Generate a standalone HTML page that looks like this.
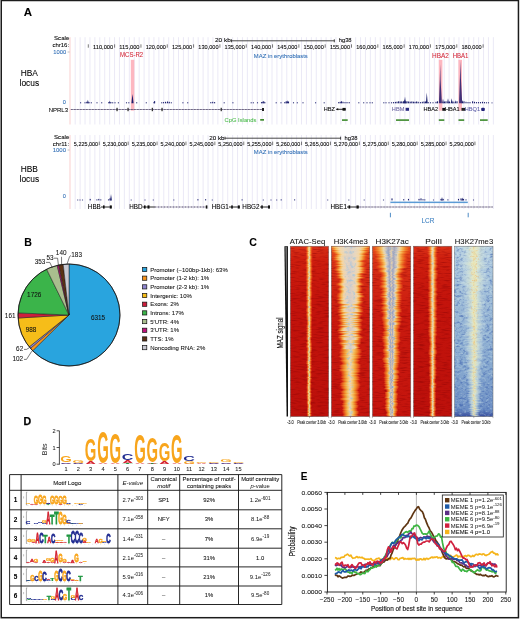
<!DOCTYPE html>
<html><head><meta charset="utf-8"><style>
html,body{margin:0;padding:0;background:#fff;}
svg{display:block;font-family:"Liberation Sans",sans-serif;will-change:transform;}
</style></head><body>
<svg width="520" height="620" viewBox="0 0 520 620">
<defs><linearGradient id="bATAC" x1="0" y1="0" x2="1" y2="0"><stop offset="0" stop-color="#E83A16" stop-opacity="0"/><stop offset="0.18" stop-color="#F05A1E" stop-opacity="0.8"/><stop offset="0.34" stop-color="#FBB440" stop-opacity="1"/><stop offset="0.44" stop-color="#FCEE9A" stop-opacity="1"/><stop offset="0.5" stop-color="#E6F4DA" stop-opacity="1"/><stop offset="0.56" stop-color="#FCEE9A" stop-opacity="1"/><stop offset="0.66" stop-color="#FBB440" stop-opacity="1"/><stop offset="0.82" stop-color="#F05A1E" stop-opacity="0.8"/><stop offset="1" stop-color="#E83A16" stop-opacity="0"/></linearGradient><linearGradient id="bK4" x1="0" y1="0" x2="1" y2="0"><stop offset="0" stop-color="#E23C16" stop-opacity="0"/><stop offset="0.07" stop-color="#E8501A" stop-opacity="0.9"/><stop offset="0.13" stop-color="#F49030" stop-opacity="1"/><stop offset="0.19" stop-color="#FCD468" stop-opacity="1"/><stop offset="0.26" stop-color="#FAF2BC" stop-opacity="1"/><stop offset="0.36" stop-color="#EAF2DC" stop-opacity="1"/><stop offset="0.5" stop-color="#DAEAE6" stop-opacity="1"/><stop offset="0.64" stop-color="#EAF2DC" stop-opacity="1"/><stop offset="0.74" stop-color="#FAF2BC" stop-opacity="1"/><stop offset="0.81" stop-color="#FCD468" stop-opacity="1"/><stop offset="0.87" stop-color="#F49030" stop-opacity="1"/><stop offset="0.93" stop-color="#E8501A" stop-opacity="0.9"/><stop offset="1" stop-color="#E23C16" stop-opacity="0"/></linearGradient><linearGradient id="bK27" x1="0" y1="0" x2="1" y2="0"><stop offset="0" stop-color="#E23C16" stop-opacity="0"/><stop offset="0.08" stop-color="#E8501A" stop-opacity="0.9"/><stop offset="0.17" stop-color="#F49030" stop-opacity="1"/><stop offset="0.25" stop-color="#FCD468" stop-opacity="1"/><stop offset="0.31" stop-color="#EEF2C8" stop-opacity="1"/><stop offset="0.37" stop-color="#C8DEE2" stop-opacity="1"/><stop offset="0.43" stop-color="#9CBAD8" stop-opacity="1"/><stop offset="0.47" stop-color="#C0D4DC" stop-opacity="1"/><stop offset="0.5" stop-color="#F0EEC0" stop-opacity="1"/><stop offset="0.53" stop-color="#C0D4DC" stop-opacity="1"/><stop offset="0.57" stop-color="#9CBAD8" stop-opacity="1"/><stop offset="0.63" stop-color="#C8DEE2" stop-opacity="1"/><stop offset="0.69" stop-color="#EEF2C8" stop-opacity="1"/><stop offset="0.75" stop-color="#FCD468" stop-opacity="1"/><stop offset="0.83" stop-color="#F49030" stop-opacity="1"/><stop offset="0.92" stop-color="#E8501A" stop-opacity="0.9"/><stop offset="1" stop-color="#E23C16" stop-opacity="0"/></linearGradient><linearGradient id="bK4b" x1="0" y1="0" x2="1" y2="0"><stop offset="0" stop-color="#E23C16" stop-opacity="0"/><stop offset="0.1" stop-color="#EA5A1C" stop-opacity="0.9"/><stop offset="0.22" stop-color="#F7A030" stop-opacity="1"/><stop offset="0.34" stop-color="#FCD866" stop-opacity="1"/><stop offset="0.44" stop-color="#FDF0A8" stop-opacity="1"/><stop offset="0.5" stop-color="#F4F4D4" stop-opacity="1"/><stop offset="0.56" stop-color="#FDF0A8" stop-opacity="1"/><stop offset="0.66" stop-color="#FCD866" stop-opacity="1"/><stop offset="0.78" stop-color="#F7A030" stop-opacity="1"/><stop offset="0.9" stop-color="#EA5A1C" stop-opacity="0.9"/><stop offset="1" stop-color="#E23C16" stop-opacity="0"/></linearGradient><linearGradient id="bK27b" x1="0" y1="0" x2="1" y2="0"><stop offset="0" stop-color="#E23C16" stop-opacity="0"/><stop offset="0.1" stop-color="#EA5A1C" stop-opacity="0.9"/><stop offset="0.22" stop-color="#F7A030" stop-opacity="1"/><stop offset="0.32" stop-color="#FCDC70" stop-opacity="1"/><stop offset="0.39" stop-color="#E0ECD4" stop-opacity="1"/><stop offset="0.45" stop-color="#A4C2DC" stop-opacity="1"/><stop offset="0.5" stop-color="#F0ECC0" stop-opacity="1"/><stop offset="0.55" stop-color="#A4C2DC" stop-opacity="1"/><stop offset="0.61" stop-color="#E0ECD4" stop-opacity="1"/><stop offset="0.68" stop-color="#FCDC70" stop-opacity="1"/><stop offset="0.78" stop-color="#F7A030" stop-opacity="1"/><stop offset="0.9" stop-color="#EA5A1C" stop-opacity="0.9"/><stop offset="1" stop-color="#E23C16" stop-opacity="0"/></linearGradient><linearGradient id="bPOL" x1="0" y1="0" x2="1" y2="0"><stop offset="0" stop-color="#E23C16" stop-opacity="0"/><stop offset="0.17" stop-color="#EE5C20" stop-opacity="0.8"/><stop offset="0.32" stop-color="#FAA83C" stop-opacity="1"/><stop offset="0.42" stop-color="#FDE894" stop-opacity="1"/><stop offset="0.5" stop-color="#F2F6D0" stop-opacity="1"/><stop offset="0.58" stop-color="#FDE894" stop-opacity="1"/><stop offset="0.68" stop-color="#FAA83C" stop-opacity="1"/><stop offset="0.83" stop-color="#EE5C20" stop-opacity="0.8"/><stop offset="1" stop-color="#E23C16" stop-opacity="0"/></linearGradient><linearGradient id="bME3" x1="0" y1="0" x2="1" y2="0"><stop offset="0" stop-color="#C4D8E4" stop-opacity="0"/><stop offset="0.18" stop-color="#C8DCE0" stop-opacity="0.6"/><stop offset="0.34" stop-color="#DCE8D4" stop-opacity="0.85"/><stop offset="0.44" stop-color="#F0EEC0" stop-opacity="1"/><stop offset="0.5" stop-color="#F6E8A8" stop-opacity="1"/><stop offset="0.56" stop-color="#F0EEC0" stop-opacity="1"/><stop offset="0.66" stop-color="#DCE8D4" stop-opacity="0.85"/><stop offset="0.82" stop-color="#C8DCE0" stop-opacity="0.6"/><stop offset="1" stop-color="#C4D8E4" stop-opacity="0"/></linearGradient><filter id="nzr" x="0" y="0" width="1" height="1" color-interpolation-filters="sRGB"><feTurbulence type="fractalNoise" baseFrequency="0.12 0.75" numOctaves="2" seed="3"/><feColorMatrix type="matrix" values="0 0 0 0 0.58  0 0 0 0 0.02  0 0 0 0 0.02  0 0 0 -3.0 1.6"/></filter><filter id="nzc" x="0" y="0" width="1" height="1" color-interpolation-filters="sRGB"><feTurbulence type="fractalNoise" baseFrequency="0.3 0.35" numOctaves="2" seed="8"/><feColorMatrix type="matrix" values="0 0 0 0 0.58  0 0 0 0 0.76  0 0 0 0 0.9  0 0 0 -3.4 1.7"/></filter><filter id="nzc2" x="0" y="0" width="1" height="1" color-interpolation-filters="sRGB"><feTurbulence type="fractalNoise" baseFrequency="0.3 0.35" numOctaves="2" seed="12"/><feColorMatrix type="matrix" values="0 0 0 0 0.45  0 0 0 0 0.62  0 0 0 0 0.84  0 0 0 -3.4 1.7"/></filter><filter id="nzb" x="0" y="0" width="1" height="1" color-interpolation-filters="sRGB"><feTurbulence type="fractalNoise" baseFrequency="0.3 0.45" numOctaves="2" seed="5"/><feColorMatrix type="matrix" values="0 0 0 0 0.24  0 0 0 0 0.38  0 0 0 0 0.68  0 0 0 -3.0 1.6"/></filter><filter id="nzo" x="0" y="0" width="1" height="1" color-interpolation-filters="sRGB"><feTurbulence type="fractalNoise" baseFrequency="0.45 0.5" numOctaves="2" seed="14"/><feColorMatrix type="matrix" values="0 0 0 0 0.96  0 0 0 0 0.66  0 0 0 0 0.3  0 0 0 -3.2 1.5"/></filter><filter id="nzl" x="0" y="0" width="1" height="1" color-interpolation-filters="sRGB"><feTurbulence type="fractalNoise" baseFrequency="0.3 0.45" numOctaves="2" seed="6"/><feColorMatrix type="matrix" values="0 0 0 0 0.84  0 0 0 0 0.92  0 0 0 0 0.92  0 0 0 3.0 -1.5"/></filter><linearGradient id="bg0" x1="0" y1="0" x2="0" y2="1"><stop offset="0" stop-color="#DA3218"/><stop offset="0.08" stop-color="#CE1E0E"/><stop offset="0.3" stop-color="#C4140C"/><stop offset="1" stop-color="#BC100B"/></linearGradient><clipPath id="hc0"><rect x="290.3" y="246.2" width="38.4" height="170.40"/></clipPath><linearGradient id="bg1" x1="0" y1="0" x2="0" y2="1"><stop offset="0" stop-color="#E24C1C"/><stop offset="0.1" stop-color="#D83016"/><stop offset="0.4" stop-color="#CA1A0F"/><stop offset="1" stop-color="#C4140D"/></linearGradient><clipPath id="hc1"><rect x="331.3" y="246.2" width="38.4" height="170.40"/></clipPath><linearGradient id="bg2" x1="0" y1="0" x2="0" y2="1"><stop offset="0" stop-color="#E24C1C"/><stop offset="0.1" stop-color="#D83016"/><stop offset="0.4" stop-color="#CA1A0F"/><stop offset="1" stop-color="#C4140D"/></linearGradient><clipPath id="hc2"><rect x="372.4" y="246.2" width="38.4" height="170.40"/></clipPath><linearGradient id="bg3" x1="0" y1="0" x2="0" y2="1"><stop offset="0" stop-color="#DA3218"/><stop offset="0.08" stop-color="#CE1E0E"/><stop offset="0.3" stop-color="#C4140C"/><stop offset="1" stop-color="#BC100B"/></linearGradient><clipPath id="hc3"><rect x="413.5" y="246.2" width="38.4" height="170.40"/></clipPath><linearGradient id="bg4" x1="0" y1="0" x2="0" y2="1"><stop offset="0" stop-color="#B6D0E2"/><stop offset="0.3" stop-color="#9EBCD8"/><stop offset="0.7" stop-color="#88AAD0"/><stop offset="0.96" stop-color="#6C8EC4"/><stop offset="1" stop-color="#34489A"/></linearGradient><clipPath id="hc4"><rect x="454.6" y="246.2" width="38.4" height="170.40"/></clipPath><clipPath id="cc1"><polygon points="344.20,246.2 356.20,246.2 352.70,416.6 347.70,416.6"/></clipPath><clipPath id="cc2"><polygon points="385.30,246.2 397.30,246.2 393.30,416.6 389.30,416.6"/></clipPath><clipPath id="cc0"><polygon points="308.20,246.2 310.20,246.2 309.90,416.6 308.50,416.6"/></clipPath><clipPath id="cc3"><polygon points="430.90,246.2 433.90,246.2 433.40,416.6 431.40,416.6"/></clipPath><clipPath id="cco"><polygon points="469.40,246.2 479.40,246.2 475.90,416.6 472.90,416.6"/></clipPath><linearGradient id="fadeo" x1="0" y1="0" x2="0" y2="1"><stop offset="0" stop-color="#fff"/><stop offset="0.5" stop-color="#fff" stop-opacity="0.6"/><stop offset="1" stop-color="#fff" stop-opacity="0.1"/></linearGradient><mask id="mko"><rect x="0" y="0" width="520" height="620" fill="url(#fadeo)"/></mask></defs>
<rect width="520" height="620" fill="#fff"/>
<text x="23.80" y="16.00" font-size="11.5" fill="#000" font-weight="bold" stroke="#000" stroke-width="0.07">A</text>
<line x1="75.20" y1="37.20" x2="75.20" y2="124.50" stroke="#E9E7F5" stroke-width="0.9"/>
<line x1="80.12" y1="37.20" x2="80.12" y2="124.50" stroke="#E9E7F5" stroke-width="0.9"/>
<line x1="85.04" y1="37.20" x2="85.04" y2="124.50" stroke="#E9E7F5" stroke-width="0.9"/>
<line x1="89.96" y1="37.20" x2="89.96" y2="124.50" stroke="#E9E7F5" stroke-width="0.9"/>
<line x1="94.88" y1="37.20" x2="94.88" y2="124.50" stroke="#E9E7F5" stroke-width="0.9"/>
<line x1="99.80" y1="37.20" x2="99.80" y2="124.50" stroke="#E9E7F5" stroke-width="0.9"/>
<line x1="104.72" y1="37.20" x2="104.72" y2="124.50" stroke="#E9E7F5" stroke-width="0.9"/>
<line x1="109.64" y1="37.20" x2="109.64" y2="124.50" stroke="#E9E7F5" stroke-width="0.9"/>
<line x1="114.56" y1="37.20" x2="114.56" y2="124.50" stroke="#E9E7F5" stroke-width="0.9"/>
<line x1="119.48" y1="37.20" x2="119.48" y2="124.50" stroke="#E9E7F5" stroke-width="0.9"/>
<line x1="124.40" y1="37.20" x2="124.40" y2="124.50" stroke="#E9E7F5" stroke-width="0.9"/>
<line x1="129.32" y1="37.20" x2="129.32" y2="124.50" stroke="#E9E7F5" stroke-width="0.9"/>
<line x1="134.24" y1="37.20" x2="134.24" y2="124.50" stroke="#E9E7F5" stroke-width="0.9"/>
<line x1="139.16" y1="37.20" x2="139.16" y2="124.50" stroke="#E9E7F5" stroke-width="0.9"/>
<line x1="144.08" y1="37.20" x2="144.08" y2="124.50" stroke="#E9E7F5" stroke-width="0.9"/>
<line x1="149.00" y1="37.20" x2="149.00" y2="124.50" stroke="#E9E7F5" stroke-width="0.9"/>
<line x1="153.92" y1="37.20" x2="153.92" y2="124.50" stroke="#E9E7F5" stroke-width="0.9"/>
<line x1="158.84" y1="37.20" x2="158.84" y2="124.50" stroke="#E9E7F5" stroke-width="0.9"/>
<line x1="163.76" y1="37.20" x2="163.76" y2="124.50" stroke="#E9E7F5" stroke-width="0.9"/>
<line x1="168.68" y1="37.20" x2="168.68" y2="124.50" stroke="#E9E7F5" stroke-width="0.9"/>
<line x1="173.60" y1="37.20" x2="173.60" y2="124.50" stroke="#E9E7F5" stroke-width="0.9"/>
<line x1="178.52" y1="37.20" x2="178.52" y2="124.50" stroke="#E9E7F5" stroke-width="0.9"/>
<line x1="183.44" y1="37.20" x2="183.44" y2="124.50" stroke="#E9E7F5" stroke-width="0.9"/>
<line x1="188.36" y1="37.20" x2="188.36" y2="124.50" stroke="#E9E7F5" stroke-width="0.9"/>
<line x1="193.28" y1="37.20" x2="193.28" y2="124.50" stroke="#E9E7F5" stroke-width="0.9"/>
<line x1="198.20" y1="37.20" x2="198.20" y2="124.50" stroke="#E9E7F5" stroke-width="0.9"/>
<line x1="203.12" y1="37.20" x2="203.12" y2="124.50" stroke="#E9E7F5" stroke-width="0.9"/>
<line x1="208.04" y1="37.20" x2="208.04" y2="124.50" stroke="#E9E7F5" stroke-width="0.9"/>
<line x1="212.96" y1="37.20" x2="212.96" y2="124.50" stroke="#E9E7F5" stroke-width="0.9"/>
<line x1="217.88" y1="37.20" x2="217.88" y2="124.50" stroke="#E9E7F5" stroke-width="0.9"/>
<line x1="222.80" y1="37.20" x2="222.80" y2="124.50" stroke="#E9E7F5" stroke-width="0.9"/>
<line x1="227.72" y1="37.20" x2="227.72" y2="124.50" stroke="#E9E7F5" stroke-width="0.9"/>
<line x1="232.64" y1="37.20" x2="232.64" y2="124.50" stroke="#E9E7F5" stroke-width="0.9"/>
<line x1="237.56" y1="37.20" x2="237.56" y2="124.50" stroke="#E9E7F5" stroke-width="0.9"/>
<line x1="242.48" y1="37.20" x2="242.48" y2="124.50" stroke="#E9E7F5" stroke-width="0.9"/>
<line x1="247.40" y1="37.20" x2="247.40" y2="124.50" stroke="#E9E7F5" stroke-width="0.9"/>
<line x1="252.32" y1="37.20" x2="252.32" y2="124.50" stroke="#E9E7F5" stroke-width="0.9"/>
<line x1="257.24" y1="37.20" x2="257.24" y2="124.50" stroke="#E9E7F5" stroke-width="0.9"/>
<line x1="262.16" y1="37.20" x2="262.16" y2="124.50" stroke="#E9E7F5" stroke-width="0.9"/>
<line x1="267.08" y1="37.20" x2="267.08" y2="124.50" stroke="#E9E7F5" stroke-width="0.9"/>
<line x1="272.00" y1="37.20" x2="272.00" y2="124.50" stroke="#E9E7F5" stroke-width="0.9"/>
<line x1="276.92" y1="37.20" x2="276.92" y2="124.50" stroke="#E9E7F5" stroke-width="0.9"/>
<line x1="281.84" y1="37.20" x2="281.84" y2="124.50" stroke="#E9E7F5" stroke-width="0.9"/>
<line x1="286.76" y1="37.20" x2="286.76" y2="124.50" stroke="#E9E7F5" stroke-width="0.9"/>
<line x1="291.68" y1="37.20" x2="291.68" y2="124.50" stroke="#E9E7F5" stroke-width="0.9"/>
<line x1="296.60" y1="37.20" x2="296.60" y2="124.50" stroke="#E9E7F5" stroke-width="0.9"/>
<line x1="301.52" y1="37.20" x2="301.52" y2="124.50" stroke="#E9E7F5" stroke-width="0.9"/>
<line x1="306.44" y1="37.20" x2="306.44" y2="124.50" stroke="#E9E7F5" stroke-width="0.9"/>
<line x1="311.36" y1="37.20" x2="311.36" y2="124.50" stroke="#E9E7F5" stroke-width="0.9"/>
<line x1="316.28" y1="37.20" x2="316.28" y2="124.50" stroke="#E9E7F5" stroke-width="0.9"/>
<line x1="321.20" y1="37.20" x2="321.20" y2="124.50" stroke="#E9E7F5" stroke-width="0.9"/>
<line x1="326.12" y1="37.20" x2="326.12" y2="124.50" stroke="#E9E7F5" stroke-width="0.9"/>
<line x1="331.04" y1="37.20" x2="331.04" y2="124.50" stroke="#E9E7F5" stroke-width="0.9"/>
<line x1="335.96" y1="37.20" x2="335.96" y2="124.50" stroke="#E9E7F5" stroke-width="0.9"/>
<line x1="340.88" y1="37.20" x2="340.88" y2="124.50" stroke="#E9E7F5" stroke-width="0.9"/>
<line x1="345.80" y1="37.20" x2="345.80" y2="124.50" stroke="#E9E7F5" stroke-width="0.9"/>
<line x1="350.72" y1="37.20" x2="350.72" y2="124.50" stroke="#E9E7F5" stroke-width="0.9"/>
<line x1="355.64" y1="37.20" x2="355.64" y2="124.50" stroke="#E9E7F5" stroke-width="0.9"/>
<line x1="360.56" y1="37.20" x2="360.56" y2="124.50" stroke="#E9E7F5" stroke-width="0.9"/>
<line x1="365.48" y1="37.20" x2="365.48" y2="124.50" stroke="#E9E7F5" stroke-width="0.9"/>
<line x1="370.40" y1="37.20" x2="370.40" y2="124.50" stroke="#E9E7F5" stroke-width="0.9"/>
<line x1="375.32" y1="37.20" x2="375.32" y2="124.50" stroke="#E9E7F5" stroke-width="0.9"/>
<line x1="380.24" y1="37.20" x2="380.24" y2="124.50" stroke="#E9E7F5" stroke-width="0.9"/>
<line x1="385.16" y1="37.20" x2="385.16" y2="124.50" stroke="#E9E7F5" stroke-width="0.9"/>
<line x1="390.08" y1="37.20" x2="390.08" y2="124.50" stroke="#E9E7F5" stroke-width="0.9"/>
<line x1="395.00" y1="37.20" x2="395.00" y2="124.50" stroke="#E9E7F5" stroke-width="0.9"/>
<line x1="399.92" y1="37.20" x2="399.92" y2="124.50" stroke="#E9E7F5" stroke-width="0.9"/>
<line x1="404.84" y1="37.20" x2="404.84" y2="124.50" stroke="#E9E7F5" stroke-width="0.9"/>
<line x1="409.76" y1="37.20" x2="409.76" y2="124.50" stroke="#E9E7F5" stroke-width="0.9"/>
<line x1="414.68" y1="37.20" x2="414.68" y2="124.50" stroke="#E9E7F5" stroke-width="0.9"/>
<line x1="419.60" y1="37.20" x2="419.60" y2="124.50" stroke="#E9E7F5" stroke-width="0.9"/>
<line x1="424.52" y1="37.20" x2="424.52" y2="124.50" stroke="#E9E7F5" stroke-width="0.9"/>
<line x1="429.44" y1="37.20" x2="429.44" y2="124.50" stroke="#E9E7F5" stroke-width="0.9"/>
<line x1="434.36" y1="37.20" x2="434.36" y2="124.50" stroke="#E9E7F5" stroke-width="0.9"/>
<line x1="439.28" y1="37.20" x2="439.28" y2="124.50" stroke="#E9E7F5" stroke-width="0.9"/>
<line x1="444.20" y1="37.20" x2="444.20" y2="124.50" stroke="#E9E7F5" stroke-width="0.9"/>
<line x1="449.12" y1="37.20" x2="449.12" y2="124.50" stroke="#E9E7F5" stroke-width="0.9"/>
<line x1="454.04" y1="37.20" x2="454.04" y2="124.50" stroke="#E9E7F5" stroke-width="0.9"/>
<line x1="458.96" y1="37.20" x2="458.96" y2="124.50" stroke="#E9E7F5" stroke-width="0.9"/>
<line x1="463.88" y1="37.20" x2="463.88" y2="124.50" stroke="#E9E7F5" stroke-width="0.9"/>
<line x1="468.80" y1="37.20" x2="468.80" y2="124.50" stroke="#E9E7F5" stroke-width="0.9"/>
<line x1="473.72" y1="37.20" x2="473.72" y2="124.50" stroke="#E9E7F5" stroke-width="0.9"/>
<line x1="478.64" y1="37.20" x2="478.64" y2="124.50" stroke="#E9E7F5" stroke-width="0.9"/>
<line x1="483.56" y1="37.20" x2="483.56" y2="124.50" stroke="#E9E7F5" stroke-width="0.9"/>
<line x1="488.48" y1="37.20" x2="488.48" y2="124.50" stroke="#E9E7F5" stroke-width="0.9"/>
<line x1="493.40" y1="37.20" x2="493.40" y2="124.50" stroke="#E9E7F5" stroke-width="0.9"/>
<line x1="70.00" y1="37.20" x2="70.00" y2="124.50" stroke="#F9CFCF" stroke-width="1.0"/>
<text x="29.30" y="75.70" font-size="8.4" fill="#000" text-anchor="middle" stroke="#000" stroke-width="0.07">HBA</text>
<text x="29.30" y="86.00" font-size="8.4" fill="#000" text-anchor="middle" stroke="#000" stroke-width="0.07">locus</text>
<text x="69.30" y="39.80" font-size="6.1" fill="#000" text-anchor="end" stroke="#000" stroke-width="0.07">Scale</text>
<text x="69.10" y="47.30" font-size="6.0" fill="#000" text-anchor="end" stroke="#000" stroke-width="0.07">chr16:</text>
<text x="66.20" y="53.90" font-size="5.8" fill="#2F6DB5" text-anchor="end" stroke="#2F6DB5" stroke-width="0.07">1000</text>
<line x1="67.60" y1="52.00" x2="69.60" y2="52.00" stroke="#999" stroke-width="0.6"/>
<text x="65.80" y="104.30" font-size="5.6" fill="#2F6DB5" text-anchor="end" stroke="#2F6DB5" stroke-width="0.07">0</text>
<line x1="88.30" y1="44.30" x2="88.30" y2="47.70" stroke="#222" stroke-width="0.6"/>
<line x1="114.62" y1="44.30" x2="114.62" y2="47.70" stroke="#222" stroke-width="0.6"/>
<text x="113.22" y="48.70" font-size="5.6" fill="#000" text-anchor="end" textLength="20.2" lengthAdjust="spacingAndGlyphs" stroke="#000" stroke-width="0.07">110,000</text>
<line x1="140.94" y1="44.30" x2="140.94" y2="47.70" stroke="#222" stroke-width="0.6"/>
<text x="139.54" y="48.70" font-size="5.6" fill="#000" text-anchor="end" textLength="20.2" lengthAdjust="spacingAndGlyphs" stroke="#000" stroke-width="0.07">115,000</text>
<line x1="167.26" y1="44.30" x2="167.26" y2="47.70" stroke="#222" stroke-width="0.6"/>
<text x="165.86" y="48.70" font-size="5.6" fill="#000" text-anchor="end" textLength="20.2" lengthAdjust="spacingAndGlyphs" stroke="#000" stroke-width="0.07">120,000</text>
<line x1="193.58" y1="44.30" x2="193.58" y2="47.70" stroke="#222" stroke-width="0.6"/>
<text x="192.18" y="48.70" font-size="5.6" fill="#000" text-anchor="end" textLength="20.2" lengthAdjust="spacingAndGlyphs" stroke="#000" stroke-width="0.07">125,000</text>
<line x1="219.90" y1="44.30" x2="219.90" y2="47.70" stroke="#222" stroke-width="0.6"/>
<text x="218.50" y="48.70" font-size="5.6" fill="#000" text-anchor="end" textLength="20.2" lengthAdjust="spacingAndGlyphs" stroke="#000" stroke-width="0.07">130,000</text>
<line x1="246.22" y1="44.30" x2="246.22" y2="47.70" stroke="#222" stroke-width="0.6"/>
<text x="244.82" y="48.70" font-size="5.6" fill="#000" text-anchor="end" textLength="20.2" lengthAdjust="spacingAndGlyphs" stroke="#000" stroke-width="0.07">135,000</text>
<line x1="272.54" y1="44.30" x2="272.54" y2="47.70" stroke="#222" stroke-width="0.6"/>
<text x="271.14" y="48.70" font-size="5.6" fill="#000" text-anchor="end" textLength="20.2" lengthAdjust="spacingAndGlyphs" stroke="#000" stroke-width="0.07">140,000</text>
<line x1="298.86" y1="44.30" x2="298.86" y2="47.70" stroke="#222" stroke-width="0.6"/>
<text x="297.46" y="48.70" font-size="5.6" fill="#000" text-anchor="end" textLength="20.2" lengthAdjust="spacingAndGlyphs" stroke="#000" stroke-width="0.07">145,000</text>
<line x1="325.18" y1="44.30" x2="325.18" y2="47.70" stroke="#222" stroke-width="0.6"/>
<text x="323.78" y="48.70" font-size="5.6" fill="#000" text-anchor="end" textLength="20.2" lengthAdjust="spacingAndGlyphs" stroke="#000" stroke-width="0.07">150,000</text>
<line x1="351.50" y1="44.30" x2="351.50" y2="47.70" stroke="#222" stroke-width="0.6"/>
<text x="350.10" y="48.70" font-size="5.6" fill="#000" text-anchor="end" textLength="20.2" lengthAdjust="spacingAndGlyphs" stroke="#000" stroke-width="0.07">155,000</text>
<line x1="377.82" y1="44.30" x2="377.82" y2="47.70" stroke="#222" stroke-width="0.6"/>
<text x="376.42" y="48.70" font-size="5.6" fill="#000" text-anchor="end" textLength="20.2" lengthAdjust="spacingAndGlyphs" stroke="#000" stroke-width="0.07">160,000</text>
<line x1="404.14" y1="44.30" x2="404.14" y2="47.70" stroke="#222" stroke-width="0.6"/>
<text x="402.74" y="48.70" font-size="5.6" fill="#000" text-anchor="end" textLength="20.2" lengthAdjust="spacingAndGlyphs" stroke="#000" stroke-width="0.07">165,000</text>
<line x1="430.46" y1="44.30" x2="430.46" y2="47.70" stroke="#222" stroke-width="0.6"/>
<text x="429.06" y="48.70" font-size="5.6" fill="#000" text-anchor="end" textLength="20.2" lengthAdjust="spacingAndGlyphs" stroke="#000" stroke-width="0.07">170,000</text>
<line x1="456.78" y1="44.30" x2="456.78" y2="47.70" stroke="#222" stroke-width="0.6"/>
<text x="455.38" y="48.70" font-size="5.6" fill="#000" text-anchor="end" textLength="20.2" lengthAdjust="spacingAndGlyphs" stroke="#000" stroke-width="0.07">175,000</text>
<line x1="483.10" y1="44.30" x2="483.10" y2="47.70" stroke="#222" stroke-width="0.6"/>
<text x="481.70" y="48.70" font-size="5.6" fill="#000" text-anchor="end" textLength="20.2" lengthAdjust="spacingAndGlyphs" stroke="#000" stroke-width="0.07">180,000</text>
<text x="230.90" y="42.10" font-size="5.6" fill="#000" text-anchor="end" textLength="15.9" lengthAdjust="spacingAndGlyphs" stroke="#000" stroke-width="0.07">20 kb</text>
<line x1="231.30" y1="40.80" x2="334.50" y2="40.80" stroke="#333" stroke-width="0.9"/>
<line x1="231.50" y1="39.30" x2="231.50" y2="42.30" stroke="#333" stroke-width="0.9"/>
<line x1="334.30" y1="39.30" x2="334.30" y2="42.30" stroke="#333" stroke-width="0.9"/>
<text x="338.70" y="42.10" font-size="5.8" fill="#000" stroke="#000" stroke-width="0.07">hg38</text>
<text x="253.80" y="57.80" font-size="6.0" fill="#2F6DB5" textLength="54" lengthAdjust="spacingAndGlyphs" stroke="#2F6DB5" stroke-width="0.07">MAZ in erythroblasts</text>
<text x="131.60" y="57.20" font-size="6.4" fill="#D42A3C" text-anchor="middle" textLength="23" lengthAdjust="spacingAndGlyphs" stroke="#D42A3C" stroke-width="0.07">MCS-R2</text>
<text x="440.40" y="57.80" font-size="6.4" fill="#D42A3C" text-anchor="middle" textLength="16.8" lengthAdjust="spacingAndGlyphs" stroke="#D42A3C" stroke-width="0.07">HBA2</text>
<text x="460.60" y="57.80" font-size="6.4" fill="#D42A3C" text-anchor="middle" textLength="15.8" lengthAdjust="spacingAndGlyphs" stroke="#D42A3C" stroke-width="0.07">HBA1</text>
<rect x="130.80" y="59.80" width="3.50" height="50.80" fill="#FDB7C0"/>
<rect x="438.80" y="59.80" width="3.60" height="50.80" fill="#FDB7C0"/>
<rect x="458.40" y="59.80" width="3.60" height="50.80" fill="#FDB7C0"/>
<rect x="80.05" y="102.30" width="1.10" height="1.00" fill="#1B1F6E"/>
<rect x="84.45" y="102.30" width="1.10" height="1.00" fill="#1B1F6E"/>
<rect x="86.25" y="101.80" width="1.10" height="1.50" fill="#1B1F6E"/>
<path d="M87.00,103.30 L87.90,99.80 L88.80,103.30 Z" fill="#1B1F6E" stroke="none" stroke-width="1"/>
<rect x="88.45" y="102.10" width="1.10" height="1.20" fill="#1B1F6E"/>
<rect x="90.75" y="102.30" width="1.10" height="1.00" fill="#1B1F6E"/>
<rect x="96.45" y="102.30" width="1.10" height="1.00" fill="#1B1F6E"/>
<rect x="101.15" y="102.30" width="1.10" height="1.00" fill="#1B1F6E"/>
<rect x="108.25" y="102.10" width="1.10" height="1.20" fill="#1B1F6E"/>
<path d="M108.90,103.30 L109.80,100.80 L110.70,103.30 Z" fill="#1B1F6E" stroke="none" stroke-width="1"/>
<rect x="110.35" y="102.10" width="1.10" height="1.20" fill="#1B1F6E"/>
<rect x="112.15" y="102.30" width="1.10" height="1.00" fill="#1B1F6E"/>
<rect x="114.45" y="102.30" width="1.10" height="1.00" fill="#1B1F6E"/>
<rect x="117.85" y="102.30" width="1.10" height="1.00" fill="#1B1F6E"/>
<rect x="125.95" y="102.30" width="1.10" height="1.00" fill="#1B1F6E"/>
<rect x="128.25" y="102.30" width="1.10" height="1.00" fill="#1B1F6E"/>
<rect x="136.15" y="102.30" width="1.10" height="1.00" fill="#1B1F6E"/>
<rect x="145.75" y="102.30" width="1.10" height="1.00" fill="#1B1F6E"/>
<rect x="153.45" y="102.10" width="1.10" height="1.20" fill="#1B1F6E"/>
<rect x="154.05" y="101.10" width="1.10" height="2.20" fill="#1B1F6E"/>
<rect x="161.15" y="102.30" width="1.10" height="1.00" fill="#1B1F6E"/>
<rect x="162.95" y="102.10" width="1.10" height="1.20" fill="#1B1F6E"/>
<rect x="164.95" y="101.80" width="1.10" height="1.50" fill="#1B1F6E"/>
<path d="M166.60,103.30 L167.50,100.80 L168.40,103.30 Z" fill="#1B1F6E" stroke="none" stroke-width="1"/>
<rect x="168.75" y="101.80" width="1.10" height="1.50" fill="#1B1F6E"/>
<rect x="170.75" y="102.30" width="1.10" height="1.00" fill="#1B1F6E"/>
<rect x="182.35" y="102.30" width="1.10" height="1.00" fill="#1B1F6E"/>
<rect x="187.15" y="102.30" width="1.10" height="1.00" fill="#1B1F6E"/>
<rect x="210.25" y="102.10" width="1.10" height="1.20" fill="#1B1F6E"/>
<rect x="212.15" y="101.80" width="1.10" height="1.50" fill="#1B1F6E"/>
<rect x="214.05" y="102.10" width="1.10" height="1.20" fill="#1B1F6E"/>
<rect x="223.65" y="102.30" width="1.10" height="1.00" fill="#1B1F6E"/>
<rect x="232.35" y="102.30" width="1.10" height="1.00" fill="#1B1F6E"/>
<rect x="250.65" y="102.30" width="1.10" height="1.00" fill="#1B1F6E"/>
<rect x="252.75" y="102.30" width="1.10" height="1.00" fill="#1B1F6E"/>
<rect x="256.95" y="102.30" width="1.10" height="1.00" fill="#1B1F6E"/>
<rect x="260.95" y="102.10" width="1.10" height="1.20" fill="#1B1F6E"/>
<rect x="262.25" y="101.70" width="1.10" height="1.60" fill="#1B1F6E"/>
<rect x="263.15" y="101.30" width="1.10" height="2.00" fill="#1B1F6E"/>
<rect x="264.25" y="102.10" width="1.10" height="1.20" fill="#1B1F6E"/>
<rect x="275.65" y="102.30" width="1.10" height="1.00" fill="#1B1F6E"/>
<rect x="280.45" y="102.30" width="1.10" height="1.00" fill="#1B1F6E"/>
<rect x="284.25" y="102.10" width="1.10" height="1.20" fill="#1B1F6E"/>
<rect x="285.65" y="101.30" width="1.10" height="2.00" fill="#1B1F6E"/>
<path d="M286.40,103.30 L287.30,100.30 L288.20,103.30 Z" fill="#1B1F6E" stroke="none" stroke-width="1"/>
<rect x="287.95" y="101.50" width="1.10" height="1.80" fill="#1B1F6E"/>
<rect x="292.95" y="102.30" width="1.10" height="1.00" fill="#1B1F6E"/>
<rect x="296.75" y="102.30" width="1.10" height="1.00" fill="#1B1F6E"/>
<rect x="302.45" y="102.30" width="1.10" height="1.00" fill="#1B1F6E"/>
<rect x="315.05" y="102.30" width="1.10" height="1.00" fill="#1B1F6E"/>
<rect x="323.65" y="102.30" width="1.10" height="1.00" fill="#1B1F6E"/>
<rect x="338.15" y="102.10" width="1.10" height="1.20" fill="#1B1F6E"/>
<rect x="339.65" y="101.80" width="1.10" height="1.50" fill="#1B1F6E"/>
<rect x="340.95" y="101.30" width="1.10" height="2.00" fill="#1B1F6E"/>
<rect x="342.45" y="101.80" width="1.10" height="1.50" fill="#1B1F6E"/>
<rect x="344.45" y="102.10" width="1.10" height="1.20" fill="#1B1F6E"/>
<rect x="346.45" y="102.10" width="1.10" height="1.20" fill="#1B1F6E"/>
<rect x="348.65" y="102.10" width="1.10" height="1.20" fill="#1B1F6E"/>
<rect x="358.25" y="102.30" width="1.10" height="1.00" fill="#1B1F6E"/>
<rect x="363.15" y="102.30" width="1.10" height="1.00" fill="#1B1F6E"/>
<rect x="366.45" y="102.30" width="1.10" height="1.00" fill="#1B1F6E"/>
<rect x="369.45" y="102.30" width="1.10" height="1.00" fill="#1B1F6E"/>
<rect x="371.75" y="102.30" width="1.10" height="1.00" fill="#1B1F6E"/>
<rect x="383.25" y="102.30" width="1.10" height="1.00" fill="#1B1F6E"/>
<rect x="385.45" y="102.30" width="1.10" height="1.00" fill="#1B1F6E"/>
<rect x="388.45" y="102.30" width="1.10" height="1.00" fill="#1B1F6E"/>
<rect x="390.95" y="102.30" width="1.10" height="1.00" fill="#1B1F6E"/>
<rect x="392.95" y="102.10" width="1.10" height="1.20" fill="#1B1F6E"/>
<rect x="394.85" y="101.90" width="1.10" height="1.40" fill="#1B1F6E"/>
<rect x="396.45" y="101.70" width="1.10" height="1.60" fill="#1B1F6E"/>
<rect x="398.05" y="101.30" width="1.10" height="2.00" fill="#1B1F6E"/>
<rect x="399.65" y="101.50" width="1.10" height="1.80" fill="#1B1F6E"/>
<path d="M400.90,103.30 L401.80,100.80 L402.70,103.30 Z" fill="#1B1F6E" stroke="none" stroke-width="1"/>
<rect x="402.85" y="101.30" width="1.10" height="2.00" fill="#1B1F6E"/>
<path d="M403.40,103.30 L404.30,99.30 L405.20,103.30 Z" fill="#1B1F6E" stroke="none" stroke-width="1"/>
<path d="M404.10,103.30 L405.00,96.80 L405.90,103.30 Z" fill="#1B1F6E" stroke="none" stroke-width="1"/>
<path d="M404.90,103.30 L405.80,100.30 L406.70,103.30 Z" fill="#1B1F6E" stroke="none" stroke-width="1"/>
<rect x="406.45" y="101.30" width="1.10" height="2.00" fill="#1B1F6E"/>
<rect x="408.05" y="101.50" width="1.10" height="1.80" fill="#1B1F6E"/>
<rect x="409.65" y="101.70" width="1.10" height="1.60" fill="#1B1F6E"/>
<rect x="411.25" y="101.50" width="1.10" height="1.80" fill="#1B1F6E"/>
<rect x="412.85" y="101.70" width="1.10" height="1.60" fill="#1B1F6E"/>
<rect x="414.45" y="101.80" width="1.10" height="1.50" fill="#1B1F6E"/>
<rect x="416.05" y="101.50" width="1.10" height="1.80" fill="#1B1F6E"/>
<rect x="417.65" y="101.80" width="1.10" height="1.50" fill="#1B1F6E"/>
<rect x="419.85" y="102.10" width="1.10" height="1.20" fill="#1B1F6E"/>
<rect x="421.75" y="101.80" width="1.10" height="1.50" fill="#1B1F6E"/>
<rect x="423.45" y="101.50" width="1.10" height="1.80" fill="#1B1F6E"/>
<path d="M424.60,103.30 L425.50,100.80 L426.40,103.30 Z" fill="#1B1F6E" stroke="none" stroke-width="1"/>
<rect x="427.65" y="102.10" width="1.10" height="1.20" fill="#1B1F6E"/>
<rect x="429.95" y="102.30" width="1.10" height="1.00" fill="#1B1F6E"/>
<rect x="432.45" y="102.30" width="1.10" height="1.00" fill="#1B1F6E"/>
<rect x="435.45" y="101.80" width="1.10" height="1.50" fill="#1B1F6E"/>
<rect x="436.95" y="101.30" width="1.10" height="2.00" fill="#1B1F6E"/>
<path d="M442.10,103.30 L443.00,98.80 L443.90,103.30 Z" fill="#1B1F6E" stroke="none" stroke-width="1"/>
<path d="M443.60,103.30 L444.50,100.80 L445.40,103.30 Z" fill="#1B1F6E" stroke="none" stroke-width="1"/>
<rect x="445.45" y="101.30" width="1.10" height="2.00" fill="#1B1F6E"/>
<path d="M447.10,103.30 L448.00,98.30 L448.90,103.30 Z" fill="#1B1F6E" stroke="none" stroke-width="1"/>
<path d="M448.60,103.30 L449.50,100.80 L450.40,103.30 Z" fill="#1B1F6E" stroke="none" stroke-width="1"/>
<path d="M450.80,103.30 L451.70,98.30 L452.60,103.30 Z" fill="#1B1F6E" stroke="none" stroke-width="1"/>
<path d="M452.10,103.30 L453.00,100.80 L453.90,103.30 Z" fill="#1B1F6E" stroke="none" stroke-width="1"/>
<path d="M454.40,103.30 L455.30,100.30 L456.20,103.30 Z" fill="#1B1F6E" stroke="none" stroke-width="1"/>
<rect x="456.45" y="101.30" width="1.10" height="2.00" fill="#1B1F6E"/>
<path d="M461.60,103.30 L462.50,100.30 L463.40,103.30 Z" fill="#1B1F6E" stroke="none" stroke-width="1"/>
<rect x="463.45" y="101.30" width="1.10" height="2.00" fill="#1B1F6E"/>
<rect x="465.45" y="101.80" width="1.10" height="1.50" fill="#1B1F6E"/>
<rect x="467.45" y="102.10" width="1.10" height="1.20" fill="#1B1F6E"/>
<rect x="469.45" y="102.10" width="1.10" height="1.20" fill="#1B1F6E"/>
<rect x="472.05" y="101.30" width="1.10" height="2.00" fill="#1B1F6E"/>
<rect x="473.95" y="101.80" width="1.10" height="1.50" fill="#1B1F6E"/>
<rect x="475.95" y="102.10" width="1.10" height="1.20" fill="#1B1F6E"/>
<rect x="477.95" y="102.10" width="1.10" height="1.20" fill="#1B1F6E"/>
<rect x="479.95" y="102.10" width="1.10" height="1.20" fill="#1B1F6E"/>
<rect x="481.95" y="101.80" width="1.10" height="1.50" fill="#1B1F6E"/>
<rect x="483.95" y="102.10" width="1.10" height="1.20" fill="#1B1F6E"/>
<rect x="485.95" y="102.30" width="1.10" height="1.00" fill="#1B1F6E"/>
<rect x="487.95" y="102.30" width="1.10" height="1.00" fill="#1B1F6E"/>
<rect x="491.45" y="102.50" width="1.10" height="0.80" fill="#1B1F6E"/>
<path d="M131.40,103.30 L132.50,94.00 L133.60,103.30 Z" fill="#1B1F6E" stroke="none" stroke-width="1"/>
<path d="M425.90,103.30 L426.80,92.50 L427.70,103.30 Z" fill="#1B1F6E" stroke="none" stroke-width="1"/>
<path d="M438.9,103.3 L439.8,80 L440.2,64.2 L440.6,80 L441.9,103.3 Z" fill="#2E2270" stroke="none" stroke-width="1" fill-opacity="0.9"/>
<path d="M459.0,103.3 L459.9,78 L460.4,60.9 L460.9,78 L462.2,103.3 Z" fill="#2E2270" stroke="none" stroke-width="1" fill-opacity="0.9"/>
<text x="68.00" y="111.90" font-size="6.0" fill="#000" text-anchor="end" stroke="#000" stroke-width="0.07">NPRL3</text>
<line x1="70.80" y1="109.50" x2="263.50" y2="109.50" stroke="#4E4468" stroke-width="1.1" stroke-dasharray="1 0.5"/>
<rect x="116.40" y="107.80" width="1.30" height="3.40" fill="#333"/>
<rect x="127.40" y="107.80" width="1.30" height="3.40" fill="#333"/>
<rect x="151.70" y="107.80" width="1.30" height="3.40" fill="#333"/>
<rect x="161.40" y="107.80" width="1.30" height="3.40" fill="#333"/>
<rect x="220.60" y="107.80" width="1.30" height="3.40" fill="#333"/>
<rect x="262.00" y="108.00" width="2.00" height="3.00" fill="#222"/>
<text x="256.50" y="121.60" font-size="5.6" fill="#4DBB4D" text-anchor="end" textLength="32" lengthAdjust="spacingAndGlyphs" stroke="#4DBB4D" stroke-width="0.07">CpG Islands</text>
<rect x="260.20" y="119.00" width="3.80" height="1.70" fill="#3F8B2E"/>
<rect x="342.00" y="119.30" width="5.70" height="1.60" fill="#3F8B2E"/>
<rect x="396.00" y="119.30" width="13.00" height="1.60" fill="#3F8B2E"/>
<rect x="438.80" y="119.30" width="5.50" height="1.60" fill="#3F8B2E"/>
<rect x="458.50" y="119.30" width="5.70" height="1.60" fill="#3F8B2E"/>
<rect x="480.00" y="119.30" width="7.70" height="1.60" fill="#3F8B2E"/>
<text x="335.00" y="111.30" font-size="5.6" fill="#000" text-anchor="end" stroke="#000" stroke-width="0.07">HBZ</text>
<path d="M336.2,109.3 L345.5,109.3" fill="none" stroke="#111" stroke-width="0.9"/>
<path d="M336.2,109.3 L338.2,108.0 L338.2,110.6 Z" fill="#111" stroke="none" stroke-width="1"/>
<rect x="342.50" y="107.90" width="3.20" height="2.80" fill="#111"/>
<text x="404.30" y="111.30" font-size="5.6" fill="#6A63A0" text-anchor="end" stroke="#6A63A0" stroke-width="0.07">HBM</text>
<rect x="405.60" y="107.80" width="3.40" height="3.00" fill="#2B2A80"/>
<text x="438.00" y="111.30" font-size="5.6" fill="#000" text-anchor="end" stroke="#000" stroke-width="0.07">HBA2</text>
<rect x="442.30" y="107.90" width="3.10" height="2.90" fill="#111"/>
<text x="459.70" y="111.30" font-size="5.6" fill="#000" text-anchor="end" stroke="#000" stroke-width="0.07">HBA1</text>
<rect x="461.50" y="107.90" width="3.90" height="2.90" fill="#222"/>
<text x="480.00" y="111.30" font-size="5.6" fill="#5A5AA5" text-anchor="end" stroke="#5A5AA5" stroke-width="0.07">HBQ1</text>
<rect x="481.20" y="107.80" width="3.60" height="3.20" fill="#22227A" rx="1"/>
<line x1="75.20" y1="135.00" x2="75.20" y2="209.00" stroke="#E9E7F5" stroke-width="0.9"/>
<line x1="80.12" y1="135.00" x2="80.12" y2="209.00" stroke="#E9E7F5" stroke-width="0.9"/>
<line x1="85.04" y1="135.00" x2="85.04" y2="209.00" stroke="#E9E7F5" stroke-width="0.9"/>
<line x1="89.96" y1="135.00" x2="89.96" y2="209.00" stroke="#E9E7F5" stroke-width="0.9"/>
<line x1="94.88" y1="135.00" x2="94.88" y2="209.00" stroke="#E9E7F5" stroke-width="0.9"/>
<line x1="99.80" y1="135.00" x2="99.80" y2="209.00" stroke="#E9E7F5" stroke-width="0.9"/>
<line x1="104.72" y1="135.00" x2="104.72" y2="209.00" stroke="#E9E7F5" stroke-width="0.9"/>
<line x1="109.64" y1="135.00" x2="109.64" y2="209.00" stroke="#E9E7F5" stroke-width="0.9"/>
<line x1="114.56" y1="135.00" x2="114.56" y2="209.00" stroke="#E9E7F5" stroke-width="0.9"/>
<line x1="119.48" y1="135.00" x2="119.48" y2="209.00" stroke="#E9E7F5" stroke-width="0.9"/>
<line x1="124.40" y1="135.00" x2="124.40" y2="209.00" stroke="#E9E7F5" stroke-width="0.9"/>
<line x1="129.32" y1="135.00" x2="129.32" y2="209.00" stroke="#E9E7F5" stroke-width="0.9"/>
<line x1="134.24" y1="135.00" x2="134.24" y2="209.00" stroke="#E9E7F5" stroke-width="0.9"/>
<line x1="139.16" y1="135.00" x2="139.16" y2="209.00" stroke="#E9E7F5" stroke-width="0.9"/>
<line x1="144.08" y1="135.00" x2="144.08" y2="209.00" stroke="#E9E7F5" stroke-width="0.9"/>
<line x1="149.00" y1="135.00" x2="149.00" y2="209.00" stroke="#E9E7F5" stroke-width="0.9"/>
<line x1="153.92" y1="135.00" x2="153.92" y2="209.00" stroke="#E9E7F5" stroke-width="0.9"/>
<line x1="158.84" y1="135.00" x2="158.84" y2="209.00" stroke="#E9E7F5" stroke-width="0.9"/>
<line x1="163.76" y1="135.00" x2="163.76" y2="209.00" stroke="#E9E7F5" stroke-width="0.9"/>
<line x1="168.68" y1="135.00" x2="168.68" y2="209.00" stroke="#E9E7F5" stroke-width="0.9"/>
<line x1="173.60" y1="135.00" x2="173.60" y2="209.00" stroke="#E9E7F5" stroke-width="0.9"/>
<line x1="178.52" y1="135.00" x2="178.52" y2="209.00" stroke="#E9E7F5" stroke-width="0.9"/>
<line x1="183.44" y1="135.00" x2="183.44" y2="209.00" stroke="#E9E7F5" stroke-width="0.9"/>
<line x1="188.36" y1="135.00" x2="188.36" y2="209.00" stroke="#E9E7F5" stroke-width="0.9"/>
<line x1="193.28" y1="135.00" x2="193.28" y2="209.00" stroke="#E9E7F5" stroke-width="0.9"/>
<line x1="198.20" y1="135.00" x2="198.20" y2="209.00" stroke="#E9E7F5" stroke-width="0.9"/>
<line x1="203.12" y1="135.00" x2="203.12" y2="209.00" stroke="#E9E7F5" stroke-width="0.9"/>
<line x1="208.04" y1="135.00" x2="208.04" y2="209.00" stroke="#E9E7F5" stroke-width="0.9"/>
<line x1="212.96" y1="135.00" x2="212.96" y2="209.00" stroke="#E9E7F5" stroke-width="0.9"/>
<line x1="217.88" y1="135.00" x2="217.88" y2="209.00" stroke="#E9E7F5" stroke-width="0.9"/>
<line x1="222.80" y1="135.00" x2="222.80" y2="209.00" stroke="#E9E7F5" stroke-width="0.9"/>
<line x1="227.72" y1="135.00" x2="227.72" y2="209.00" stroke="#E9E7F5" stroke-width="0.9"/>
<line x1="232.64" y1="135.00" x2="232.64" y2="209.00" stroke="#E9E7F5" stroke-width="0.9"/>
<line x1="237.56" y1="135.00" x2="237.56" y2="209.00" stroke="#E9E7F5" stroke-width="0.9"/>
<line x1="242.48" y1="135.00" x2="242.48" y2="209.00" stroke="#E9E7F5" stroke-width="0.9"/>
<line x1="247.40" y1="135.00" x2="247.40" y2="209.00" stroke="#E9E7F5" stroke-width="0.9"/>
<line x1="252.32" y1="135.00" x2="252.32" y2="209.00" stroke="#E9E7F5" stroke-width="0.9"/>
<line x1="257.24" y1="135.00" x2="257.24" y2="209.00" stroke="#E9E7F5" stroke-width="0.9"/>
<line x1="262.16" y1="135.00" x2="262.16" y2="209.00" stroke="#E9E7F5" stroke-width="0.9"/>
<line x1="267.08" y1="135.00" x2="267.08" y2="209.00" stroke="#E9E7F5" stroke-width="0.9"/>
<line x1="272.00" y1="135.00" x2="272.00" y2="209.00" stroke="#E9E7F5" stroke-width="0.9"/>
<line x1="276.92" y1="135.00" x2="276.92" y2="209.00" stroke="#E9E7F5" stroke-width="0.9"/>
<line x1="281.84" y1="135.00" x2="281.84" y2="209.00" stroke="#E9E7F5" stroke-width="0.9"/>
<line x1="286.76" y1="135.00" x2="286.76" y2="209.00" stroke="#E9E7F5" stroke-width="0.9"/>
<line x1="291.68" y1="135.00" x2="291.68" y2="209.00" stroke="#E9E7F5" stroke-width="0.9"/>
<line x1="296.60" y1="135.00" x2="296.60" y2="209.00" stroke="#E9E7F5" stroke-width="0.9"/>
<line x1="301.52" y1="135.00" x2="301.52" y2="209.00" stroke="#E9E7F5" stroke-width="0.9"/>
<line x1="306.44" y1="135.00" x2="306.44" y2="209.00" stroke="#E9E7F5" stroke-width="0.9"/>
<line x1="311.36" y1="135.00" x2="311.36" y2="209.00" stroke="#E9E7F5" stroke-width="0.9"/>
<line x1="316.28" y1="135.00" x2="316.28" y2="209.00" stroke="#E9E7F5" stroke-width="0.9"/>
<line x1="321.20" y1="135.00" x2="321.20" y2="209.00" stroke="#E9E7F5" stroke-width="0.9"/>
<line x1="326.12" y1="135.00" x2="326.12" y2="209.00" stroke="#E9E7F5" stroke-width="0.9"/>
<line x1="331.04" y1="135.00" x2="331.04" y2="209.00" stroke="#E9E7F5" stroke-width="0.9"/>
<line x1="335.96" y1="135.00" x2="335.96" y2="209.00" stroke="#E9E7F5" stroke-width="0.9"/>
<line x1="340.88" y1="135.00" x2="340.88" y2="209.00" stroke="#E9E7F5" stroke-width="0.9"/>
<line x1="345.80" y1="135.00" x2="345.80" y2="209.00" stroke="#E9E7F5" stroke-width="0.9"/>
<line x1="350.72" y1="135.00" x2="350.72" y2="209.00" stroke="#E9E7F5" stroke-width="0.9"/>
<line x1="355.64" y1="135.00" x2="355.64" y2="209.00" stroke="#E9E7F5" stroke-width="0.9"/>
<line x1="360.56" y1="135.00" x2="360.56" y2="209.00" stroke="#E9E7F5" stroke-width="0.9"/>
<line x1="365.48" y1="135.00" x2="365.48" y2="209.00" stroke="#E9E7F5" stroke-width="0.9"/>
<line x1="370.40" y1="135.00" x2="370.40" y2="209.00" stroke="#E9E7F5" stroke-width="0.9"/>
<line x1="375.32" y1="135.00" x2="375.32" y2="209.00" stroke="#E9E7F5" stroke-width="0.9"/>
<line x1="380.24" y1="135.00" x2="380.24" y2="209.00" stroke="#E9E7F5" stroke-width="0.9"/>
<line x1="385.16" y1="135.00" x2="385.16" y2="209.00" stroke="#E9E7F5" stroke-width="0.9"/>
<line x1="390.08" y1="135.00" x2="390.08" y2="209.00" stroke="#E9E7F5" stroke-width="0.9"/>
<line x1="395.00" y1="135.00" x2="395.00" y2="209.00" stroke="#E9E7F5" stroke-width="0.9"/>
<line x1="399.92" y1="135.00" x2="399.92" y2="209.00" stroke="#E9E7F5" stroke-width="0.9"/>
<line x1="404.84" y1="135.00" x2="404.84" y2="209.00" stroke="#E9E7F5" stroke-width="0.9"/>
<line x1="409.76" y1="135.00" x2="409.76" y2="209.00" stroke="#E9E7F5" stroke-width="0.9"/>
<line x1="414.68" y1="135.00" x2="414.68" y2="209.00" stroke="#E9E7F5" stroke-width="0.9"/>
<line x1="419.60" y1="135.00" x2="419.60" y2="209.00" stroke="#E9E7F5" stroke-width="0.9"/>
<line x1="424.52" y1="135.00" x2="424.52" y2="209.00" stroke="#E9E7F5" stroke-width="0.9"/>
<line x1="429.44" y1="135.00" x2="429.44" y2="209.00" stroke="#E9E7F5" stroke-width="0.9"/>
<line x1="434.36" y1="135.00" x2="434.36" y2="209.00" stroke="#E9E7F5" stroke-width="0.9"/>
<line x1="439.28" y1="135.00" x2="439.28" y2="209.00" stroke="#E9E7F5" stroke-width="0.9"/>
<line x1="444.20" y1="135.00" x2="444.20" y2="209.00" stroke="#E9E7F5" stroke-width="0.9"/>
<line x1="449.12" y1="135.00" x2="449.12" y2="209.00" stroke="#E9E7F5" stroke-width="0.9"/>
<line x1="454.04" y1="135.00" x2="454.04" y2="209.00" stroke="#E9E7F5" stroke-width="0.9"/>
<line x1="458.96" y1="135.00" x2="458.96" y2="209.00" stroke="#E9E7F5" stroke-width="0.9"/>
<line x1="463.88" y1="135.00" x2="463.88" y2="209.00" stroke="#E9E7F5" stroke-width="0.9"/>
<line x1="468.80" y1="135.00" x2="468.80" y2="209.00" stroke="#E9E7F5" stroke-width="0.9"/>
<line x1="473.72" y1="135.00" x2="473.72" y2="209.00" stroke="#E9E7F5" stroke-width="0.9"/>
<line x1="478.64" y1="135.00" x2="478.64" y2="209.00" stroke="#E9E7F5" stroke-width="0.9"/>
<line x1="483.56" y1="135.00" x2="483.56" y2="209.00" stroke="#E9E7F5" stroke-width="0.9"/>
<line x1="488.48" y1="135.00" x2="488.48" y2="209.00" stroke="#E9E7F5" stroke-width="0.9"/>
<line x1="493.40" y1="135.00" x2="493.40" y2="209.00" stroke="#E9E7F5" stroke-width="0.9"/>
<line x1="70.00" y1="135.00" x2="70.00" y2="209.00" stroke="#F9CFCF" stroke-width="1.0"/>
<text x="29.30" y="172.00" font-size="8.4" fill="#000" text-anchor="middle" stroke="#000" stroke-width="0.07">HBB</text>
<text x="29.30" y="182.30" font-size="8.4" fill="#000" text-anchor="middle" stroke="#000" stroke-width="0.07">locus</text>
<text x="69.30" y="138.50" font-size="6.1" fill="#000" text-anchor="end" stroke="#000" stroke-width="0.07">Scale</text>
<text x="69.10" y="146.00" font-size="6.0" fill="#000" text-anchor="end" stroke="#000" stroke-width="0.07">chr11:</text>
<text x="66.00" y="151.80" font-size="6.0" fill="#2F6DB5" text-anchor="end" stroke="#2F6DB5" stroke-width="0.07">1000</text>
<line x1="67.60" y1="150.00" x2="69.60" y2="150.00" stroke="#999" stroke-width="0.6"/>
<text x="65.80" y="197.80" font-size="5.6" fill="#2F6DB5" text-anchor="end" stroke="#2F6DB5" stroke-width="0.07">0</text>
<line x1="99.25" y1="141.60" x2="99.25" y2="145.20" stroke="#222" stroke-width="0.6"/>
<text x="98.05" y="146.00" font-size="4.7" fill="#000" text-anchor="end" textLength="24.2" lengthAdjust="spacingAndGlyphs" stroke="#000" stroke-width="0.07">5,225,000</text>
<line x1="128.15" y1="141.60" x2="128.15" y2="145.20" stroke="#222" stroke-width="0.6"/>
<text x="126.95" y="146.00" font-size="4.7" fill="#000" text-anchor="end" textLength="24.2" lengthAdjust="spacingAndGlyphs" stroke="#000" stroke-width="0.07">5,230,000</text>
<line x1="157.05" y1="141.60" x2="157.05" y2="145.20" stroke="#222" stroke-width="0.6"/>
<text x="155.85" y="146.00" font-size="4.7" fill="#000" text-anchor="end" textLength="24.2" lengthAdjust="spacingAndGlyphs" stroke="#000" stroke-width="0.07">5,235,000</text>
<line x1="185.95" y1="141.60" x2="185.95" y2="145.20" stroke="#222" stroke-width="0.6"/>
<text x="184.75" y="146.00" font-size="4.7" fill="#000" text-anchor="end" textLength="24.2" lengthAdjust="spacingAndGlyphs" stroke="#000" stroke-width="0.07">5,240,000</text>
<line x1="214.85" y1="141.60" x2="214.85" y2="145.20" stroke="#222" stroke-width="0.6"/>
<text x="213.65" y="146.00" font-size="4.7" fill="#000" text-anchor="end" textLength="24.2" lengthAdjust="spacingAndGlyphs" stroke="#000" stroke-width="0.07">5,245,000</text>
<line x1="243.75" y1="141.60" x2="243.75" y2="145.20" stroke="#222" stroke-width="0.6"/>
<text x="242.55" y="146.00" font-size="4.7" fill="#000" text-anchor="end" textLength="24.2" lengthAdjust="spacingAndGlyphs" stroke="#000" stroke-width="0.07">5,250,000</text>
<line x1="272.65" y1="141.60" x2="272.65" y2="145.20" stroke="#222" stroke-width="0.6"/>
<text x="271.45" y="146.00" font-size="4.7" fill="#000" text-anchor="end" textLength="24.2" lengthAdjust="spacingAndGlyphs" stroke="#000" stroke-width="0.07">5,255,000</text>
<line x1="301.55" y1="141.60" x2="301.55" y2="145.20" stroke="#222" stroke-width="0.6"/>
<text x="300.35" y="146.00" font-size="4.7" fill="#000" text-anchor="end" textLength="24.2" lengthAdjust="spacingAndGlyphs" stroke="#000" stroke-width="0.07">5,260,000</text>
<line x1="330.45" y1="141.60" x2="330.45" y2="145.20" stroke="#222" stroke-width="0.6"/>
<text x="329.25" y="146.00" font-size="4.7" fill="#000" text-anchor="end" textLength="24.2" lengthAdjust="spacingAndGlyphs" stroke="#000" stroke-width="0.07">5,265,000</text>
<line x1="359.35" y1="141.60" x2="359.35" y2="145.20" stroke="#222" stroke-width="0.6"/>
<text x="358.15" y="146.00" font-size="4.7" fill="#000" text-anchor="end" textLength="24.2" lengthAdjust="spacingAndGlyphs" stroke="#000" stroke-width="0.07">5,270,000</text>
<line x1="388.25" y1="141.60" x2="388.25" y2="145.20" stroke="#222" stroke-width="0.6"/>
<text x="387.05" y="146.00" font-size="4.7" fill="#000" text-anchor="end" textLength="24.2" lengthAdjust="spacingAndGlyphs" stroke="#000" stroke-width="0.07">5,275,000</text>
<line x1="417.15" y1="141.60" x2="417.15" y2="145.20" stroke="#222" stroke-width="0.6"/>
<text x="415.95" y="146.00" font-size="4.7" fill="#000" text-anchor="end" textLength="24.2" lengthAdjust="spacingAndGlyphs" stroke="#000" stroke-width="0.07">5,280,000</text>
<line x1="446.05" y1="141.60" x2="446.05" y2="145.20" stroke="#222" stroke-width="0.6"/>
<text x="444.85" y="146.00" font-size="4.7" fill="#000" text-anchor="end" textLength="24.2" lengthAdjust="spacingAndGlyphs" stroke="#000" stroke-width="0.07">5,285,000</text>
<line x1="474.95" y1="141.60" x2="474.95" y2="145.20" stroke="#222" stroke-width="0.6"/>
<text x="473.75" y="146.00" font-size="4.7" fill="#000" text-anchor="end" textLength="24.2" lengthAdjust="spacingAndGlyphs" stroke="#000" stroke-width="0.07">5,290,000</text>
<text x="224.50" y="139.60" font-size="5.6" fill="#000" text-anchor="end" textLength="15.2" lengthAdjust="spacingAndGlyphs" stroke="#000" stroke-width="0.07">20 kb</text>
<line x1="224.80" y1="138.20" x2="340.80" y2="138.20" stroke="#333" stroke-width="0.9"/>
<line x1="225.00" y1="136.70" x2="225.00" y2="139.70" stroke="#333" stroke-width="0.9"/>
<line x1="340.60" y1="136.70" x2="340.60" y2="139.70" stroke="#333" stroke-width="0.9"/>
<text x="344.50" y="139.60" font-size="5.8" fill="#000" stroke="#000" stroke-width="0.07">hg38</text>
<text x="253.80" y="153.60" font-size="6.0" fill="#2F6DB5" textLength="54" lengthAdjust="spacingAndGlyphs" stroke="#2F6DB5" stroke-width="0.07">MAZ in erythroblasts</text>
<rect x="77.15" y="199.60" width="1.10" height="0.80" fill="#1B1F6E"/>
<rect x="79.45" y="199.60" width="1.10" height="0.80" fill="#1B1F6E"/>
<rect x="81.95" y="199.60" width="1.10" height="0.80" fill="#1B1F6E"/>
<rect x="89.65" y="198.90" width="1.10" height="1.50" fill="#1B1F6E"/>
<rect x="96.35" y="199.40" width="1.10" height="1.00" fill="#1B1F6E"/>
<rect x="98.25" y="198.90" width="1.10" height="1.50" fill="#1B1F6E"/>
<rect x="100.25" y="199.40" width="1.10" height="1.00" fill="#1B1F6E"/>
<rect x="107.95" y="199.40" width="1.10" height="1.00" fill="#1B1F6E"/>
<rect x="109.45" y="198.40" width="1.10" height="2.00" fill="#1B1F6E"/>
<rect x="130.65" y="199.60" width="1.10" height="0.80" fill="#1B1F6E"/>
<rect x="144.45" y="199.60" width="1.10" height="0.80" fill="#1B1F6E"/>
<rect x="152.75" y="199.60" width="1.10" height="0.80" fill="#1B1F6E"/>
<rect x="173.25" y="199.60" width="1.10" height="0.80" fill="#1B1F6E"/>
<rect x="197.35" y="199.20" width="1.10" height="1.20" fill="#1B1F6E"/>
<rect x="205.05" y="199.20" width="1.10" height="1.20" fill="#1B1F6E"/>
<rect x="211.75" y="199.60" width="1.10" height="0.80" fill="#1B1F6E"/>
<rect x="241.55" y="199.40" width="1.10" height="1.00" fill="#1B1F6E"/>
<rect x="262.75" y="199.60" width="1.10" height="0.80" fill="#1B1F6E"/>
<rect x="270.45" y="199.60" width="1.10" height="0.80" fill="#1B1F6E"/>
<rect x="276.15" y="199.60" width="1.10" height="0.80" fill="#1B1F6E"/>
<rect x="280.65" y="199.40" width="1.10" height="1.00" fill="#1B1F6E"/>
<rect x="294.05" y="199.40" width="1.10" height="1.00" fill="#1B1F6E"/>
<rect x="327.15" y="199.60" width="1.10" height="0.80" fill="#1B1F6E"/>
<rect x="348.25" y="199.60" width="1.10" height="0.80" fill="#1B1F6E"/>
<rect x="363.65" y="199.60" width="1.10" height="0.80" fill="#1B1F6E"/>
<rect x="382.95" y="199.60" width="1.10" height="0.80" fill="#1B1F6E"/>
<rect x="391.45" y="198.40" width="1.10" height="2.00" fill="#1B1F6E"/>
<rect x="403.15" y="199.20" width="1.10" height="1.20" fill="#1B1F6E"/>
<rect x="407.95" y="198.90" width="1.10" height="1.50" fill="#1B1F6E"/>
<rect x="418.45" y="198.90" width="1.10" height="1.50" fill="#1B1F6E"/>
<rect x="420.45" y="198.40" width="1.10" height="2.00" fill="#1B1F6E"/>
<rect x="422.45" y="199.20" width="1.10" height="1.20" fill="#1B1F6E"/>
<rect x="424.25" y="199.40" width="1.10" height="1.00" fill="#1B1F6E"/>
<rect x="432.95" y="199.60" width="1.10" height="0.80" fill="#1B1F6E"/>
<rect x="440.45" y="198.90" width="1.10" height="1.50" fill="#1B1F6E"/>
<path d="M441.10,200.40 L442.00,196.90 L442.90,200.40 Z" fill="#1B1F6E" stroke="none" stroke-width="1"/>
<rect x="442.65" y="198.90" width="1.10" height="1.50" fill="#1B1F6E"/>
<rect x="447.35" y="199.40" width="1.10" height="1.00" fill="#1B1F6E"/>
<rect x="457.95" y="198.90" width="1.10" height="1.50" fill="#1B1F6E"/>
<rect x="460.45" y="198.40" width="1.10" height="2.00" fill="#1B1F6E"/>
<path d="M461.40,200.40 L462.30,197.40 L463.20,200.40 Z" fill="#1B1F6E" stroke="none" stroke-width="1"/>
<rect x="462.95" y="198.90" width="1.10" height="1.50" fill="#1B1F6E"/>
<rect x="465.45" y="199.40" width="1.10" height="1.00" fill="#1B1F6E"/>
<rect x="472.95" y="199.60" width="1.10" height="0.80" fill="#1B1F6E"/>
<path d="M110.10,200.40 L111.00,194.10 L111.90,200.40 Z" fill="#1B1F6E" stroke="none" stroke-width="1"/>
<rect x="390.40" y="201.60" width="77.40" height="1.50" fill="#5B9BD5"/>
<line x1="155.00" y1="207.00" x2="206.30" y2="207.00" stroke="#4E4468" stroke-width="1.1" stroke-dasharray="1 0.5"/>
<line x1="358.70" y1="207.00" x2="493.00" y2="207.00" stroke="#4E4468" stroke-width="1.1" stroke-dasharray="1 0.5"/>
<text x="100.80" y="209.20" font-size="6.3" fill="#000" text-anchor="end" stroke="#000" stroke-width="0.07">HBB</text>
<text x="142.50" y="209.20" font-size="6.3" fill="#000" text-anchor="end" stroke="#000" stroke-width="0.07">HBD</text>
<text x="228.80" y="209.20" font-size="6.3" fill="#000" text-anchor="end" stroke="#000" stroke-width="0.07">HBG1</text>
<text x="259.50" y="209.20" font-size="6.3" fill="#000" text-anchor="end" stroke="#000" stroke-width="0.07">HBG2</text>
<text x="347.00" y="209.20" font-size="6.3" fill="#000" text-anchor="end" stroke="#000" stroke-width="0.07">HBE1</text>
<rect x="103.00" y="205.40" width="1.60" height="3.20" fill="#111"/>
<rect x="109.80" y="205.40" width="2.00" height="3.20" fill="#111"/>
<rect x="144.00" y="205.40" width="1.60" height="3.20" fill="#111"/>
<rect x="147.50" y="205.40" width="2.00" height="3.20" fill="#111"/>
<rect x="205.80" y="205.40" width="1.60" height="3.20" fill="#111"/>
<rect x="231.20" y="205.40" width="1.60" height="3.20" fill="#111"/>
<rect x="237.80" y="205.40" width="2.00" height="3.20" fill="#111"/>
<rect x="261.20" y="205.40" width="1.60" height="3.20" fill="#111"/>
<rect x="268.00" y="205.40" width="2.00" height="3.20" fill="#111"/>
<rect x="348.50" y="205.40" width="1.70" height="3.20" fill="#111"/>
<rect x="356.50" y="205.40" width="2.20" height="3.20" fill="#111"/>
<line x1="101.00" y1="207.00" x2="111.50" y2="207.00" stroke="#111" stroke-width="0.9"/>
<line x1="142.50" y1="207.00" x2="155.00" y2="207.00" stroke="#111" stroke-width="0.9"/>
<line x1="229.00" y1="207.00" x2="240.00" y2="207.00" stroke="#111" stroke-width="0.9"/>
<line x1="260.00" y1="207.00" x2="270.00" y2="207.00" stroke="#111" stroke-width="0.9"/>
<line x1="347.00" y1="207.00" x2="359.00" y2="207.00" stroke="#111" stroke-width="0.9"/>
<line x1="390.40" y1="212.80" x2="390.40" y2="217.30" stroke="#3A7FC0" stroke-width="0.9"/>
<line x1="468.20" y1="212.80" x2="468.20" y2="217.30" stroke="#3A7FC0" stroke-width="0.9"/>
<text x="427.90" y="223.10" font-size="6.4" fill="#3A7FC0" text-anchor="middle" stroke="#3A7FC0" stroke-width="0.07">LCR</text>
<text x="24.20" y="245.50" font-size="10.6" fill="#000" font-weight="bold" stroke="#000" stroke-width="0.07">B</text>
<path d="M69.0,315.0 L69.00,264.00 A51.0,51.0 0 1 1 32.64,350.77 Z" fill="#29A4DE" stroke="#1a1a1a" stroke-width="0.5" stroke-linejoin="round"/>
<path d="M69.0,315.0 L32.64,350.77 A51.0,51.0 0 0 1 30.45,348.38 Z" fill="#F7941D" stroke="#1a1a1a" stroke-width="0.5" stroke-linejoin="round"/>
<path d="M69.0,315.0 L30.45,348.38 A51.0,51.0 0 0 1 29.18,346.87 Z" fill="#8F86D0" stroke="#1a1a1a" stroke-width="0.5" stroke-linejoin="round"/>
<path d="M69.0,315.0 L29.18,346.87 A51.0,51.0 0 0 1 18.09,318.03 Z" fill="#F6BD19" stroke="#1a1a1a" stroke-width="0.5" stroke-linejoin="round"/>
<path d="M69.0,315.0 L18.09,318.03 A51.0,51.0 0 0 1 18.04,312.91 Z" fill="#CE1E3C" stroke="#1a1a1a" stroke-width="0.5" stroke-linejoin="round"/>
<path d="M69.0,315.0 L18.04,312.91 A51.0,51.0 0 0 1 46.62,269.17 Z" fill="#3BB44A" stroke="#1a1a1a" stroke-width="0.5" stroke-linejoin="round"/>
<path d="M69.0,315.0 L46.62,269.17 A51.0,51.0 0 0 1 57.16,265.39 Z" fill="#A9BE8E" stroke="#1a1a1a" stroke-width="0.5" stroke-linejoin="round"/>
<path d="M69.0,315.0 L57.16,265.39 A51.0,51.0 0 0 1 58.80,265.03 Z" fill="#C0137A" stroke="#1a1a1a" stroke-width="0.5" stroke-linejoin="round"/>
<path d="M69.0,315.0 L58.80,265.03 A51.0,51.0 0 0 1 63.20,264.33 Z" fill="#5B3114" stroke="#1a1a1a" stroke-width="0.5" stroke-linejoin="round"/>
<path d="M69.0,315.0 L63.20,264.33 A51.0,51.0 0 0 1 69.00,264.00 Z" fill="#C9C9D2" stroke="#1a1a1a" stroke-width="0.5" stroke-linejoin="round"/>
<circle cx="69.0" cy="315.0" r="51.0" fill="none" stroke="#111" stroke-width="0.8"/>
<text x="98.00" y="320.00" font-size="6.4" fill="#111" text-anchor="middle" stroke="#111" stroke-width="0.07">6315</text>
<text x="34.20" y="296.80" font-size="6.4" fill="#111" text-anchor="middle" stroke="#111" stroke-width="0.07">1726</text>
<text x="31.00" y="332.00" font-size="6.4" fill="#111" text-anchor="middle" stroke="#111" stroke-width="0.07">988</text>
<text x="15.50" y="318.00" font-size="6.4" fill="#111" text-anchor="end" stroke="#111" stroke-width="0.07">161</text>
<text x="23.20" y="351.40" font-size="6.4" fill="#111" text-anchor="end" stroke="#111" stroke-width="0.07">62</text>
<text x="23.20" y="361.30" font-size="6.4" fill="#111" text-anchor="end" stroke="#111" stroke-width="0.07">102</text>
<text x="45.40" y="264.40" font-size="6.4" fill="#111" text-anchor="end" stroke="#111" stroke-width="0.07">353</text>
<text x="53.50" y="260.00" font-size="6.4" fill="#111" text-anchor="end" stroke="#111" stroke-width="0.07">53</text>
<text x="61.20" y="255.40" font-size="6.4" fill="#111" text-anchor="middle" stroke="#111" stroke-width="0.07">140</text>
<text x="71.30" y="256.60" font-size="6.4" fill="#111" stroke="#111" stroke-width="0.07">183</text>
<path d="M46,262.4 L49.8,262.4 L52.2,267.5" fill="none" stroke="#222" stroke-width="0.6"/>
<path d="M54,258.2 L57.6,258.2 L58.4,265" fill="none" stroke="#222" stroke-width="0.6"/>
<path d="M61.5,256.8 L61.6,264.2" fill="none" stroke="#222" stroke-width="0.6"/>
<path d="M71,255.5 L69.6,256.5 L67.0,264.2" fill="none" stroke="#222" stroke-width="0.6"/>
<path d="M24,349.4 L26.5,349.4 L29.5,347.6" fill="none" stroke="#222" stroke-width="0.6"/>
<path d="M24,359.4 L26.5,359.4 L31.8,351.2" fill="none" stroke="#222" stroke-width="0.6"/>
<rect x="142.6" y="267.40" width="4.2" height="4.2" fill="#29A4DE" stroke="#111" stroke-width="0.7"/>
<text x="150.20" y="271.70" font-size="6.0" fill="#111" stroke="#111" stroke-width="0.07">Promoter (−100bp-1kb): 63%</text>
<rect x="142.6" y="276.08" width="4.2" height="4.2" fill="#F7941D" stroke="#111" stroke-width="0.7"/>
<text x="150.20" y="280.38" font-size="6.0" fill="#111" stroke="#111" stroke-width="0.07">Promoter (1-2 kb): 1%</text>
<rect x="142.6" y="284.76" width="4.2" height="4.2" fill="#8F86D0" stroke="#111" stroke-width="0.7"/>
<text x="150.20" y="289.06" font-size="6.0" fill="#111" stroke="#111" stroke-width="0.07">Promoter (2-3 kb): 1%</text>
<rect x="142.6" y="293.44" width="4.2" height="4.2" fill="#F6BD19" stroke="#111" stroke-width="0.7"/>
<text x="150.20" y="297.74" font-size="6.0" fill="#111" stroke="#111" stroke-width="0.07">Intergenic: 10%</text>
<rect x="142.6" y="302.12" width="4.2" height="4.2" fill="#CE1E3C" stroke="#111" stroke-width="0.7"/>
<text x="150.20" y="306.42" font-size="6.0" fill="#111" stroke="#111" stroke-width="0.07">Exons: 2%</text>
<rect x="142.6" y="310.80" width="4.2" height="4.2" fill="#3BB44A" stroke="#111" stroke-width="0.7"/>
<text x="150.20" y="315.10" font-size="6.0" fill="#111" stroke="#111" stroke-width="0.07">Introns: 17%</text>
<rect x="142.6" y="319.48" width="4.2" height="4.2" fill="#A9BE8E" stroke="#111" stroke-width="0.7"/>
<text x="150.20" y="323.78" font-size="6.0" fill="#111" stroke="#111" stroke-width="0.07">5′UTR: 4%</text>
<rect x="142.6" y="328.16" width="4.2" height="4.2" fill="#C0137A" stroke="#111" stroke-width="0.7"/>
<text x="150.20" y="332.46" font-size="6.0" fill="#111" stroke="#111" stroke-width="0.07">3′UTR: 1%</text>
<rect x="142.6" y="336.84" width="4.2" height="4.2" fill="#5B3114" stroke="#111" stroke-width="0.7"/>
<text x="150.20" y="341.14" font-size="6.0" fill="#111" stroke="#111" stroke-width="0.07">TTS: 1%</text>
<rect x="142.6" y="345.52" width="4.2" height="4.2" fill="#C9C9D2" stroke="#111" stroke-width="0.7"/>
<text x="150.20" y="349.82" font-size="6.0" fill="#111" stroke="#111" stroke-width="0.07">Noncoding RNA: 2%</text>
<text x="249.20" y="246.20" font-size="10.6" fill="#000" font-weight="bold" stroke="#000" stroke-width="0.07">C</text>
<text x="307.50" y="243.80" font-size="7.5" fill="#111" text-anchor="middle" textLength="35.6" lengthAdjust="spacingAndGlyphs" stroke="#111" stroke-width="0.07">ATAC-Seq</text>
<text x="350.80" y="243.80" font-size="7.5" fill="#111" text-anchor="middle" textLength="34.2" lengthAdjust="spacingAndGlyphs" stroke="#111" stroke-width="0.07">H3K4me3</text>
<text x="392.20" y="243.80" font-size="7.5" fill="#111" text-anchor="middle" textLength="33.2" lengthAdjust="spacingAndGlyphs" stroke="#111" stroke-width="0.07">H3K27ac</text>
<text x="433.70" y="243.80" font-size="7.5" fill="#111" text-anchor="middle" textLength="16.7" lengthAdjust="spacingAndGlyphs" stroke="#111" stroke-width="0.07">PolII</text>
<text x="474.00" y="243.80" font-size="7.5" fill="#111" text-anchor="middle" textLength="38.3" lengthAdjust="spacingAndGlyphs" stroke="#111" stroke-width="0.07">H3K27me3</text>
<rect x="290.30" y="246.20" width="38.40" height="170.40" fill="url(#bg0)"/>
<rect x="290.3" y="246.2" width="38.4" height="170.4" filter="url(#nzr)" opacity="0.5"/>
<g fill="url(#bATAC)" clip-path="url(#hc0)"><rect x="305.56" y="246.20" width="7.02" height="1.05"/><rect x="305.39" y="247.20" width="7.66" height="1.05"/><rect x="305.13" y="248.20" width="7.85" height="1.05"/><rect x="305.11" y="249.20" width="8.01" height="1.05"/><rect x="305.52" y="250.20" width="7.10" height="1.05"/><rect x="306.02" y="251.20" width="6.69" height="1.05"/><rect x="305.14" y="252.20" width="7.71" height="1.05"/><rect x="305.63" y="253.20" width="7.26" height="1.05"/><rect x="305.44" y="254.20" width="6.94" height="1.05"/><rect x="305.62" y="255.20" width="6.78" height="1.05"/><rect x="305.74" y="256.20" width="7.28" height="1.05"/><rect x="305.91" y="257.20" width="6.93" height="1.05"/><rect x="305.72" y="258.20" width="7.23" height="1.05"/><rect x="305.05" y="259.20" width="7.69" height="1.05"/><rect x="305.05" y="260.20" width="7.64" height="1.05"/><rect x="305.65" y="261.20" width="6.77" height="1.05"/><rect x="305.43" y="262.20" width="7.42" height="1.05"/><rect x="305.85" y="263.20" width="6.91" height="1.05"/><rect x="305.12" y="264.20" width="7.64" height="1.05"/><rect x="305.53" y="265.20" width="7.31" height="1.05"/><rect x="304.99" y="266.20" width="7.77" height="1.05"/><rect x="305.64" y="267.20" width="7.49" height="1.05"/><rect x="305.51" y="268.20" width="7.44" height="1.05"/><rect x="305.29" y="269.20" width="7.62" height="1.05"/><rect x="305.62" y="270.20" width="7.06" height="1.05"/><rect x="305.44" y="271.20" width="7.13" height="1.05"/><rect x="305.23" y="272.20" width="7.57" height="1.05"/><rect x="305.62" y="273.20" width="7.26" height="1.05"/><rect x="305.56" y="274.20" width="7.55" height="1.05"/><rect x="305.23" y="275.20" width="7.45" height="1.05"/><rect x="305.52" y="276.20" width="7.65" height="1.05"/><rect x="305.48" y="277.20" width="7.55" height="1.05"/><rect x="305.47" y="278.20" width="7.25" height="1.05"/><rect x="305.28" y="279.20" width="7.21" height="1.05"/><rect x="305.67" y="280.20" width="7.30" height="1.05"/><rect x="305.91" y="281.20" width="6.68" height="1.05"/><rect x="305.32" y="282.20" width="7.11" height="1.05"/><rect x="305.93" y="283.20" width="6.45" height="1.05"/><rect x="305.79" y="284.20" width="6.39" height="1.05"/><rect x="305.76" y="285.20" width="6.86" height="1.05"/><rect x="305.54" y="286.20" width="7.19" height="1.05"/><rect x="305.41" y="287.20" width="6.80" height="1.05"/><rect x="305.73" y="288.20" width="6.37" height="1.05"/><rect x="305.88" y="289.20" width="6.69" height="1.05"/><rect x="305.82" y="290.20" width="6.43" height="1.05"/><rect x="305.44" y="291.20" width="7.21" height="1.05"/><rect x="305.55" y="292.20" width="7.23" height="1.05"/><rect x="305.50" y="293.20" width="7.17" height="1.05"/><rect x="305.72" y="294.20" width="6.99" height="1.05"/><rect x="306.06" y="295.20" width="6.45" height="1.05"/><rect x="305.28" y="296.20" width="7.09" height="1.05"/><rect x="305.69" y="297.20" width="6.51" height="1.05"/><rect x="305.81" y="298.20" width="6.15" height="1.05"/><rect x="305.54" y="299.20" width="6.66" height="1.05"/><rect x="306.29" y="300.20" width="6.16" height="1.05"/><rect x="305.95" y="301.20" width="6.36" height="1.05"/><rect x="305.75" y="302.20" width="6.51" height="1.05"/><rect x="305.65" y="303.20" width="6.54" height="1.05"/><rect x="305.60" y="304.20" width="6.70" height="1.05"/><rect x="305.81" y="305.20" width="6.23" height="1.05"/><rect x="306.18" y="306.20" width="6.35" height="1.05"/><rect x="306.08" y="307.20" width="6.62" height="1.05"/><rect x="305.72" y="308.20" width="6.48" height="1.05"/><rect x="305.52" y="309.20" width="6.78" height="1.05"/><rect x="305.42" y="310.20" width="7.23" height="1.05"/><rect x="305.69" y="311.20" width="6.54" height="1.05"/><rect x="306.21" y="312.20" width="6.30" height="1.05"/><rect x="305.63" y="313.20" width="7.00" height="1.05"/><rect x="305.61" y="314.20" width="6.38" height="1.05"/><rect x="306.00" y="315.20" width="5.95" height="1.05"/><rect x="305.96" y="316.20" width="6.42" height="1.05"/><rect x="305.87" y="317.20" width="6.85" height="1.05"/><rect x="305.99" y="318.20" width="6.43" height="1.05"/><rect x="306.06" y="319.20" width="6.36" height="1.05"/><rect x="306.38" y="320.20" width="6.02" height="1.05"/><rect x="306.32" y="321.20" width="5.69" height="1.05"/><rect x="306.31" y="322.20" width="5.93" height="1.05"/><rect x="306.44" y="323.20" width="5.78" height="1.05"/><rect x="306.46" y="324.20" width="5.55" height="1.05"/><rect x="305.98" y="325.20" width="6.25" height="1.05"/><rect x="306.07" y="326.20" width="5.92" height="1.05"/><rect x="305.88" y="327.20" width="6.09" height="1.05"/><rect x="306.39" y="328.20" width="5.82" height="1.05"/><rect x="305.89" y="329.20" width="6.15" height="1.05"/><rect x="306.00" y="330.20" width="6.36" height="1.05"/><rect x="306.21" y="331.20" width="5.88" height="1.05"/><rect x="305.77" y="332.20" width="6.18" height="1.05"/><rect x="306.33" y="333.20" width="5.98" height="1.05"/><rect x="305.83" y="334.20" width="6.20" height="1.05"/><rect x="306.04" y="335.20" width="6.07" height="1.05"/><rect x="306.14" y="336.20" width="6.36" height="1.05"/><rect x="305.94" y="337.20" width="5.78" height="1.05"/><rect x="305.85" y="338.20" width="5.93" height="1.05"/><rect x="306.03" y="339.20" width="5.67" height="1.05"/><rect x="306.43" y="340.20" width="5.48" height="1.05"/><rect x="306.44" y="341.20" width="5.41" height="1.05"/><rect x="305.72" y="342.20" width="6.32" height="1.05"/><rect x="305.92" y="343.20" width="6.45" height="1.05"/><rect x="306.44" y="344.20" width="5.85" height="1.05"/><rect x="305.92" y="345.20" width="6.22" height="1.05"/><rect x="305.60" y="346.20" width="6.52" height="1.05"/><rect x="306.02" y="347.20" width="6.58" height="1.05"/><rect x="306.44" y="348.20" width="5.81" height="1.05"/><rect x="306.24" y="349.20" width="6.22" height="1.05"/><rect x="306.33" y="350.20" width="5.83" height="1.05"/><rect x="305.91" y="351.20" width="6.20" height="1.05"/><rect x="306.04" y="352.20" width="5.54" height="1.05"/><rect x="306.24" y="353.20" width="5.78" height="1.05"/><rect x="306.45" y="354.20" width="5.46" height="1.05"/><rect x="306.47" y="355.20" width="5.24" height="1.05"/><rect x="306.10" y="356.20" width="5.63" height="1.05"/><rect x="306.70" y="357.20" width="5.29" height="1.05"/><rect x="306.15" y="358.20" width="6.00" height="1.05"/><rect x="306.41" y="359.20" width="5.40" height="1.05"/><rect x="306.19" y="360.20" width="6.14" height="1.05"/><rect x="305.76" y="361.20" width="6.13" height="1.05"/><rect x="305.94" y="362.20" width="6.01" height="1.05"/><rect x="305.62" y="363.20" width="6.37" height="1.05"/><rect x="306.47" y="364.20" width="5.72" height="1.05"/><rect x="306.31" y="365.20" width="5.34" height="1.05"/><rect x="306.64" y="366.20" width="5.37" height="1.05"/><rect x="306.47" y="367.20" width="5.78" height="1.05"/><rect x="306.14" y="368.20" width="5.42" height="1.05"/><rect x="306.55" y="369.20" width="5.42" height="1.05"/><rect x="306.52" y="370.20" width="5.69" height="1.05"/><rect x="305.91" y="371.20" width="5.89" height="1.05"/><rect x="306.15" y="372.20" width="5.55" height="1.05"/><rect x="306.52" y="373.20" width="5.36" height="1.05"/><rect x="306.53" y="374.20" width="5.46" height="1.05"/><rect x="306.82" y="375.20" width="5.05" height="1.05"/><rect x="306.73" y="376.20" width="5.03" height="1.05"/><rect x="305.98" y="377.20" width="5.70" height="1.05"/><rect x="306.56" y="378.20" width="5.65" height="1.05"/><rect x="306.55" y="379.20" width="5.09" height="1.05"/><rect x="306.39" y="380.20" width="5.28" height="1.05"/><rect x="306.35" y="381.20" width="5.11" height="1.05"/><rect x="306.38" y="382.20" width="5.11" height="1.05"/><rect x="306.78" y="383.20" width="5.13" height="1.05"/><rect x="306.07" y="384.20" width="5.77" height="1.05"/><rect x="306.40" y="385.20" width="5.12" height="1.05"/><rect x="306.08" y="386.20" width="5.66" height="1.05"/><rect x="306.02" y="387.20" width="5.67" height="1.05"/><rect x="306.22" y="388.20" width="5.37" height="1.05"/><rect x="306.27" y="389.20" width="5.50" height="1.05"/><rect x="306.27" y="390.20" width="5.69" height="1.05"/><rect x="306.11" y="391.20" width="5.40" height="1.05"/><rect x="305.98" y="392.20" width="5.70" height="1.05"/><rect x="306.65" y="393.20" width="5.48" height="1.05"/><rect x="306.18" y="394.20" width="5.66" height="1.05"/><rect x="306.03" y="395.20" width="5.86" height="1.05"/><rect x="306.35" y="396.20" width="5.59" height="1.05"/><rect x="306.17" y="397.20" width="5.61" height="1.05"/><rect x="306.34" y="398.20" width="5.30" height="1.05"/><rect x="306.41" y="399.20" width="5.66" height="1.05"/><rect x="306.64" y="400.20" width="5.25" height="1.05"/><rect x="306.28" y="401.20" width="5.34" height="1.05"/><rect x="306.23" y="402.20" width="5.26" height="1.05"/><rect x="306.37" y="403.20" width="4.94" height="1.05"/><rect x="306.82" y="404.20" width="4.69" height="1.05"/><rect x="306.66" y="405.20" width="5.28" height="1.05"/><rect x="306.90" y="406.20" width="4.94" height="1.05"/><rect x="306.77" y="407.20" width="4.90" height="1.05"/><rect x="306.53" y="408.20" width="5.12" height="1.05"/><rect x="306.69" y="409.20" width="5.28" height="1.05"/><rect x="306.43" y="410.20" width="5.34" height="1.05"/><rect x="306.49" y="411.20" width="5.51" height="1.05"/><rect x="306.83" y="412.20" width="5.12" height="1.05"/><rect x="306.33" y="413.20" width="4.98" height="1.05"/><rect x="306.65" y="414.20" width="5.43" height="1.05"/><rect x="306.65" y="415.20" width="5.21" height="1.05"/><rect x="306.23" y="416.20" width="5.26" height="0.45"/></g>
<rect x="331.30" y="246.20" width="38.40" height="170.40" fill="url(#bg1)"/>
<rect x="331.3" y="246.2" width="38.4" height="170.4" filter="url(#nzr)" opacity="0.5"/>
<g fill="url(#bK4)" clip-path="url(#hc1)"><rect x="326.34" y="246.20" width="46.99" height="1.05"/><rect x="325.20" y="247.20" width="49.92" height="1.05"/><rect x="328.35" y="248.20" width="43.04" height="1.05"/><rect x="327.31" y="249.20" width="45.09" height="1.05"/><rect x="330.66" y="250.20" width="38.34" height="1.05"/><rect x="328.57" y="251.20" width="42.94" height="1.05"/><rect x="330.68" y="252.20" width="39.37" height="1.05"/><rect x="331.99" y="253.20" width="36.24" height="1.05"/><rect x="333.81" y="254.20" width="33.55" height="1.05"/><rect x="331.85" y="255.20" width="37.62" height="1.05"/><rect x="332.19" y="256.20" width="35.83" height="1.05"/><rect x="330.91" y="257.20" width="37.40" height="1.05"/><rect x="331.92" y="258.20" width="36.19" height="1.05"/><rect x="331.25" y="259.20" width="36.72" height="1.05"/><rect x="333.84" y="260.20" width="31.60" height="1.05"/><rect x="335.41" y="261.20" width="28.74" height="1.05"/><rect x="333.44" y="262.20" width="33.20" height="1.05"/><rect x="333.94" y="263.20" width="32.52" height="1.05"/><rect x="335.34" y="264.20" width="30.62" height="1.05"/><rect x="333.22" y="265.20" width="32.78" height="1.05"/><rect x="336.03" y="266.20" width="27.96" height="1.05"/><rect x="334.20" y="267.20" width="32.80" height="1.05"/><rect x="334.00" y="268.20" width="33.06" height="1.05"/><rect x="332.97" y="269.20" width="33.60" height="1.05"/><rect x="333.71" y="270.20" width="33.54" height="1.05"/><rect x="335.39" y="271.20" width="30.56" height="1.05"/><rect x="334.12" y="272.20" width="33.08" height="1.05"/><rect x="336.74" y="273.20" width="27.03" height="1.05"/><rect x="336.38" y="274.20" width="26.57" height="1.05"/><rect x="334.87" y="275.20" width="29.67" height="1.05"/><rect x="336.63" y="276.20" width="26.44" height="1.05"/><rect x="335.58" y="277.20" width="30.20" height="1.05"/><rect x="337.82" y="278.20" width="25.13" height="1.05"/><rect x="339.18" y="279.20" width="22.36" height="1.05"/><rect x="338.21" y="280.20" width="24.15" height="1.05"/><rect x="338.23" y="281.20" width="23.40" height="1.05"/><rect x="337.63" y="282.20" width="25.23" height="1.05"/><rect x="335.67" y="283.20" width="28.55" height="1.05"/><rect x="335.31" y="284.20" width="29.54" height="1.05"/><rect x="337.02" y="285.20" width="25.32" height="1.05"/><rect x="338.55" y="286.20" width="22.92" height="1.05"/><rect x="338.32" y="287.20" width="24.15" height="1.05"/><rect x="336.93" y="288.20" width="26.22" height="1.05"/><rect x="336.71" y="289.20" width="26.09" height="1.05"/><rect x="338.19" y="290.20" width="24.44" height="1.05"/><rect x="338.51" y="291.20" width="23.23" height="1.05"/><rect x="338.10" y="292.20" width="23.10" height="1.05"/><rect x="336.66" y="293.20" width="27.65" height="1.05"/><rect x="336.30" y="294.20" width="27.25" height="1.05"/><rect x="336.06" y="295.20" width="28.94" height="1.05"/><rect x="335.81" y="296.20" width="29.79" height="1.05"/><rect x="336.99" y="297.20" width="26.31" height="1.05"/><rect x="336.65" y="298.20" width="26.24" height="1.05"/><rect x="335.80" y="299.20" width="27.75" height="1.05"/><rect x="338.15" y="300.20" width="24.44" height="1.05"/><rect x="336.69" y="301.20" width="27.73" height="1.05"/><rect x="336.08" y="302.20" width="27.40" height="1.05"/><rect x="337.33" y="303.20" width="25.19" height="1.05"/><rect x="338.75" y="305.20" width="22.15" height="1.05"/><rect x="337.80" y="306.20" width="25.01" height="1.05"/><rect x="338.48" y="308.20" width="23.48" height="1.05"/><rect x="336.90" y="309.20" width="26.64" height="1.05"/><rect x="337.84" y="310.20" width="25.77" height="1.05"/><rect x="336.91" y="311.20" width="27.55" height="1.05"/><rect x="339.51" y="313.20" width="21.64" height="1.05"/><rect x="337.24" y="314.20" width="26.17" height="1.05"/><rect x="338.91" y="316.20" width="22.65" height="1.05"/><rect x="338.85" y="317.20" width="22.06" height="1.05"/><rect x="338.02" y="319.20" width="25.37" height="1.05"/><rect x="338.81" y="321.20" width="23.73" height="1.05"/><rect x="339.52" y="323.20" width="22.38" height="1.05"/><rect x="337.10" y="325.20" width="25.54" height="1.05"/><rect x="338.89" y="327.20" width="23.02" height="1.05"/><rect x="337.94" y="328.20" width="24.21" height="1.05"/><rect x="337.23" y="329.20" width="26.21" height="1.05"/><rect x="336.45" y="330.20" width="26.43" height="1.05"/><rect x="337.33" y="332.20" width="24.65" height="1.05"/><rect x="340.91" y="334.20" width="19.75" height="1.05"/><rect x="337.80" y="335.20" width="24.05" height="1.05"/><rect x="337.28" y="337.20" width="26.39" height="1.05"/><rect x="338.68" y="338.20" width="22.80" height="1.05"/><rect x="338.83" y="339.20" width="22.72" height="1.05"/><rect x="338.01" y="343.20" width="23.50" height="1.05"/><rect x="340.11" y="345.20" width="19.22" height="1.05"/><rect x="340.95" y="346.20" width="18.60" height="1.05"/><rect x="340.38" y="347.20" width="20.39" height="1.05"/><rect x="339.99" y="348.20" width="19.39" height="1.05"/></g>
<g fill="url(#bK4b)" clip-path="url(#hc1)"><rect x="339.07" y="304.20" width="22.97" height="1.05"/><rect x="336.53" y="307.20" width="27.21" height="1.05"/><rect x="337.08" y="312.20" width="25.35" height="1.05"/><rect x="337.66" y="315.20" width="24.20" height="1.05"/><rect x="339.09" y="318.20" width="22.37" height="1.05"/><rect x="336.48" y="320.20" width="27.04" height="1.05"/><rect x="338.92" y="322.20" width="21.73" height="1.05"/><rect x="338.22" y="324.20" width="24.58" height="1.05"/><rect x="340.02" y="326.20" width="21.30" height="1.05"/><rect x="339.46" y="331.20" width="21.87" height="1.05"/><rect x="339.26" y="333.20" width="20.81" height="1.05"/><rect x="337.97" y="336.20" width="25.00" height="1.05"/><rect x="339.59" y="340.20" width="22.08" height="1.05"/><rect x="339.23" y="341.20" width="22.45" height="1.05"/><rect x="338.18" y="342.20" width="23.53" height="1.05"/><rect x="339.16" y="344.20" width="21.21" height="1.05"/><rect x="339.11" y="349.20" width="23.02" height="1.05"/><rect x="339.57" y="350.20" width="22.36" height="1.05"/><rect x="338.94" y="351.20" width="23.50" height="1.05"/><rect x="338.41" y="352.20" width="23.79" height="1.05"/><rect x="339.92" y="353.20" width="21.08" height="1.05"/><rect x="339.09" y="354.20" width="21.70" height="1.05"/><rect x="338.92" y="355.20" width="23.71" height="1.05"/><rect x="337.90" y="356.20" width="23.62" height="1.05"/><rect x="339.31" y="357.20" width="22.56" height="1.05"/><rect x="340.31" y="358.20" width="19.78" height="1.05"/><rect x="340.49" y="359.20" width="18.60" height="1.05"/><rect x="338.94" y="360.20" width="21.73" height="1.05"/><rect x="340.43" y="361.20" width="18.93" height="1.05"/><rect x="341.28" y="362.20" width="17.41" height="1.05"/><rect x="341.66" y="363.20" width="18.00" height="1.05"/><rect x="340.25" y="364.20" width="20.89" height="1.05"/><rect x="338.60" y="365.20" width="22.78" height="1.05"/><rect x="339.05" y="366.20" width="21.94" height="1.05"/><rect x="338.89" y="367.20" width="22.18" height="1.05"/><rect x="339.91" y="368.20" width="20.06" height="1.05"/><rect x="338.36" y="369.20" width="22.85" height="1.05"/><rect x="338.36" y="370.20" width="22.50" height="1.05"/><rect x="340.25" y="371.20" width="20.82" height="1.05"/><rect x="340.57" y="372.20" width="19.12" height="1.05"/><rect x="340.63" y="373.20" width="18.18" height="1.05"/><rect x="340.51" y="374.20" width="20.27" height="1.05"/><rect x="341.05" y="375.20" width="17.52" height="1.05"/><rect x="340.35" y="376.20" width="19.46" height="1.05"/><rect x="340.19" y="377.20" width="20.30" height="1.05"/><rect x="341.46" y="378.20" width="18.44" height="1.05"/><rect x="340.10" y="379.20" width="20.87" height="1.05"/><rect x="341.14" y="380.20" width="17.80" height="1.05"/><rect x="341.99" y="381.20" width="17.30" height="1.05"/><rect x="340.37" y="382.20" width="19.62" height="1.05"/><rect x="339.27" y="383.20" width="21.08" height="1.05"/><rect x="339.69" y="384.20" width="21.35" height="1.05"/><rect x="338.97" y="385.20" width="22.02" height="1.05"/><rect x="340.44" y="386.20" width="20.00" height="1.05"/><rect x="340.10" y="387.20" width="20.16" height="1.05"/><rect x="340.88" y="388.20" width="18.81" height="1.05"/><rect x="342.21" y="389.20" width="16.68" height="1.05"/><rect x="341.42" y="390.20" width="17.01" height="1.05"/><rect x="339.94" y="391.20" width="19.80" height="1.05"/><rect x="340.32" y="392.20" width="19.25" height="1.05"/><rect x="341.01" y="393.20" width="19.30" height="1.05"/><rect x="339.72" y="394.20" width="19.82" height="1.05"/><rect x="340.67" y="395.20" width="18.62" height="1.05"/><rect x="341.07" y="396.20" width="18.86" height="1.05"/><rect x="341.23" y="397.20" width="18.61" height="1.05"/><rect x="339.21" y="398.20" width="20.84" height="1.05"/><rect x="339.46" y="399.20" width="20.84" height="1.05"/><rect x="341.95" y="400.20" width="17.64" height="1.05"/><rect x="342.30" y="401.20" width="15.90" height="1.05"/><rect x="342.43" y="402.20" width="14.87" height="1.05"/><rect x="341.52" y="403.20" width="16.85" height="1.05"/><rect x="342.27" y="404.20" width="15.48" height="1.05"/><rect x="340.86" y="405.20" width="18.40" height="1.05"/><rect x="341.49" y="406.20" width="17.22" height="1.05"/><rect x="342.08" y="407.20" width="16.35" height="1.05"/><rect x="342.29" y="408.20" width="15.10" height="1.05"/><rect x="341.49" y="409.20" width="16.49" height="1.05"/><rect x="342.49" y="410.20" width="15.49" height="1.05"/><rect x="341.70" y="411.20" width="17.75" height="1.05"/><rect x="342.02" y="412.20" width="17.30" height="1.05"/><rect x="342.53" y="413.20" width="16.49" height="1.05"/><rect x="342.84" y="414.20" width="15.32" height="1.05"/><rect x="342.01" y="415.20" width="16.89" height="1.05"/><rect x="341.24" y="416.20" width="18.45" height="0.45"/></g>
<rect x="372.40" y="246.20" width="38.40" height="170.40" fill="url(#bg2)"/>
<rect x="372.4" y="246.2" width="38.4" height="170.4" filter="url(#nzr)" opacity="0.5"/>
<g fill="url(#bK27)" clip-path="url(#hc2)"><rect x="372.39" y="246.20" width="38.10" height="1.05"/><rect x="370.48" y="247.20" width="41.90" height="1.05"/><rect x="370.48" y="248.20" width="41.79" height="1.05"/><rect x="371.30" y="249.20" width="40.28" height="1.05"/><rect x="370.24" y="250.20" width="42.69" height="1.05"/><rect x="372.59" y="251.20" width="36.53" height="1.05"/><rect x="372.36" y="252.20" width="38.14" height="1.05"/><rect x="372.76" y="253.20" width="36.40" height="1.05"/><rect x="375.49" y="254.20" width="31.91" height="1.05"/><rect x="373.79" y="255.20" width="34.42" height="1.05"/><rect x="375.59" y="256.20" width="31.87" height="1.05"/><rect x="374.26" y="257.20" width="33.91" height="1.05"/><rect x="373.18" y="258.20" width="35.44" height="1.05"/><rect x="375.04" y="259.20" width="32.83" height="1.05"/><rect x="375.63" y="260.20" width="31.20" height="1.05"/><rect x="375.18" y="261.20" width="33.02" height="1.05"/><rect x="376.71" y="262.20" width="30.25" height="1.05"/><rect x="376.69" y="263.20" width="30.10" height="1.05"/><rect x="377.57" y="264.20" width="28.03" height="1.05"/><rect x="376.02" y="265.20" width="30.85" height="1.05"/><rect x="375.27" y="266.20" width="32.12" height="1.05"/><rect x="375.80" y="267.20" width="32.07" height="1.05"/><rect x="378.90" y="268.20" width="25.66" height="1.05"/><rect x="378.45" y="269.20" width="25.11" height="1.05"/><rect x="376.72" y="270.20" width="28.48" height="1.05"/><rect x="377.14" y="271.20" width="27.65" height="1.05"/><rect x="379.47" y="272.20" width="23.61" height="1.05"/><rect x="380.46" y="273.20" width="21.42" height="1.05"/><rect x="380.58" y="274.20" width="20.61" height="1.05"/><rect x="380.90" y="275.20" width="21.35" height="1.05"/><rect x="380.45" y="276.20" width="20.96" height="1.05"/><rect x="379.11" y="277.20" width="23.66" height="1.05"/><rect x="379.28" y="278.20" width="24.84" height="1.05"/><rect x="378.85" y="279.20" width="25.25" height="1.05"/><rect x="380.52" y="280.20" width="20.77" height="1.05"/><rect x="381.31" y="281.20" width="20.79" height="1.05"/><rect x="379.35" y="282.20" width="23.82" height="1.05"/><rect x="380.32" y="283.20" width="21.28" height="1.05"/><rect x="380.47" y="284.20" width="22.67" height="1.05"/><rect x="379.14" y="285.20" width="24.65" height="1.05"/><rect x="378.69" y="286.20" width="24.68" height="1.05"/><rect x="379.73" y="287.20" width="24.03" height="1.05"/><rect x="381.51" y="288.20" width="20.67" height="1.05"/><rect x="381.04" y="289.20" width="20.77" height="1.05"/><rect x="380.26" y="290.20" width="23.17" height="1.05"/><rect x="381.84" y="291.20" width="19.91" height="1.05"/><rect x="381.26" y="292.20" width="19.21" height="1.05"/><rect x="380.66" y="293.20" width="20.75" height="1.05"/><rect x="379.68" y="294.20" width="23.21" height="1.05"/><rect x="381.91" y="295.20" width="19.40" height="1.05"/><rect x="379.36" y="296.20" width="22.76" height="1.05"/><rect x="380.50" y="297.20" width="21.83" height="1.05"/><rect x="381.85" y="298.20" width="19.87" height="1.05"/><rect x="381.16" y="299.20" width="21.38" height="1.05"/><rect x="382.25" y="300.20" width="18.57" height="1.05"/><rect x="380.96" y="301.20" width="21.03" height="1.05"/><rect x="381.41" y="302.20" width="18.75" height="1.05"/><rect x="379.86" y="303.20" width="22.23" height="1.05"/><rect x="381.58" y="304.20" width="19.05" height="1.05"/><rect x="382.39" y="305.20" width="18.94" height="1.05"/><rect x="380.71" y="307.20" width="20.80" height="1.05"/><rect x="381.81" y="310.20" width="20.16" height="1.05"/><rect x="380.12" y="311.20" width="22.42" height="1.05"/><rect x="382.05" y="312.20" width="18.43" height="1.05"/><rect x="381.96" y="313.20" width="18.53" height="1.05"/><rect x="382.44" y="314.20" width="18.47" height="1.05"/><rect x="382.27" y="315.20" width="17.64" height="1.05"/><rect x="381.73" y="316.20" width="19.90" height="1.05"/><rect x="380.91" y="317.20" width="21.62" height="1.05"/><rect x="381.28" y="318.20" width="19.05" height="1.05"/><rect x="382.10" y="322.20" width="19.17" height="1.05"/><rect x="381.93" y="323.20" width="19.89" height="1.05"/><rect x="382.36" y="324.20" width="18.89" height="1.05"/><rect x="383.39" y="329.20" width="15.57" height="1.05"/><rect x="382.71" y="331.20" width="16.86" height="1.05"/><rect x="381.82" y="337.20" width="18.44" height="1.05"/><rect x="382.94" y="339.20" width="17.69" height="1.05"/><rect x="382.98" y="342.20" width="16.99" height="1.05"/><rect x="382.39" y="345.20" width="17.44" height="1.05"/><rect x="383.54" y="346.20" width="16.08" height="1.05"/><rect x="383.56" y="347.20" width="15.17" height="1.05"/><rect x="382.13" y="349.20" width="17.93" height="1.05"/><rect x="382.17" y="350.20" width="17.50" height="1.05"/><rect x="381.81" y="358.20" width="18.19" height="1.05"/><rect x="383.39" y="362.20" width="16.72" height="1.05"/></g>
<g fill="url(#bK27b)" clip-path="url(#hc2)"><rect x="381.19" y="306.20" width="19.52" height="1.05"/><rect x="380.17" y="308.20" width="21.28" height="1.05"/><rect x="381.20" y="309.20" width="21.39" height="1.05"/><rect x="381.33" y="319.20" width="20.89" height="1.05"/><rect x="381.33" y="320.20" width="20.97" height="1.05"/><rect x="382.23" y="321.20" width="17.36" height="1.05"/><rect x="382.66" y="325.20" width="17.49" height="1.05"/><rect x="382.85" y="326.20" width="17.66" height="1.05"/><rect x="382.05" y="327.20" width="18.35" height="1.05"/><rect x="383.19" y="328.20" width="16.28" height="1.05"/><rect x="384.06" y="330.20" width="15.17" height="1.05"/><rect x="381.83" y="332.20" width="19.52" height="1.05"/><rect x="382.79" y="333.20" width="17.81" height="1.05"/><rect x="382.29" y="334.20" width="18.57" height="1.05"/><rect x="383.03" y="335.20" width="17.63" height="1.05"/><rect x="381.18" y="336.20" width="19.41" height="1.05"/><rect x="381.12" y="338.20" width="19.26" height="1.05"/><rect x="381.89" y="340.20" width="19.40" height="1.05"/><rect x="381.95" y="341.20" width="18.80" height="1.05"/><rect x="383.12" y="343.20" width="16.02" height="1.05"/><rect x="383.09" y="344.20" width="16.15" height="1.05"/><rect x="383.19" y="348.20" width="15.82" height="1.05"/><rect x="382.20" y="351.20" width="18.79" height="1.05"/><rect x="382.54" y="352.20" width="18.59" height="1.05"/><rect x="383.51" y="353.20" width="16.21" height="1.05"/><rect x="382.47" y="354.20" width="18.46" height="1.05"/><rect x="383.58" y="355.20" width="15.71" height="1.05"/><rect x="383.44" y="356.20" width="16.39" height="1.05"/><rect x="382.44" y="357.20" width="17.94" height="1.05"/><rect x="381.60" y="359.20" width="18.68" height="1.05"/><rect x="382.32" y="360.20" width="17.86" height="1.05"/><rect x="382.26" y="361.20" width="17.68" height="1.05"/><rect x="384.38" y="363.20" width="14.44" height="1.05"/><rect x="382.64" y="364.20" width="17.05" height="1.05"/><rect x="383.62" y="365.20" width="15.40" height="1.05"/><rect x="382.85" y="366.20" width="16.49" height="1.05"/><rect x="383.95" y="367.20" width="14.68" height="1.05"/><rect x="384.14" y="368.20" width="13.81" height="1.05"/><rect x="384.03" y="369.20" width="14.17" height="1.05"/><rect x="384.01" y="370.20" width="15.45" height="1.05"/><rect x="383.50" y="371.20" width="16.54" height="1.05"/><rect x="382.95" y="372.20" width="17.17" height="1.05"/><rect x="383.18" y="373.20" width="15.29" height="1.05"/><rect x="383.81" y="374.20" width="14.58" height="1.05"/><rect x="383.91" y="375.20" width="15.57" height="1.05"/><rect x="383.82" y="376.20" width="16.02" height="1.05"/><rect x="383.02" y="377.20" width="16.74" height="1.05"/><rect x="383.90" y="378.20" width="15.63" height="1.05"/><rect x="383.69" y="379.20" width="14.32" height="1.05"/><rect x="383.86" y="380.20" width="15.86" height="1.05"/><rect x="383.56" y="381.20" width="14.58" height="1.05"/><rect x="384.16" y="382.20" width="13.37" height="1.05"/><rect x="383.57" y="383.20" width="15.26" height="1.05"/><rect x="384.87" y="384.20" width="12.81" height="1.05"/><rect x="383.76" y="385.20" width="14.34" height="1.05"/><rect x="384.28" y="386.20" width="15.03" height="1.05"/><rect x="384.55" y="387.20" width="14.44" height="1.05"/><rect x="383.63" y="388.20" width="14.86" height="1.05"/><rect x="385.54" y="389.20" width="12.23" height="1.05"/><rect x="385.96" y="390.20" width="11.73" height="1.05"/><rect x="386.08" y="391.20" width="10.97" height="1.05"/><rect x="384.46" y="392.20" width="12.80" height="1.05"/><rect x="384.57" y="393.20" width="13.74" height="1.05"/><rect x="384.58" y="394.20" width="13.96" height="1.05"/><rect x="384.90" y="395.20" width="13.02" height="1.05"/><rect x="384.61" y="396.20" width="13.34" height="1.05"/><rect x="383.96" y="397.20" width="14.08" height="1.05"/><rect x="385.99" y="398.20" width="11.52" height="1.05"/><rect x="385.15" y="399.20" width="12.35" height="1.05"/><rect x="384.58" y="400.20" width="13.81" height="1.05"/><rect x="384.59" y="401.20" width="12.67" height="1.05"/><rect x="384.90" y="402.20" width="13.17" height="1.05"/><rect x="385.04" y="403.20" width="13.71" height="1.05"/><rect x="384.80" y="404.20" width="13.34" height="1.05"/><rect x="384.15" y="405.20" width="14.06" height="1.05"/><rect x="385.27" y="406.20" width="11.88" height="1.05"/><rect x="384.11" y="407.20" width="13.27" height="1.05"/><rect x="384.88" y="408.20" width="13.02" height="1.05"/><rect x="384.78" y="409.20" width="13.51" height="1.05"/><rect x="385.35" y="410.20" width="12.95" height="1.05"/><rect x="385.82" y="411.20" width="11.61" height="1.05"/><rect x="386.34" y="412.20" width="11.10" height="1.05"/><rect x="385.91" y="413.20" width="10.89" height="1.05"/><rect x="385.50" y="414.20" width="11.66" height="1.05"/><rect x="386.22" y="415.20" width="11.07" height="1.05"/><rect x="386.05" y="416.20" width="10.26" height="0.45"/></g>
<rect x="413.50" y="246.20" width="38.40" height="170.40" fill="url(#bg3)"/>
<rect x="413.5" y="246.2" width="38.4" height="170.4" filter="url(#nzr)" opacity="0.5"/>
<g fill="url(#bPOL)" clip-path="url(#hc3)"><rect x="426.38" y="246.20" width="12.58" height="1.05"/><rect x="426.68" y="247.20" width="12.32" height="1.05"/><rect x="427.17" y="248.20" width="10.55" height="1.05"/><rect x="426.92" y="249.20" width="11.10" height="1.05"/><rect x="427.64" y="250.20" width="10.58" height="1.05"/><rect x="426.49" y="251.20" width="11.96" height="1.05"/><rect x="427.58" y="252.20" width="9.92" height="1.05"/><rect x="426.66" y="253.20" width="11.51" height="1.05"/><rect x="427.38" y="254.20" width="10.18" height="1.05"/><rect x="428.06" y="255.20" width="9.32" height="1.05"/><rect x="428.08" y="256.20" width="9.14" height="1.05"/><rect x="427.42" y="257.20" width="10.82" height="1.05"/><rect x="427.64" y="258.20" width="10.46" height="1.05"/><rect x="427.50" y="259.20" width="10.80" height="1.05"/><rect x="427.68" y="260.20" width="9.89" height="1.05"/><rect x="427.69" y="261.20" width="10.56" height="1.05"/><rect x="427.22" y="262.20" width="10.94" height="1.05"/><rect x="427.62" y="263.20" width="9.91" height="1.05"/><rect x="428.31" y="264.20" width="9.37" height="1.05"/><rect x="427.31" y="265.20" width="11.26" height="1.05"/><rect x="427.39" y="266.20" width="10.86" height="1.05"/><rect x="427.71" y="267.20" width="9.96" height="1.05"/><rect x="428.09" y="268.20" width="9.12" height="1.05"/><rect x="427.91" y="269.20" width="9.10" height="1.05"/><rect x="426.88" y="270.20" width="11.16" height="1.05"/><rect x="427.01" y="271.20" width="11.63" height="1.05"/><rect x="427.91" y="272.20" width="9.56" height="1.05"/><rect x="427.23" y="273.20" width="11.52" height="1.05"/><rect x="427.39" y="274.20" width="10.95" height="1.05"/><rect x="427.00" y="275.20" width="11.15" height="1.05"/><rect x="427.40" y="276.20" width="10.73" height="1.05"/><rect x="427.86" y="277.20" width="10.06" height="1.05"/><rect x="427.88" y="278.20" width="9.94" height="1.05"/><rect x="428.31" y="279.20" width="8.72" height="1.05"/><rect x="428.71" y="280.20" width="8.16" height="1.05"/><rect x="427.51" y="281.20" width="10.43" height="1.05"/><rect x="427.58" y="282.20" width="10.39" height="1.05"/><rect x="427.96" y="283.20" width="9.34" height="1.05"/><rect x="427.81" y="284.20" width="9.96" height="1.05"/><rect x="427.89" y="285.20" width="9.60" height="1.05"/><rect x="428.09" y="286.20" width="9.29" height="1.05"/><rect x="427.51" y="287.20" width="10.18" height="1.05"/><rect x="427.64" y="288.20" width="10.54" height="1.05"/><rect x="427.87" y="289.20" width="10.23" height="1.05"/><rect x="428.24" y="290.20" width="9.42" height="1.05"/><rect x="428.26" y="291.20" width="8.71" height="1.05"/><rect x="427.28" y="292.20" width="10.28" height="1.05"/><rect x="427.78" y="293.20" width="10.29" height="1.05"/><rect x="427.19" y="294.20" width="11.24" height="1.05"/><rect x="427.67" y="295.20" width="9.86" height="1.05"/><rect x="427.38" y="296.20" width="10.12" height="1.05"/><rect x="428.70" y="297.20" width="8.46" height="1.05"/><rect x="427.74" y="298.20" width="9.52" height="1.05"/><rect x="427.90" y="299.20" width="9.35" height="1.05"/><rect x="427.30" y="300.20" width="10.54" height="1.05"/><rect x="427.56" y="301.20" width="10.57" height="1.05"/><rect x="427.84" y="302.20" width="9.41" height="1.05"/><rect x="427.88" y="303.20" width="9.51" height="1.05"/><rect x="427.73" y="304.20" width="9.74" height="1.05"/><rect x="427.46" y="305.20" width="10.39" height="1.05"/><rect x="428.48" y="306.20" width="8.76" height="1.05"/><rect x="427.69" y="307.20" width="10.24" height="1.05"/><rect x="428.01" y="308.20" width="9.83" height="1.05"/><rect x="427.04" y="309.20" width="10.74" height="1.05"/><rect x="427.49" y="310.20" width="9.84" height="1.05"/><rect x="428.03" y="311.20" width="9.03" height="1.05"/><rect x="428.28" y="312.20" width="9.05" height="1.05"/><rect x="427.48" y="313.20" width="10.15" height="1.05"/><rect x="428.89" y="314.20" width="8.22" height="1.05"/><rect x="427.95" y="315.20" width="9.56" height="1.05"/><rect x="428.31" y="316.20" width="8.24" height="1.05"/><rect x="427.74" y="317.20" width="9.95" height="1.05"/><rect x="427.66" y="318.20" width="10.41" height="1.05"/><rect x="427.74" y="319.20" width="10.28" height="1.05"/><rect x="428.12" y="320.20" width="8.86" height="1.05"/><rect x="428.48" y="321.20" width="8.77" height="1.05"/><rect x="428.01" y="322.20" width="9.69" height="1.05"/><rect x="427.96" y="323.20" width="9.46" height="1.05"/><rect x="428.64" y="324.20" width="8.32" height="1.05"/><rect x="428.17" y="325.20" width="9.08" height="1.05"/><rect x="428.21" y="326.20" width="9.56" height="1.05"/><rect x="427.31" y="327.20" width="10.31" height="1.05"/><rect x="428.34" y="328.20" width="8.85" height="1.05"/><rect x="427.91" y="329.20" width="9.31" height="1.05"/><rect x="427.62" y="330.20" width="10.12" height="1.05"/><rect x="427.44" y="331.20" width="9.99" height="1.05"/><rect x="428.09" y="332.20" width="8.64" height="1.05"/><rect x="428.00" y="333.20" width="9.43" height="1.05"/><rect x="427.69" y="334.20" width="10.14" height="1.05"/><rect x="428.22" y="335.20" width="8.78" height="1.05"/><rect x="428.34" y="336.20" width="8.35" height="1.05"/><rect x="429.05" y="337.20" width="7.48" height="1.05"/><rect x="428.85" y="338.20" width="7.65" height="1.05"/><rect x="428.21" y="339.20" width="8.71" height="1.05"/><rect x="428.38" y="340.20" width="8.43" height="1.05"/><rect x="428.80" y="341.20" width="8.01" height="1.05"/><rect x="429.01" y="342.20" width="7.25" height="1.05"/><rect x="429.32" y="343.20" width="6.97" height="1.05"/><rect x="429.32" y="344.20" width="7.32" height="1.05"/><rect x="428.84" y="345.20" width="7.90" height="1.05"/><rect x="428.78" y="346.20" width="8.23" height="1.05"/><rect x="428.39" y="347.20" width="8.78" height="1.05"/><rect x="428.83" y="348.20" width="7.32" height="1.05"/><rect x="428.39" y="349.20" width="8.51" height="1.05"/><rect x="428.02" y="350.20" width="9.52" height="1.05"/><rect x="428.08" y="351.20" width="9.53" height="1.05"/><rect x="427.86" y="352.20" width="9.86" height="1.05"/><rect x="427.70" y="353.20" width="9.91" height="1.05"/><rect x="428.33" y="354.20" width="8.27" height="1.05"/><rect x="429.15" y="355.20" width="7.57" height="1.05"/><rect x="428.30" y="356.20" width="8.26" height="1.05"/><rect x="429.18" y="357.20" width="6.99" height="1.05"/><rect x="428.76" y="358.20" width="7.72" height="1.05"/><rect x="429.19" y="359.20" width="6.73" height="1.05"/><rect x="428.64" y="360.20" width="8.38" height="1.05"/><rect x="428.12" y="361.20" width="8.88" height="1.05"/><rect x="428.17" y="362.20" width="8.70" height="1.05"/><rect x="429.10" y="363.20" width="7.74" height="1.05"/><rect x="429.01" y="364.20" width="7.14" height="1.05"/><rect x="429.47" y="365.20" width="6.90" height="1.05"/><rect x="428.81" y="366.20" width="7.89" height="1.05"/><rect x="428.35" y="367.20" width="8.65" height="1.05"/><rect x="428.32" y="368.20" width="9.09" height="1.05"/><rect x="428.64" y="369.20" width="7.81" height="1.05"/><rect x="428.75" y="370.20" width="7.83" height="1.05"/><rect x="428.59" y="371.20" width="8.41" height="1.05"/><rect x="428.50" y="372.20" width="8.51" height="1.05"/><rect x="429.13" y="373.20" width="7.44" height="1.05"/><rect x="428.46" y="374.20" width="8.64" height="1.05"/><rect x="428.30" y="375.20" width="8.48" height="1.05"/><rect x="429.14" y="376.20" width="7.05" height="1.05"/><rect x="429.06" y="377.20" width="7.55" height="1.05"/><rect x="429.00" y="378.20" width="7.46" height="1.05"/><rect x="429.16" y="379.20" width="6.54" height="1.05"/><rect x="429.47" y="380.20" width="6.24" height="1.05"/><rect x="429.30" y="381.20" width="6.37" height="1.05"/><rect x="429.29" y="382.20" width="6.63" height="1.05"/><rect x="429.07" y="383.20" width="7.79" height="1.05"/><rect x="428.54" y="384.20" width="8.61" height="1.05"/><rect x="429.17" y="385.20" width="6.75" height="1.05"/><rect x="428.73" y="386.20" width="8.17" height="1.05"/><rect x="428.32" y="387.20" width="8.40" height="1.05"/><rect x="428.89" y="388.20" width="7.13" height="1.05"/><rect x="429.00" y="389.20" width="7.23" height="1.05"/><rect x="428.91" y="390.20" width="7.14" height="1.05"/><rect x="429.57" y="391.20" width="6.13" height="1.05"/><rect x="428.97" y="392.20" width="7.64" height="1.05"/><rect x="428.70" y="393.20" width="7.47" height="1.05"/><rect x="429.08" y="394.20" width="7.09" height="1.05"/><rect x="428.97" y="395.20" width="7.34" height="1.05"/><rect x="428.67" y="396.20" width="7.79" height="1.05"/><rect x="428.51" y="397.20" width="7.79" height="1.05"/><rect x="429.60" y="398.20" width="6.56" height="1.05"/><rect x="428.82" y="399.20" width="7.53" height="1.05"/><rect x="429.71" y="400.20" width="6.53" height="1.05"/><rect x="428.98" y="401.20" width="6.94" height="1.05"/><rect x="428.79" y="402.20" width="7.90" height="1.05"/><rect x="429.28" y="403.20" width="6.85" height="1.05"/><rect x="429.47" y="404.20" width="6.56" height="1.05"/><rect x="429.37" y="405.20" width="6.52" height="1.05"/><rect x="429.02" y="406.20" width="7.13" height="1.05"/><rect x="429.07" y="407.20" width="7.56" height="1.05"/><rect x="428.52" y="408.20" width="7.94" height="1.05"/><rect x="428.88" y="409.20" width="7.91" height="1.05"/><rect x="429.69" y="410.20" width="6.52" height="1.05"/><rect x="429.21" y="411.20" width="6.59" height="1.05"/><rect x="429.99" y="412.20" width="6.02" height="1.05"/><rect x="429.07" y="413.20" width="6.95" height="1.05"/><rect x="428.68" y="414.20" width="7.48" height="1.05"/><rect x="429.14" y="415.20" width="7.29" height="1.05"/><rect x="429.18" y="416.20" width="7.53" height="0.45"/></g>
<rect x="454.60" y="246.20" width="38.40" height="170.40" fill="url(#bg4)"/>
<rect x="454.6" y="246.2" width="38.4" height="170.4" filter="url(#nzb)" opacity="0.6"/>
<g fill="url(#bME3)" clip-path="url(#hc4)"><rect x="457.66" y="246.20" width="34.97" height="1.05"/><rect x="456.68" y="247.20" width="34.36" height="1.05"/><rect x="459.96" y="248.20" width="29.73" height="1.05"/><rect x="456.98" y="249.20" width="32.91" height="1.05"/><rect x="461.55" y="250.20" width="27.29" height="1.05"/><rect x="462.47" y="251.20" width="24.48" height="1.05"/><rect x="461.92" y="252.20" width="25.53" height="1.05"/><rect x="458.82" y="253.20" width="31.48" height="1.05"/><rect x="459.62" y="254.20" width="28.84" height="1.05"/><rect x="459.60" y="255.20" width="30.12" height="1.05"/><rect x="460.15" y="256.20" width="28.36" height="1.05"/><rect x="459.47" y="257.20" width="28.90" height="1.05"/><rect x="461.85" y="258.20" width="25.37" height="1.05"/><rect x="463.05" y="259.20" width="23.09" height="1.05"/><rect x="460.41" y="260.20" width="29.29" height="1.05"/><rect x="461.18" y="261.20" width="26.09" height="1.05"/><rect x="458.32" y="262.20" width="31.55" height="1.05"/><rect x="456.64" y="263.20" width="34.33" height="1.05"/><rect x="456.57" y="264.20" width="33.83" height="1.05"/><rect x="459.11" y="265.20" width="31.81" height="1.05"/><rect x="459.80" y="266.20" width="29.74" height="1.05"/><rect x="459.16" y="267.20" width="32.47" height="1.05"/><rect x="461.34" y="268.20" width="26.22" height="1.05"/><rect x="463.01" y="269.20" width="22.30" height="1.05"/><rect x="462.86" y="270.20" width="21.72" height="1.05"/><rect x="460.52" y="271.20" width="26.11" height="1.05"/><rect x="461.81" y="272.20" width="23.21" height="1.05"/><rect x="459.70" y="273.20" width="28.37" height="1.05"/><rect x="463.04" y="274.20" width="23.21" height="1.05"/><rect x="461.02" y="275.20" width="27.29" height="1.05"/><rect x="460.87" y="276.20" width="27.21" height="1.05"/><rect x="459.65" y="277.20" width="28.73" height="1.05"/><rect x="459.57" y="278.20" width="30.43" height="1.05"/><rect x="459.60" y="279.20" width="31.16" height="1.05"/><rect x="458.84" y="280.20" width="31.19" height="1.05"/><rect x="460.78" y="281.20" width="28.16" height="1.05"/><rect x="459.75" y="282.20" width="27.41" height="1.05"/><rect x="458.72" y="283.20" width="30.16" height="1.05"/><rect x="460.71" y="284.20" width="27.19" height="1.05"/><rect x="463.38" y="285.20" width="22.36" height="1.05"/><rect x="462.57" y="286.20" width="24.91" height="1.05"/><rect x="460.99" y="287.20" width="26.05" height="1.05"/><rect x="462.32" y="288.20" width="26.00" height="1.05"/><rect x="461.81" y="289.20" width="26.55" height="1.05"/><rect x="464.23" y="290.20" width="21.10" height="1.05"/><rect x="463.39" y="291.20" width="20.66" height="1.05"/><rect x="463.01" y="292.20" width="21.49" height="1.05"/><rect x="464.03" y="293.20" width="19.59" height="1.05"/><rect x="463.87" y="294.20" width="20.05" height="1.05"/><rect x="461.00" y="295.20" width="25.14" height="1.05"/><rect x="462.57" y="296.20" width="21.88" height="1.05"/><rect x="462.27" y="297.20" width="23.17" height="1.05"/><rect x="461.96" y="298.20" width="23.83" height="1.05"/><rect x="463.80" y="299.20" width="21.15" height="1.05"/><rect x="465.69" y="300.20" width="18.97" height="1.05"/><rect x="463.09" y="301.20" width="22.21" height="1.05"/><rect x="463.64" y="302.20" width="23.31" height="1.05"/><rect x="462.58" y="303.20" width="23.22" height="1.05"/><rect x="463.76" y="304.20" width="20.79" height="1.05"/><rect x="462.43" y="305.20" width="24.39" height="1.05"/><rect x="464.38" y="306.20" width="21.63" height="1.05"/><rect x="464.46" y="307.20" width="19.30" height="1.05"/><rect x="463.44" y="308.20" width="23.57" height="1.05"/><rect x="462.12" y="309.20" width="22.61" height="1.05"/><rect x="462.76" y="310.20" width="22.98" height="1.05"/><rect x="464.71" y="311.20" width="18.78" height="1.05"/><rect x="461.53" y="312.20" width="23.88" height="1.05"/><rect x="463.62" y="313.20" width="20.22" height="1.05"/><rect x="462.21" y="314.20" width="23.62" height="1.05"/><rect x="462.75" y="315.20" width="23.99" height="1.05"/><rect x="464.88" y="316.20" width="18.79" height="1.05"/><rect x="466.25" y="317.20" width="17.50" height="1.05"/><rect x="464.23" y="318.20" width="19.81" height="1.05"/><rect x="463.47" y="319.20" width="23.15" height="1.05"/><rect x="464.25" y="320.20" width="18.69" height="1.05"/><rect x="464.63" y="321.20" width="18.80" height="1.05"/><rect x="464.42" y="322.20" width="19.68" height="1.05"/><rect x="462.76" y="323.20" width="23.97" height="1.05"/><rect x="461.88" y="324.20" width="25.50" height="1.05"/><rect x="464.24" y="325.20" width="20.59" height="1.05"/><rect x="465.55" y="326.20" width="18.03" height="1.05"/><rect x="466.85" y="327.20" width="16.83" height="1.05"/><rect x="466.45" y="328.20" width="17.48" height="1.05"/><rect x="465.28" y="329.20" width="17.06" height="1.05"/><rect x="466.53" y="330.20" width="17.03" height="1.05"/><rect x="464.31" y="331.20" width="21.15" height="1.05"/><rect x="463.25" y="332.20" width="20.89" height="1.05"/><rect x="464.31" y="333.20" width="18.32" height="1.05"/><rect x="462.59" y="334.20" width="22.13" height="1.05"/><rect x="462.38" y="335.20" width="22.05" height="1.05"/><rect x="465.14" y="336.20" width="18.92" height="1.05"/><rect x="465.09" y="337.20" width="16.91" height="1.05"/><rect x="463.48" y="338.20" width="20.98" height="1.05"/><rect x="466.61" y="339.20" width="16.40" height="1.05"/><rect x="463.87" y="340.20" width="21.24" height="1.05"/><rect x="465.94" y="341.20" width="16.60" height="1.05"/><rect x="464.60" y="342.20" width="18.57" height="1.05"/><rect x="465.88" y="343.20" width="18.00" height="1.05"/><rect x="465.41" y="344.20" width="19.30" height="1.05"/><rect x="463.60" y="345.20" width="21.68" height="1.05"/><rect x="462.27" y="346.20" width="22.74" height="1.05"/><rect x="464.73" y="347.20" width="20.04" height="1.05"/><rect x="463.56" y="348.20" width="21.56" height="1.05"/><rect x="465.73" y="349.20" width="18.91" height="1.05"/><rect x="464.52" y="350.20" width="18.00" height="1.05"/><rect x="465.22" y="351.20" width="17.45" height="1.05"/><rect x="465.81" y="352.20" width="18.45" height="1.05"/><rect x="466.56" y="353.20" width="14.95" height="1.05"/><rect x="465.60" y="354.20" width="18.83" height="1.05"/><rect x="464.40" y="355.20" width="19.56" height="1.05"/><rect x="464.69" y="356.20" width="20.82" height="1.05"/><rect x="464.29" y="357.20" width="20.40" height="1.05"/><rect x="464.13" y="358.20" width="19.07" height="1.05"/><rect x="466.02" y="359.20" width="14.82" height="1.05"/><rect x="467.82" y="360.20" width="13.19" height="1.05"/><rect x="465.66" y="361.20" width="17.78" height="1.05"/><rect x="465.61" y="362.20" width="18.59" height="1.05"/><rect x="464.08" y="363.20" width="19.75" height="1.05"/><rect x="466.49" y="364.20" width="17.52" height="1.05"/><rect x="467.00" y="365.20" width="15.59" height="1.05"/><rect x="466.09" y="366.20" width="15.24" height="1.05"/><rect x="467.20" y="367.20" width="13.84" height="1.05"/><rect x="469.04" y="368.20" width="12.24" height="1.05"/><rect x="467.19" y="369.20" width="13.39" height="1.05"/><rect x="465.29" y="370.20" width="16.25" height="1.05"/><rect x="465.75" y="371.20" width="17.09" height="1.05"/><rect x="467.36" y="372.20" width="13.67" height="1.05"/><rect x="464.92" y="373.20" width="17.12" height="1.05"/><rect x="466.45" y="374.20" width="14.62" height="1.05"/><rect x="466.19" y="375.20" width="15.21" height="1.05"/><rect x="465.76" y="376.20" width="16.73" height="1.05"/><rect x="464.75" y="377.20" width="17.78" height="1.05"/><rect x="466.28" y="378.20" width="14.35" height="1.05"/><rect x="467.78" y="379.20" width="11.97" height="1.05"/><rect x="467.62" y="380.20" width="13.76" height="1.05"/><rect x="466.32" y="381.20" width="15.11" height="1.05"/><rect x="467.91" y="382.20" width="14.91" height="1.05"/><rect x="467.18" y="383.20" width="13.37" height="1.05"/><rect x="469.32" y="384.20" width="12.02" height="1.05"/><rect x="467.56" y="385.20" width="13.65" height="1.05"/><rect x="466.79" y="386.20" width="13.53" height="1.05"/><rect x="468.75" y="387.20" width="12.11" height="1.05"/><rect x="468.62" y="388.20" width="11.61" height="1.05"/><rect x="466.54" y="389.20" width="14.46" height="1.05"/><rect x="468.20" y="390.20" width="13.46" height="1.05"/><rect x="467.92" y="391.20" width="14.26" height="1.05"/><rect x="466.92" y="392.20" width="15.27" height="1.05"/><rect x="468.20" y="393.20" width="12.44" height="1.05"/><rect x="466.57" y="394.20" width="14.45" height="1.05"/><rect x="467.64" y="395.20" width="12.30" height="1.05"/><rect x="466.59" y="396.20" width="14.00" height="1.05"/><rect x="468.93" y="397.20" width="11.37" height="1.05"/><rect x="467.84" y="398.20" width="12.80" height="1.05"/><rect x="468.13" y="399.20" width="13.38" height="1.05"/><rect x="467.56" y="400.20" width="11.98" height="1.05"/><rect x="468.32" y="401.20" width="12.64" height="1.05"/><rect x="467.83" y="402.20" width="13.95" height="1.05"/><rect x="468.47" y="403.20" width="10.65" height="1.05"/><rect x="469.70" y="404.20" width="10.30" height="1.05"/><rect x="468.82" y="405.20" width="10.10" height="1.05"/><rect x="469.21" y="406.20" width="9.46" height="1.05"/><rect x="469.62" y="407.20" width="10.40" height="1.05"/><rect x="467.56" y="408.20" width="12.08" height="1.05"/><rect x="469.59" y="409.20" width="11.51" height="1.05"/><rect x="468.35" y="410.20" width="10.60" height="1.05"/><rect x="469.47" y="411.20" width="11.16" height="1.05"/><rect x="469.08" y="412.20" width="8.98" height="1.05"/><rect x="469.60" y="413.20" width="9.07" height="1.05"/><rect x="469.40" y="414.20" width="8.33" height="1.05"/><rect x="470.76" y="415.20" width="9.10" height="1.05"/><rect x="469.02" y="416.20" width="9.87" height="0.45"/></g>
<rect x="331.3" y="246.2" width="38.4" height="170.4" filter="url(#nzc)" opacity="0.6" clip-path="url(#cc1)"/>
<rect x="372.4" y="246.2" width="38.4" height="170.4" filter="url(#nzc2)" opacity="0.45" clip-path="url(#cc2)"/>
<rect x="290.3" y="246.2" width="38.4" height="170.4" filter="url(#nzc)" opacity="0.6" clip-path="url(#cc0)"/>
<rect x="413.5" y="246.2" width="38.4" height="170.4" filter="url(#nzc)" opacity="0.5" clip-path="url(#cc3)"/>
<rect x="454.6" y="246.2" width="38.4" height="170.4" filter="url(#nzl)" opacity="0.4"/>
<g mask="url(#mko)"><rect x="454.6" y="246.2" width="38.4" height="170.4" filter="url(#nzo)" opacity="0.8" clip-path="url(#cco)"/></g>
<rect x="290.30" y="246.20" width="38.4" height="170.40" fill="none" stroke="#6a6a6a" stroke-width="0.5"/>
<rect x="331.30" y="246.20" width="38.4" height="170.40" fill="none" stroke="#6a6a6a" stroke-width="0.5"/>
<rect x="372.40" y="246.20" width="38.4" height="170.40" fill="none" stroke="#6a6a6a" stroke-width="0.5"/>
<rect x="413.50" y="246.20" width="38.4" height="170.40" fill="none" stroke="#6a6a6a" stroke-width="0.5"/>
<rect x="454.60" y="246.20" width="38.4" height="170.40" fill="none" stroke="#6a6a6a" stroke-width="0.5"/>
<path d="M284.4,246.2 L288.0,246.2 L288.0,416.6 L286.6,416.6 Z" fill="#111" stroke="none" stroke-width="1"/>
<path d="M285.2,247.1 L287.2,247.1 L287.2,316.2 Z" fill="#6a6a6a" stroke="none" stroke-width="1"/>
<text x="0" y="0" font-size="8.2" fill="#111" stroke="#111" stroke-width="0.12" textLength="31" lengthAdjust="spacingAndGlyphs" transform="translate(282.6,348.4) rotate(-90)">MAZ signal</text>
<text x="286.90" y="424.30" font-size="4.6" fill="#222" textLength="6.9" lengthAdjust="spacingAndGlyphs" stroke="#222" stroke-width="0.07">-3.0</text>
<text x="297.20" y="424.30" font-size="4.6" fill="#222" textLength="28.9" lengthAdjust="spacingAndGlyphs" stroke="#222" stroke-width="0.07">Peak center 3.0kb</text>
<line x1="309.50" y1="416.60" x2="309.50" y2="418.10" stroke="#555" stroke-width="0.4"/>
<line x1="290.30" y1="416.60" x2="290.30" y2="418.10" stroke="#555" stroke-width="0.4"/>
<line x1="328.70" y1="416.60" x2="328.70" y2="418.10" stroke="#555" stroke-width="0.4"/>
<text x="327.90" y="424.30" font-size="4.6" fill="#222" textLength="6.9" lengthAdjust="spacingAndGlyphs" stroke="#222" stroke-width="0.07">-3.0</text>
<text x="338.20" y="424.30" font-size="4.6" fill="#222" textLength="28.9" lengthAdjust="spacingAndGlyphs" stroke="#222" stroke-width="0.07">Peak center 3.0kb</text>
<line x1="350.50" y1="416.60" x2="350.50" y2="418.10" stroke="#555" stroke-width="0.4"/>
<line x1="331.30" y1="416.60" x2="331.30" y2="418.10" stroke="#555" stroke-width="0.4"/>
<line x1="369.70" y1="416.60" x2="369.70" y2="418.10" stroke="#555" stroke-width="0.4"/>
<text x="369.00" y="424.30" font-size="4.6" fill="#222" textLength="6.9" lengthAdjust="spacingAndGlyphs" stroke="#222" stroke-width="0.07">-3.0</text>
<text x="379.30" y="424.30" font-size="4.6" fill="#222" textLength="28.9" lengthAdjust="spacingAndGlyphs" stroke="#222" stroke-width="0.07">Peak center 3.0kb</text>
<line x1="391.60" y1="416.60" x2="391.60" y2="418.10" stroke="#555" stroke-width="0.4"/>
<line x1="372.40" y1="416.60" x2="372.40" y2="418.10" stroke="#555" stroke-width="0.4"/>
<line x1="410.80" y1="416.60" x2="410.80" y2="418.10" stroke="#555" stroke-width="0.4"/>
<text x="410.10" y="424.30" font-size="4.6" fill="#222" textLength="6.9" lengthAdjust="spacingAndGlyphs" stroke="#222" stroke-width="0.07">-3.0</text>
<text x="420.40" y="424.30" font-size="4.6" fill="#222" textLength="28.9" lengthAdjust="spacingAndGlyphs" stroke="#222" stroke-width="0.07">Peak center 3.0kb</text>
<line x1="432.70" y1="416.60" x2="432.70" y2="418.10" stroke="#555" stroke-width="0.4"/>
<line x1="413.50" y1="416.60" x2="413.50" y2="418.10" stroke="#555" stroke-width="0.4"/>
<line x1="451.90" y1="416.60" x2="451.90" y2="418.10" stroke="#555" stroke-width="0.4"/>
<text x="451.20" y="424.30" font-size="4.6" fill="#222" textLength="6.9" lengthAdjust="spacingAndGlyphs" stroke="#222" stroke-width="0.07">-3.0</text>
<text x="461.50" y="424.30" font-size="4.6" fill="#222" textLength="28.9" lengthAdjust="spacingAndGlyphs" stroke="#222" stroke-width="0.07">Peak center 3.0kb</text>
<line x1="473.80" y1="416.60" x2="473.80" y2="418.10" stroke="#555" stroke-width="0.4"/>
<line x1="454.60" y1="416.60" x2="454.60" y2="418.10" stroke="#555" stroke-width="0.4"/>
<line x1="493.00" y1="416.60" x2="493.00" y2="418.10" stroke="#555" stroke-width="0.4"/>
<text x="23.50" y="425.30" font-size="10.6" fill="#000" font-weight="bold" stroke="#000" stroke-width="0.25">D</text>
<text transform="translate(60.800,464.400) scale(0.1440,0.0102)" font-size="100" font-weight="bold" fill="#D3202E">A</text>
<text transform="translate(60.160,463.681) scale(0.1600,0.0154)" font-size="100" font-weight="bold" fill="#1F2A90">C</text>
<text transform="translate(60.206,462.496) scale(0.1486,0.0871)" font-size="100" font-weight="bold" fill="#F8A51C">G</text>
<text transform="translate(73.120,464.400) scale(0.1440,0.0116)" font-size="100" font-weight="bold" fill="#D3202E">A</text>
<text transform="translate(72.480,463.585) scale(0.1600,0.0126)" font-size="100" font-weight="bold" fill="#1F2A90">C</text>
<text transform="translate(72.526,462.649) scale(0.1486,0.0421)" font-size="100" font-weight="bold" fill="#F8A51C">G</text>
<text transform="translate(85.440,464.400) scale(0.1440,0.0422)" font-size="100" font-weight="bold" fill="#D3202E">A</text>
<text transform="translate(84.846,461.131) scale(0.1486,0.3076)" font-size="100" font-weight="bold" fill="#F8A51C">G</text>
<text transform="translate(97.760,464.400) scale(0.1440,0.0116)" font-size="100" font-weight="bold" fill="#D3202E">A</text>
<text transform="translate(97.166,463.067) scale(0.1486,0.4438)" font-size="100" font-weight="bold" fill="#F8A51C">G</text>
<text transform="translate(110.080,464.400) scale(0.1440,0.0116)" font-size="100" font-weight="bold" fill="#D3202E">A</text>
<text transform="translate(109.486,463.081) scale(0.1486,0.4326)" font-size="100" font-weight="bold" fill="#F8A51C">G</text>
<text transform="translate(121.997,464.400) scale(0.1831,0.0203)" font-size="100" font-weight="bold" fill="#1E9640">T</text>
<text transform="translate(122.400,463.000) scale(0.1440,0.0407)" font-size="100" font-weight="bold" fill="#D3202E">A</text>
<text transform="translate(121.760,460.084) scale(0.1600,0.0969)" font-size="100" font-weight="bold" fill="#1F2A90">C</text>
<text transform="translate(134.720,464.400) scale(0.1440,0.0131)" font-size="100" font-weight="bold" fill="#D3202E">A</text>
<text transform="translate(134.126,463.018) scale(0.1486,0.4017)" font-size="100" font-weight="bold" fill="#F8A51C">G</text>
<text transform="translate(146.637,464.400) scale(0.1831,0.0131)" font-size="100" font-weight="bold" fill="#1E9640">T</text>
<text transform="translate(147.040,463.500) scale(0.1440,0.0087)" font-size="100" font-weight="bold" fill="#D3202E">A</text>
<text transform="translate(146.446,462.479) scale(0.1486,0.3511)" font-size="100" font-weight="bold" fill="#F8A51C">G</text>
<text transform="translate(159.360,464.400) scale(0.1440,0.0436)" font-size="100" font-weight="bold" fill="#D3202E">A</text>
<text transform="translate(158.766,461.088) scale(0.1486,0.2598)" font-size="100" font-weight="bold" fill="#F8A51C">G</text>
<text transform="translate(171.680,464.400) scale(0.1440,0.0131)" font-size="100" font-weight="bold" fill="#D3202E">A</text>
<text transform="translate(171.086,463.001) scale(0.1486,0.4157)" font-size="100" font-weight="bold" fill="#F8A51C">G</text>
<text transform="translate(184.000,464.400) scale(0.1440,0.0087)" font-size="100" font-weight="bold" fill="#D3202E">A</text>
<text transform="translate(183.406,463.754) scale(0.1486,0.0379)" font-size="100" font-weight="bold" fill="#F8A51C">G</text>
<text transform="translate(183.360,461.014) scale(0.1600,0.0716)" font-size="100" font-weight="bold" fill="#1F2A90">C</text>
<text transform="translate(196.320,464.400) scale(0.1440,0.0073)" font-size="100" font-weight="bold" fill="#D3202E">A</text>
<text transform="translate(195.680,463.893) scale(0.1600,0.0056)" font-size="100" font-weight="bold" fill="#1F2A90">C</text>
<text transform="translate(195.726,463.492) scale(0.1486,0.0070)" font-size="100" font-weight="bold" fill="#F8A51C">G</text>
<text transform="translate(208.640,464.400) scale(0.1440,0.0087)" font-size="100" font-weight="bold" fill="#D3202E">A</text>
<text transform="translate(208.000,463.788) scale(0.1600,0.0098)" font-size="100" font-weight="bold" fill="#1F2A90">C</text>
<text transform="translate(208.046,463.078) scale(0.1486,0.0183)" font-size="100" font-weight="bold" fill="#F8A51C">G</text>
<text transform="translate(220.960,464.400) scale(0.1440,0.0102)" font-size="100" font-weight="bold" fill="#D3202E">A</text>
<text transform="translate(220.320,463.678) scale(0.1600,0.0183)" font-size="100" font-weight="bold" fill="#1F2A90">C</text>
<text transform="translate(220.366,462.366) scale(0.1486,0.0281)" font-size="100" font-weight="bold" fill="#F8A51C">G</text>
<text transform="translate(233.280,464.400) scale(0.1440,0.0087)" font-size="100" font-weight="bold" fill="#D3202E">A</text>
<text transform="translate(232.640,463.788) scale(0.1600,0.0098)" font-size="100" font-weight="bold" fill="#1F2A90">C</text>
<text transform="translate(232.686,463.078) scale(0.1486,0.0183)" font-size="100" font-weight="bold" fill="#F8A51C">G</text>
<line x1="59.40" y1="430.80" x2="59.40" y2="464.60" stroke="#222" stroke-width="0.8"/>
<line x1="56.60" y1="430.80" x2="59.40" y2="430.80" stroke="#222" stroke-width="0.8"/>
<text x="55.60" y="432.80" font-size="5.6" fill="#222" text-anchor="end" stroke="#222" stroke-width="0.07">2</text>
<line x1="56.60" y1="447.50" x2="59.40" y2="447.50" stroke="#222" stroke-width="0.8"/>
<text x="55.60" y="449.50" font-size="5.6" fill="#222" text-anchor="end" stroke="#222" stroke-width="0.07">1</text>
<line x1="56.60" y1="464.20" x2="59.40" y2="464.20" stroke="#222" stroke-width="0.8"/>
<text x="55.60" y="466.20" font-size="5.6" fill="#222" text-anchor="end" stroke="#222" stroke-width="0.07">0</text>
<text transform="translate(46.9,449.3) rotate(-90)" font-size="7.0" text-anchor="middle" fill="#222">Bits</text>
<text x="66.00" y="470.60" font-size="5.6" fill="#222" text-anchor="middle" stroke="#222" stroke-width="0.07">1</text>
<text x="78.32" y="470.60" font-size="5.6" fill="#222" text-anchor="middle" stroke="#222" stroke-width="0.07">2</text>
<text x="90.64" y="470.60" font-size="5.6" fill="#222" text-anchor="middle" stroke="#222" stroke-width="0.07">3</text>
<text x="102.96" y="470.60" font-size="5.6" fill="#222" text-anchor="middle" stroke="#222" stroke-width="0.07">4</text>
<text x="115.28" y="470.60" font-size="5.6" fill="#222" text-anchor="middle" stroke="#222" stroke-width="0.07">5</text>
<text x="127.60" y="470.60" font-size="5.6" fill="#222" text-anchor="middle" stroke="#222" stroke-width="0.07">6</text>
<text x="139.92" y="470.60" font-size="5.6" fill="#222" text-anchor="middle" stroke="#222" stroke-width="0.07">7</text>
<text x="152.24" y="470.60" font-size="5.6" fill="#222" text-anchor="middle" stroke="#222" stroke-width="0.07">8</text>
<text x="164.56" y="470.60" font-size="5.6" fill="#222" text-anchor="middle" stroke="#222" stroke-width="0.07">9</text>
<text x="176.88" y="470.60" font-size="5.6" fill="#222" text-anchor="middle" stroke="#222" stroke-width="0.07">10</text>
<text x="189.20" y="470.60" font-size="5.6" fill="#222" text-anchor="middle" stroke="#222" stroke-width="0.07">11</text>
<text x="201.52" y="470.60" font-size="5.6" fill="#222" text-anchor="middle" stroke="#222" stroke-width="0.07">12</text>
<text x="213.84" y="470.60" font-size="5.6" fill="#222" text-anchor="middle" stroke="#222" stroke-width="0.07">13</text>
<text x="226.16" y="470.60" font-size="5.6" fill="#222" text-anchor="middle" stroke="#222" stroke-width="0.07">14</text>
<text x="238.48" y="470.60" font-size="5.6" fill="#222" text-anchor="middle" stroke="#222" stroke-width="0.07">15</text>
<line x1="9.60" y1="474.60" x2="9.60" y2="604.50" stroke="#1a1a1a" stroke-width="0.95"/>
<line x1="21.10" y1="474.60" x2="21.10" y2="604.50" stroke="#1a1a1a" stroke-width="0.95"/>
<line x1="117.90" y1="474.60" x2="117.90" y2="604.50" stroke="#1a1a1a" stroke-width="0.95"/>
<line x1="147.70" y1="474.60" x2="147.70" y2="604.50" stroke="#1a1a1a" stroke-width="0.95"/>
<line x1="179.70" y1="474.60" x2="179.70" y2="604.50" stroke="#1a1a1a" stroke-width="0.95"/>
<line x1="238.50" y1="474.60" x2="238.50" y2="604.50" stroke="#1a1a1a" stroke-width="0.95"/>
<line x1="281.80" y1="474.60" x2="281.80" y2="604.50" stroke="#1a1a1a" stroke-width="0.95"/>
<line x1="9.60" y1="474.60" x2="281.80" y2="474.60" stroke="#1a1a1a" stroke-width="0.95"/>
<line x1="9.60" y1="490.30" x2="281.80" y2="490.30" stroke="#1a1a1a" stroke-width="0.95"/>
<line x1="9.60" y1="509.80" x2="281.80" y2="509.80" stroke="#1a1a1a" stroke-width="0.95"/>
<line x1="9.60" y1="528.80" x2="281.80" y2="528.80" stroke="#1a1a1a" stroke-width="0.95"/>
<line x1="9.60" y1="548.20" x2="281.80" y2="548.20" stroke="#1a1a1a" stroke-width="0.95"/>
<line x1="9.60" y1="566.90" x2="281.80" y2="566.90" stroke="#1a1a1a" stroke-width="0.95"/>
<line x1="9.60" y1="586.00" x2="281.80" y2="586.00" stroke="#1a1a1a" stroke-width="0.95"/>
<line x1="9.60" y1="604.50" x2="281.80" y2="604.50" stroke="#1a1a1a" stroke-width="0.95"/>
<text x="67.20" y="484.90" font-size="6.1" fill="#111" text-anchor="middle" textLength="28.1" lengthAdjust="spacingAndGlyphs" stroke="#111" stroke-width="0.07">Motif Logo</text>
<text x="132.80" y="484.8" font-size="6.1" text-anchor="middle" fill="#111" font-style="italic">E-value</text>
<text x="163.70" y="481.40" font-size="5.9" fill="#111" text-anchor="middle" stroke="#111" stroke-width="0.07">Canonical</text>
<text x="163.70" y="487.90" font-size="5.9" fill="#111" text-anchor="middle" font-style="italic" stroke="#111" stroke-width="0.07">motif</text>
<text x="209.10" y="481.40" font-size="5.9" fill="#111" text-anchor="middle" stroke="#111" stroke-width="0.07">Percentage of motif-</text>
<text x="209.10" y="487.90" font-size="5.9" fill="#111" text-anchor="middle" stroke="#111" stroke-width="0.07">containing peaks</text>
<text x="260.15" y="481.40" font-size="5.9" fill="#111" text-anchor="middle" stroke="#111" stroke-width="0.07">Motif centrality</text>
<text x="260.15" y="487.9" font-size="5.9" text-anchor="middle" fill="#111"><tspan font-style="italic">p</tspan>-value</text>
<text x="15.55" y="502.35" font-size="6.4" fill="#000" text-anchor="middle" font-weight="bold" stroke="#000" stroke-width="0.07">1</text>
<text x="132.80" y="502.15" font-size="5.9" text-anchor="middle" fill="#111">2.7e<tspan font-size="4.6" dy="-2.6">-303</tspan></text>
<text x="163.70" y="502.15" font-size="5.9" fill="#111" text-anchor="middle" stroke="#111" stroke-width="0.07">SP1</text>
<text x="209.10" y="502.15" font-size="5.9" fill="#111" text-anchor="middle" stroke="#111" stroke-width="0.07">92%</text>
<text x="260.15" y="502.15" font-size="5.9" text-anchor="middle" fill="#111">1.2e<tspan font-size="4.6" dy="-2.6">-601</tspan></text>
<text x="15.55" y="521.60" font-size="6.4" fill="#000" text-anchor="middle" font-weight="bold" stroke="#000" stroke-width="0.07">2</text>
<text x="132.80" y="521.40" font-size="5.9" text-anchor="middle" fill="#111">7.1e<tspan font-size="4.6" dy="-2.6">-058</tspan></text>
<text x="163.70" y="521.40" font-size="5.9" fill="#111" text-anchor="middle" stroke="#111" stroke-width="0.07">NFY</text>
<text x="209.10" y="521.40" font-size="5.9" fill="#111" text-anchor="middle" stroke="#111" stroke-width="0.07">3%</text>
<text x="260.15" y="521.40" font-size="5.9" text-anchor="middle" fill="#111">8.1e<tspan font-size="4.6" dy="-2.6">-88</tspan></text>
<text x="15.55" y="540.80" font-size="6.4" fill="#000" text-anchor="middle" font-weight="bold" stroke="#000" stroke-width="0.07">3</text>
<text x="132.80" y="540.60" font-size="5.9" text-anchor="middle" fill="#111">1.4e<tspan font-size="4.6" dy="-2.6">-031</tspan></text>
<text x="163.70" y="540.60" font-size="5.9" fill="#111" text-anchor="middle" stroke="#111" stroke-width="0.07">–</text>
<text x="209.10" y="540.60" font-size="5.9" fill="#111" text-anchor="middle" stroke="#111" stroke-width="0.07">7%</text>
<text x="260.15" y="540.60" font-size="5.9" text-anchor="middle" fill="#111">6.9e<tspan font-size="4.6" dy="-2.6">-19</tspan></text>
<text x="15.55" y="559.85" font-size="6.4" fill="#000" text-anchor="middle" font-weight="bold" stroke="#000" stroke-width="0.07">4</text>
<text x="132.80" y="559.65" font-size="5.9" text-anchor="middle" fill="#111">2.1e<tspan font-size="4.6" dy="-2.6">-025</tspan></text>
<text x="163.70" y="559.65" font-size="5.9" fill="#111" text-anchor="middle" stroke="#111" stroke-width="0.07">–</text>
<text x="209.10" y="559.65" font-size="5.9" fill="#111" text-anchor="middle" stroke="#111" stroke-width="0.07">31%</text>
<text x="260.15" y="559.65" font-size="5.9" fill="#111" text-anchor="middle" stroke="#111" stroke-width="0.07">1.0</text>
<text x="15.55" y="578.75" font-size="6.4" fill="#000" text-anchor="middle" font-weight="bold" stroke="#000" stroke-width="0.07">5</text>
<text x="132.80" y="578.55" font-size="5.9" text-anchor="middle" fill="#111">5.9e<tspan font-size="4.6" dy="-2.6">-016</tspan></text>
<text x="163.70" y="578.55" font-size="5.9" fill="#111" text-anchor="middle" stroke="#111" stroke-width="0.07">–</text>
<text x="209.10" y="578.55" font-size="5.9" fill="#111" text-anchor="middle" stroke="#111" stroke-width="0.07">21%</text>
<text x="260.15" y="578.55" font-size="5.9" text-anchor="middle" fill="#111">9.1e<tspan font-size="4.6" dy="-2.6">-126</tspan></text>
<text x="15.55" y="597.55" font-size="6.4" fill="#000" text-anchor="middle" font-weight="bold" stroke="#000" stroke-width="0.07">6</text>
<text x="132.80" y="597.35" font-size="5.9" text-anchor="middle" fill="#111">4.3e<tspan font-size="4.6" dy="-2.6">-006</tspan></text>
<text x="163.70" y="597.35" font-size="5.9" fill="#111" text-anchor="middle" stroke="#111" stroke-width="0.07">–</text>
<text x="209.10" y="597.35" font-size="5.9" fill="#111" text-anchor="middle" stroke="#111" stroke-width="0.07">1%</text>
<text x="260.15" y="597.35" font-size="5.9" text-anchor="middle" fill="#111">9.5e<tspan font-size="4.6" dy="-2.6">-80</tspan></text>
<line x1="26.40" y1="492.20" x2="26.40" y2="505.00" stroke="#666" stroke-width="0.55"/>
<line x1="26.40" y1="492.20" x2="27.30" y2="492.20" stroke="#666" stroke-width="0.5"/>
<line x1="26.40" y1="505.00" x2="27.30" y2="505.00" stroke="#666" stroke-width="0.5"/>
<line x1="23.60" y1="496.30" x2="23.60" y2="498.50" stroke="#888" stroke-width="0.5"/>
<text transform="translate(25.975,504.600) scale(0.0561,0.0058)" font-size="100" font-weight="bold" fill="#D3202E" stroke="#D3202E" stroke-width="7">A</text>
<text transform="translate(25.726,504.193) scale(0.0623,0.0056)" font-size="100" font-weight="bold" fill="#1F2A90" stroke="#1F2A90" stroke-width="7">C</text>
<text transform="translate(25.744,503.776) scale(0.0579,0.0197)" font-size="100" font-weight="bold" fill="#F8A51C" stroke="#F8A51C" stroke-width="7">G</text>
<text transform="translate(30.025,504.600) scale(0.0561,0.0073)" font-size="100" font-weight="bold" fill="#D3202E" stroke="#D3202E" stroke-width="7">A</text>
<text transform="translate(29.776,504.095) scale(0.0623,0.0042)" font-size="100" font-weight="bold" fill="#1F2A90" stroke="#1F2A90" stroke-width="7">C</text>
<text transform="translate(29.794,503.793) scale(0.0579,0.0056)" font-size="100" font-weight="bold" fill="#F8A51C" stroke="#F8A51C" stroke-width="7">G</text>
<text transform="translate(34.075,504.600) scale(0.0561,0.0087)" font-size="100" font-weight="bold" fill="#D3202E" stroke="#D3202E" stroke-width="7">A</text>
<text transform="translate(33.844,503.865) scale(0.0579,0.1124)" font-size="100" font-weight="bold" fill="#F8A51C" stroke="#F8A51C" stroke-width="7">G</text>
<text transform="translate(38.125,504.600) scale(0.0561,0.0044)" font-size="100" font-weight="bold" fill="#D3202E" stroke="#D3202E" stroke-width="7">A</text>
<text transform="translate(37.894,504.155) scale(0.0579,0.1208)" font-size="100" font-weight="bold" fill="#F8A51C" stroke="#F8A51C" stroke-width="7">G</text>
<text transform="translate(42.175,504.600) scale(0.0561,0.0044)" font-size="100" font-weight="bold" fill="#D3202E" stroke="#D3202E" stroke-width="7">A</text>
<text transform="translate(41.944,504.158) scale(0.0579,0.1180)" font-size="100" font-weight="bold" fill="#F8A51C" stroke="#F8A51C" stroke-width="7">G</text>
<text transform="translate(46.068,504.600) scale(0.0713,0.0073)" font-size="100" font-weight="bold" fill="#1E9640" stroke="#1E9640" stroke-width="7">T</text>
<text transform="translate(46.225,504.100) scale(0.0561,0.0073)" font-size="100" font-weight="bold" fill="#D3202E" stroke="#D3202E" stroke-width="7">A</text>
<text transform="translate(45.976,503.573) scale(0.0623,0.0225)" font-size="100" font-weight="bold" fill="#1F2A90" stroke="#1F2A90" stroke-width="7">C</text>
<text transform="translate(50.275,504.600) scale(0.0561,0.0044)" font-size="100" font-weight="bold" fill="#D3202E" stroke="#D3202E" stroke-width="7">A</text>
<text transform="translate(50.044,504.162) scale(0.0579,0.1152)" font-size="100" font-weight="bold" fill="#F8A51C" stroke="#F8A51C" stroke-width="7">G</text>
<text transform="translate(54.168,504.600) scale(0.0713,0.0044)" font-size="100" font-weight="bold" fill="#1E9640" stroke="#1E9640" stroke-width="7">T</text>
<text transform="translate(54.094,504.169) scale(0.0579,0.1096)" font-size="100" font-weight="bold" fill="#F8A51C" stroke="#F8A51C" stroke-width="7">G</text>
<text transform="translate(58.375,504.600) scale(0.0561,0.0116)" font-size="100" font-weight="bold" fill="#D3202E" stroke="#D3202E" stroke-width="7">A</text>
<text transform="translate(58.144,503.679) scale(0.0579,0.1011)" font-size="100" font-weight="bold" fill="#F8A51C" stroke="#F8A51C" stroke-width="7">G</text>
<text transform="translate(62.425,504.600) scale(0.0561,0.0044)" font-size="100" font-weight="bold" fill="#D3202E" stroke="#D3202E" stroke-width="7">A</text>
<text transform="translate(62.194,504.165) scale(0.0579,0.1124)" font-size="100" font-weight="bold" fill="#F8A51C" stroke="#F8A51C" stroke-width="7">G</text>
<text transform="translate(66.244,504.590) scale(0.0579,0.0084)" font-size="100" font-weight="bold" fill="#F8A51C" stroke="#F8A51C" stroke-width="7">G</text>
<text transform="translate(66.226,503.976) scale(0.0623,0.0197)" font-size="100" font-weight="bold" fill="#1F2A90" stroke="#1F2A90" stroke-width="7">C</text>
<text transform="translate(70.276,504.595) scale(0.0623,0.0042)" font-size="100" font-weight="bold" fill="#1F2A90" stroke="#1F2A90" stroke-width="7">C</text>
<text transform="translate(70.368,504.300) scale(0.0713,0.0044)" font-size="100" font-weight="bold" fill="#1E9640" stroke="#1E9640" stroke-width="7">T</text>
<text transform="translate(74.326,504.595) scale(0.0623,0.0042)" font-size="100" font-weight="bold" fill="#1F2A90" stroke="#1F2A90" stroke-width="7">C</text>
<text transform="translate(74.344,504.292) scale(0.0579,0.0070)" font-size="100" font-weight="bold" fill="#F8A51C" stroke="#F8A51C" stroke-width="7">G</text>
<text transform="translate(78.376,504.592) scale(0.0623,0.0070)" font-size="100" font-weight="bold" fill="#1F2A90" stroke="#1F2A90" stroke-width="7">C</text>
<text transform="translate(78.394,504.085) scale(0.0579,0.0126)" font-size="100" font-weight="bold" fill="#F8A51C" stroke="#F8A51C" stroke-width="7">G</text>
<text transform="translate(82.426,504.595) scale(0.0623,0.0042)" font-size="100" font-weight="bold" fill="#1F2A90" stroke="#1F2A90" stroke-width="7">C</text>
<text transform="translate(82.444,504.290) scale(0.0579,0.0084)" font-size="100" font-weight="bold" fill="#F8A51C" stroke="#F8A51C" stroke-width="7">G</text>
<line x1="28.00" y1="505.30" x2="28.00" y2="506.10" stroke="#aaa" stroke-width="0.4"/>
<line x1="32.05" y1="505.30" x2="32.05" y2="506.10" stroke="#aaa" stroke-width="0.4"/>
<line x1="36.10" y1="505.30" x2="36.10" y2="506.10" stroke="#aaa" stroke-width="0.4"/>
<line x1="40.15" y1="505.30" x2="40.15" y2="506.10" stroke="#aaa" stroke-width="0.4"/>
<line x1="44.20" y1="505.30" x2="44.20" y2="506.10" stroke="#aaa" stroke-width="0.4"/>
<line x1="48.25" y1="505.30" x2="48.25" y2="506.10" stroke="#aaa" stroke-width="0.4"/>
<line x1="52.30" y1="505.30" x2="52.30" y2="506.10" stroke="#aaa" stroke-width="0.4"/>
<line x1="56.35" y1="505.30" x2="56.35" y2="506.10" stroke="#aaa" stroke-width="0.4"/>
<line x1="60.40" y1="505.30" x2="60.40" y2="506.10" stroke="#aaa" stroke-width="0.4"/>
<line x1="64.45" y1="505.30" x2="64.45" y2="506.10" stroke="#aaa" stroke-width="0.4"/>
<line x1="68.50" y1="505.30" x2="68.50" y2="506.10" stroke="#aaa" stroke-width="0.4"/>
<line x1="72.55" y1="505.30" x2="72.55" y2="506.10" stroke="#aaa" stroke-width="0.4"/>
<line x1="76.60" y1="505.30" x2="76.60" y2="506.10" stroke="#aaa" stroke-width="0.4"/>
<line x1="80.65" y1="505.30" x2="80.65" y2="506.10" stroke="#aaa" stroke-width="0.4"/>
<line x1="84.70" y1="505.30" x2="84.70" y2="506.10" stroke="#aaa" stroke-width="0.4"/>
<line x1="26.40" y1="511.70" x2="26.40" y2="524.50" stroke="#666" stroke-width="0.55"/>
<line x1="26.40" y1="511.70" x2="27.30" y2="511.70" stroke="#666" stroke-width="0.5"/>
<line x1="26.40" y1="524.50" x2="27.30" y2="524.50" stroke="#666" stroke-width="0.5"/>
<line x1="23.60" y1="515.80" x2="23.60" y2="518.00" stroke="#888" stroke-width="0.5"/>
<text transform="translate(25.975,524.100) scale(0.0561,0.0044)" font-size="100" font-weight="bold" fill="#D3202E" stroke="#D3202E" stroke-width="7">A</text>
<text transform="translate(25.726,523.760) scale(0.0623,0.0337)" font-size="100" font-weight="bold" fill="#1F2A90" stroke="#1F2A90" stroke-width="7">C</text>
<text transform="translate(29.868,524.100) scale(0.0713,0.0058)" font-size="100" font-weight="bold" fill="#1E9640" stroke="#1E9640" stroke-width="7">T</text>
<text transform="translate(30.025,523.700) scale(0.0561,0.0058)" font-size="100" font-weight="bold" fill="#D3202E" stroke="#D3202E" stroke-width="7">A</text>
<text transform="translate(34.075,524.100) scale(0.0561,0.0044)" font-size="100" font-weight="bold" fill="#D3202E" stroke="#D3202E" stroke-width="7">A</text>
<text transform="translate(33.826,523.775) scale(0.0623,0.0211)" font-size="100" font-weight="bold" fill="#1F2A90" stroke="#1F2A90" stroke-width="7">C</text>
<text transform="translate(38.125,524.100) scale(0.0561,0.0044)" font-size="100" font-weight="bold" fill="#D3202E" stroke="#D3202E" stroke-width="7">A</text>
<text transform="translate(37.894,523.793) scale(0.0579,0.0056)" font-size="100" font-weight="bold" fill="#F8A51C" stroke="#F8A51C" stroke-width="7">G</text>
<text transform="translate(37.876,523.380) scale(0.0623,0.0169)" font-size="100" font-weight="bold" fill="#1F2A90" stroke="#1F2A90" stroke-width="7">C</text>
<text transform="translate(42.175,524.100) scale(0.0561,0.0058)" font-size="100" font-weight="bold" fill="#D3202E" stroke="#D3202E" stroke-width="7">A</text>
<text transform="translate(41.926,523.683) scale(0.0623,0.0140)" font-size="100" font-weight="bold" fill="#1F2A90" stroke="#1F2A90" stroke-width="7">C</text>
<text transform="translate(41.944,522.666) scale(0.0579,0.0281)" font-size="100" font-weight="bold" fill="#F8A51C" stroke="#F8A51C" stroke-width="7">G</text>
<text transform="translate(46.225,524.100) scale(0.0561,0.1599)" font-size="100" font-weight="bold" fill="#D3202E" stroke="#D3202E" stroke-width="7">A</text>
<text transform="translate(50.118,524.100) scale(0.0713,0.1337)" font-size="100" font-weight="bold" fill="#1E9640" stroke="#1E9640" stroke-width="7">T</text>
<text transform="translate(54.168,524.100) scale(0.0713,0.1657)" font-size="100" font-weight="bold" fill="#1E9640" stroke="#1E9640" stroke-width="7">T</text>
<text transform="translate(58.144,523.908) scale(0.0579,0.1601)" font-size="100" font-weight="bold" fill="#F8A51C" stroke="#F8A51C" stroke-width="7">G</text>
<text transform="translate(62.194,523.938) scale(0.0579,0.1348)" font-size="100" font-weight="bold" fill="#F8A51C" stroke="#F8A51C" stroke-width="7">G</text>
<text transform="translate(66.475,524.100) scale(0.0561,0.0073)" font-size="100" font-weight="bold" fill="#D3202E" stroke="#D3202E" stroke-width="7">A</text>
<text transform="translate(66.244,523.592) scale(0.0579,0.0070)" font-size="100" font-weight="bold" fill="#F8A51C" stroke="#F8A51C" stroke-width="7">G</text>
<text transform="translate(66.226,523.053) scale(0.0623,0.0393)" font-size="100" font-weight="bold" fill="#1F2A90" stroke="#1F2A90" stroke-width="7">C</text>
<text transform="translate(70.368,524.100) scale(0.0713,0.0073)" font-size="100" font-weight="bold" fill="#1E9640" stroke="#1E9640" stroke-width="7">T</text>
<text transform="translate(70.276,523.583) scale(0.0623,0.0140)" font-size="100" font-weight="bold" fill="#1F2A90" stroke="#1F2A90" stroke-width="7">C</text>
<text transform="translate(74.575,524.100) scale(0.0561,0.0044)" font-size="100" font-weight="bold" fill="#D3202E" stroke="#D3202E" stroke-width="7">A</text>
<text transform="translate(74.326,523.787) scale(0.0623,0.0112)" font-size="100" font-weight="bold" fill="#1F2A90" stroke="#1F2A90" stroke-width="7">C</text>
<text transform="translate(78.376,524.092) scale(0.0623,0.0070)" font-size="100" font-weight="bold" fill="#1F2A90" stroke="#1F2A90" stroke-width="7">C</text>
<text transform="translate(78.394,523.573) scale(0.0579,0.0225)" font-size="100" font-weight="bold" fill="#F8A51C" stroke="#F8A51C" stroke-width="7">G</text>
<line x1="28.00" y1="524.80" x2="28.00" y2="525.60" stroke="#aaa" stroke-width="0.4"/>
<line x1="32.05" y1="524.80" x2="32.05" y2="525.60" stroke="#aaa" stroke-width="0.4"/>
<line x1="36.10" y1="524.80" x2="36.10" y2="525.60" stroke="#aaa" stroke-width="0.4"/>
<line x1="40.15" y1="524.80" x2="40.15" y2="525.60" stroke="#aaa" stroke-width="0.4"/>
<line x1="44.20" y1="524.80" x2="44.20" y2="525.60" stroke="#aaa" stroke-width="0.4"/>
<line x1="48.25" y1="524.80" x2="48.25" y2="525.60" stroke="#aaa" stroke-width="0.4"/>
<line x1="52.30" y1="524.80" x2="52.30" y2="525.60" stroke="#aaa" stroke-width="0.4"/>
<line x1="56.35" y1="524.80" x2="56.35" y2="525.60" stroke="#aaa" stroke-width="0.4"/>
<line x1="60.40" y1="524.80" x2="60.40" y2="525.60" stroke="#aaa" stroke-width="0.4"/>
<line x1="64.45" y1="524.80" x2="64.45" y2="525.60" stroke="#aaa" stroke-width="0.4"/>
<line x1="68.50" y1="524.80" x2="68.50" y2="525.60" stroke="#aaa" stroke-width="0.4"/>
<line x1="72.55" y1="524.80" x2="72.55" y2="525.60" stroke="#aaa" stroke-width="0.4"/>
<line x1="76.60" y1="524.80" x2="76.60" y2="525.60" stroke="#aaa" stroke-width="0.4"/>
<line x1="80.65" y1="524.80" x2="80.65" y2="525.60" stroke="#aaa" stroke-width="0.4"/>
<line x1="26.40" y1="530.70" x2="26.40" y2="543.50" stroke="#666" stroke-width="0.55"/>
<line x1="26.40" y1="530.70" x2="27.30" y2="530.70" stroke="#666" stroke-width="0.5"/>
<line x1="26.40" y1="543.50" x2="27.30" y2="543.50" stroke="#666" stroke-width="0.5"/>
<line x1="23.60" y1="534.80" x2="23.60" y2="537.00" stroke="#888" stroke-width="0.5"/>
<text transform="translate(27.525,543.100) scale(0.0547,0.0044)" font-size="100" font-weight="bold" fill="#D3202E" stroke="#D3202E" stroke-width="7">A</text>
<text transform="translate(27.282,542.795) scale(0.0608,0.0042)" font-size="100" font-weight="bold" fill="#1F2A90" stroke="#1F2A90" stroke-width="7">C</text>
<text transform="translate(27.299,542.449) scale(0.0564,0.0421)" font-size="100" font-weight="bold" fill="#F8A51C" stroke="#F8A51C" stroke-width="7">G</text>
<text transform="translate(31.475,543.100) scale(0.0547,0.0058)" font-size="100" font-weight="bold" fill="#D3202E" stroke="#D3202E" stroke-width="7">A</text>
<text transform="translate(31.475,542.700) scale(0.0547,0.0145)" font-size="100" font-weight="bold" fill="#D3202E" stroke="#D3202E" stroke-width="7">A</text>
<text transform="translate(31.249,541.666) scale(0.0564,0.0281)" font-size="100" font-weight="bold" fill="#F8A51C" stroke="#F8A51C" stroke-width="7">G</text>
<text transform="translate(35.425,543.100) scale(0.0547,0.1395)" font-size="100" font-weight="bold" fill="#D3202E" stroke="#D3202E" stroke-width="7">A</text>
<text transform="translate(39.132,542.930) scale(0.0608,0.1419)" font-size="100" font-weight="bold" fill="#1F2A90" stroke="#1F2A90" stroke-width="7">C</text>
<text transform="translate(43.172,543.100) scale(0.0695,0.1017)" font-size="100" font-weight="bold" fill="#1E9640" stroke="#1E9640" stroke-width="7">T</text>
<text transform="translate(47.275,543.100) scale(0.0547,0.0959)" font-size="100" font-weight="bold" fill="#D3202E" stroke="#D3202E" stroke-width="7">A</text>
<text transform="translate(50.982,542.938) scale(0.0608,0.1348)" font-size="100" font-weight="bold" fill="#1F2A90" stroke="#1F2A90" stroke-width="7">C</text>
<text transform="translate(54.949,543.090) scale(0.0564,0.0084)" font-size="100" font-weight="bold" fill="#F8A51C" stroke="#F8A51C" stroke-width="7">G</text>
<text transform="translate(55.175,542.500) scale(0.0547,0.0174)" font-size="100" font-weight="bold" fill="#D3202E" stroke="#D3202E" stroke-width="7">A</text>
<text transform="translate(54.949,541.280) scale(0.0564,0.0169)" font-size="100" font-weight="bold" fill="#F8A51C" stroke="#F8A51C" stroke-width="7">G</text>
<text transform="translate(58.899,543.090) scale(0.0564,0.0084)" font-size="100" font-weight="bold" fill="#F8A51C" stroke="#F8A51C" stroke-width="7">G</text>
<text transform="translate(59.125,542.500) scale(0.0547,0.0145)" font-size="100" font-weight="bold" fill="#D3202E" stroke="#D3202E" stroke-width="7">A</text>
<text transform="translate(58.899,541.478) scale(0.0564,0.0183)" font-size="100" font-weight="bold" fill="#F8A51C" stroke="#F8A51C" stroke-width="7">G</text>
<text transform="translate(63.075,543.100) scale(0.0547,0.0087)" font-size="100" font-weight="bold" fill="#D3202E" stroke="#D3202E" stroke-width="7">A</text>
<text transform="translate(66.872,543.100) scale(0.0695,0.1163)" font-size="100" font-weight="bold" fill="#1E9640" stroke="#1E9640" stroke-width="7">T</text>
<text transform="translate(70.732,542.911) scale(0.0608,0.1573)" font-size="100" font-weight="bold" fill="#1F2A90" stroke="#1F2A90" stroke-width="7">C</text>
<text transform="translate(74.682,542.911) scale(0.0608,0.1573)" font-size="100" font-weight="bold" fill="#1F2A90" stroke="#1F2A90" stroke-width="7">C</text>
<text transform="translate(78.632,542.931) scale(0.0608,0.1404)" font-size="100" font-weight="bold" fill="#1F2A90" stroke="#1F2A90" stroke-width="7">C</text>
<text transform="translate(82.825,543.100) scale(0.0547,0.0349)" font-size="100" font-weight="bold" fill="#D3202E" stroke="#D3202E" stroke-width="7">A</text>
<text transform="translate(82.599,540.656) scale(0.0564,0.0365)" font-size="100" font-weight="bold" fill="#F8A51C" stroke="#F8A51C" stroke-width="7">G</text>
<text transform="translate(86.775,543.100) scale(0.0547,0.0058)" font-size="100" font-weight="bold" fill="#D3202E" stroke="#D3202E" stroke-width="7">A</text>
<text transform="translate(86.549,542.680) scale(0.0564,0.0169)" font-size="100" font-weight="bold" fill="#F8A51C" stroke="#F8A51C" stroke-width="7">G</text>
<text transform="translate(90.725,543.100) scale(0.0547,0.0058)" font-size="100" font-weight="bold" fill="#D3202E" stroke="#D3202E" stroke-width="7">A</text>
<text transform="translate(94.675,543.100) scale(0.0547,0.0552)" font-size="100" font-weight="bold" fill="#D3202E" stroke="#D3202E" stroke-width="7">A</text>
<text transform="translate(98.625,543.100) scale(0.0547,0.0058)" font-size="100" font-weight="bold" fill="#D3202E" stroke="#D3202E" stroke-width="7">A</text>
<text transform="translate(98.399,542.633) scale(0.0564,0.0562)" font-size="100" font-weight="bold" fill="#F8A51C" stroke="#F8A51C" stroke-width="7">G</text>
<text transform="translate(102.575,543.100) scale(0.0547,0.0058)" font-size="100" font-weight="bold" fill="#D3202E" stroke="#D3202E" stroke-width="7">A</text>
<text transform="translate(102.332,542.687) scale(0.0608,0.0112)" font-size="100" font-weight="bold" fill="#1F2A90" stroke="#1F2A90" stroke-width="7">C</text>
<text transform="translate(102.349,541.870) scale(0.0564,0.0253)" font-size="100" font-weight="bold" fill="#F8A51C" stroke="#F8A51C" stroke-width="7">G</text>
<text transform="translate(106.282,542.940) scale(0.0608,0.1334)" font-size="100" font-weight="bold" fill="#1F2A90" stroke="#1F2A90" stroke-width="7">C</text>
<line x1="29.50" y1="543.80" x2="29.50" y2="544.60" stroke="#aaa" stroke-width="0.4"/>
<line x1="33.45" y1="543.80" x2="33.45" y2="544.60" stroke="#aaa" stroke-width="0.4"/>
<line x1="37.40" y1="543.80" x2="37.40" y2="544.60" stroke="#aaa" stroke-width="0.4"/>
<line x1="41.35" y1="543.80" x2="41.35" y2="544.60" stroke="#aaa" stroke-width="0.4"/>
<line x1="45.30" y1="543.80" x2="45.30" y2="544.60" stroke="#aaa" stroke-width="0.4"/>
<line x1="49.25" y1="543.80" x2="49.25" y2="544.60" stroke="#aaa" stroke-width="0.4"/>
<line x1="53.20" y1="543.80" x2="53.20" y2="544.60" stroke="#aaa" stroke-width="0.4"/>
<line x1="57.15" y1="543.80" x2="57.15" y2="544.60" stroke="#aaa" stroke-width="0.4"/>
<line x1="61.10" y1="543.80" x2="61.10" y2="544.60" stroke="#aaa" stroke-width="0.4"/>
<line x1="65.05" y1="543.80" x2="65.05" y2="544.60" stroke="#aaa" stroke-width="0.4"/>
<line x1="69.00" y1="543.80" x2="69.00" y2="544.60" stroke="#aaa" stroke-width="0.4"/>
<line x1="72.95" y1="543.80" x2="72.95" y2="544.60" stroke="#aaa" stroke-width="0.4"/>
<line x1="76.90" y1="543.80" x2="76.90" y2="544.60" stroke="#aaa" stroke-width="0.4"/>
<line x1="80.85" y1="543.80" x2="80.85" y2="544.60" stroke="#aaa" stroke-width="0.4"/>
<line x1="84.80" y1="543.80" x2="84.80" y2="544.60" stroke="#aaa" stroke-width="0.4"/>
<line x1="88.75" y1="543.80" x2="88.75" y2="544.60" stroke="#aaa" stroke-width="0.4"/>
<line x1="92.70" y1="543.80" x2="92.70" y2="544.60" stroke="#aaa" stroke-width="0.4"/>
<line x1="96.65" y1="543.80" x2="96.65" y2="544.60" stroke="#aaa" stroke-width="0.4"/>
<line x1="100.60" y1="543.80" x2="100.60" y2="544.60" stroke="#aaa" stroke-width="0.4"/>
<line x1="104.55" y1="543.80" x2="104.55" y2="544.60" stroke="#aaa" stroke-width="0.4"/>
<line x1="108.50" y1="543.80" x2="108.50" y2="544.60" stroke="#aaa" stroke-width="0.4"/>
<line x1="26.40" y1="550.10" x2="26.40" y2="562.90" stroke="#666" stroke-width="0.55"/>
<line x1="26.40" y1="550.10" x2="27.30" y2="550.10" stroke="#666" stroke-width="0.5"/>
<line x1="26.40" y1="562.90" x2="27.30" y2="562.90" stroke="#666" stroke-width="0.5"/>
<line x1="23.60" y1="554.20" x2="23.60" y2="556.40" stroke="#888" stroke-width="0.5"/>
<text transform="translate(25.975,562.500) scale(0.0561,0.0145)" font-size="100" font-weight="bold" fill="#D3202E" stroke="#D3202E" stroke-width="7">A</text>
<text transform="translate(29.776,562.493) scale(0.0623,0.0056)" font-size="100" font-weight="bold" fill="#1F2A90" stroke="#1F2A90" stroke-width="7">C</text>
<text transform="translate(30.025,562.100) scale(0.0561,0.0378)" font-size="100" font-weight="bold" fill="#D3202E" stroke="#D3202E" stroke-width="7">A</text>
<text transform="translate(34.075,562.500) scale(0.0561,0.0073)" font-size="100" font-weight="bold" fill="#D3202E" stroke="#D3202E" stroke-width="7">A</text>
<text transform="translate(33.844,561.956) scale(0.0579,0.0365)" font-size="100" font-weight="bold" fill="#F8A51C" stroke="#F8A51C" stroke-width="7">G</text>
<text transform="translate(38.125,562.500) scale(0.0561,0.0058)" font-size="100" font-weight="bold" fill="#D3202E" stroke="#D3202E" stroke-width="7">A</text>
<text transform="translate(42.175,562.500) scale(0.0561,0.0349)" font-size="100" font-weight="bold" fill="#D3202E" stroke="#D3202E" stroke-width="7">A</text>
<text transform="translate(46.225,562.500) scale(0.0561,0.0145)" font-size="100" font-weight="bold" fill="#D3202E" stroke="#D3202E" stroke-width="7">A</text>
<text transform="translate(45.994,561.463) scale(0.0579,0.0309)" font-size="100" font-weight="bold" fill="#F8A51C" stroke="#F8A51C" stroke-width="7">G</text>
<text transform="translate(50.275,562.500) scale(0.0561,0.0087)" font-size="100" font-weight="bold" fill="#D3202E" stroke="#D3202E" stroke-width="7">A</text>
<text transform="translate(50.044,561.839) scale(0.0579,0.0506)" font-size="100" font-weight="bold" fill="#F8A51C" stroke="#F8A51C" stroke-width="7">G</text>
<text transform="translate(54.325,562.500) scale(0.0561,0.1599)" font-size="100" font-weight="bold" fill="#D3202E" stroke="#D3202E" stroke-width="7">A</text>
<text transform="translate(58.375,562.500) scale(0.0561,0.0044)" font-size="100" font-weight="bold" fill="#D3202E" stroke="#D3202E" stroke-width="7">A</text>
<text transform="translate(58.144,562.069) scale(0.0579,0.1096)" font-size="100" font-weight="bold" fill="#F8A51C" stroke="#F8A51C" stroke-width="7">G</text>
<text transform="translate(62.425,562.500) scale(0.0561,0.0073)" font-size="100" font-weight="bold" fill="#D3202E" stroke="#D3202E" stroke-width="7">A</text>
<text transform="translate(62.194,561.956) scale(0.0579,0.0365)" font-size="100" font-weight="bold" fill="#F8A51C" stroke="#F8A51C" stroke-width="7">G</text>
<text transform="translate(66.475,562.500) scale(0.0561,0.0203)" font-size="100" font-weight="bold" fill="#D3202E" stroke="#D3202E" stroke-width="7">A</text>
<text transform="translate(70.525,562.500) scale(0.0561,0.0436)" font-size="100" font-weight="bold" fill="#D3202E" stroke="#D3202E" stroke-width="7">A</text>
<text transform="translate(74.575,562.500) scale(0.0561,0.0058)" font-size="100" font-weight="bold" fill="#D3202E" stroke="#D3202E" stroke-width="7">A</text>
<text transform="translate(74.344,561.969) scale(0.0579,0.1096)" font-size="100" font-weight="bold" fill="#F8A51C" stroke="#F8A51C" stroke-width="7">G</text>
<text transform="translate(78.625,562.500) scale(0.0561,0.0073)" font-size="100" font-weight="bold" fill="#D3202E" stroke="#D3202E" stroke-width="7">A</text>
<text transform="translate(82.675,562.500) scale(0.0561,0.0058)" font-size="100" font-weight="bold" fill="#D3202E" stroke="#D3202E" stroke-width="7">A</text>
<text transform="translate(82.444,562.070) scale(0.0579,0.0253)" font-size="100" font-weight="bold" fill="#F8A51C" stroke="#F8A51C" stroke-width="7">G</text>
<line x1="28.00" y1="563.20" x2="28.00" y2="564.00" stroke="#aaa" stroke-width="0.4"/>
<line x1="32.05" y1="563.20" x2="32.05" y2="564.00" stroke="#aaa" stroke-width="0.4"/>
<line x1="36.10" y1="563.20" x2="36.10" y2="564.00" stroke="#aaa" stroke-width="0.4"/>
<line x1="40.15" y1="563.20" x2="40.15" y2="564.00" stroke="#aaa" stroke-width="0.4"/>
<line x1="44.20" y1="563.20" x2="44.20" y2="564.00" stroke="#aaa" stroke-width="0.4"/>
<line x1="48.25" y1="563.20" x2="48.25" y2="564.00" stroke="#aaa" stroke-width="0.4"/>
<line x1="52.30" y1="563.20" x2="52.30" y2="564.00" stroke="#aaa" stroke-width="0.4"/>
<line x1="56.35" y1="563.20" x2="56.35" y2="564.00" stroke="#aaa" stroke-width="0.4"/>
<line x1="60.40" y1="563.20" x2="60.40" y2="564.00" stroke="#aaa" stroke-width="0.4"/>
<line x1="64.45" y1="563.20" x2="64.45" y2="564.00" stroke="#aaa" stroke-width="0.4"/>
<line x1="68.50" y1="563.20" x2="68.50" y2="564.00" stroke="#aaa" stroke-width="0.4"/>
<line x1="72.55" y1="563.20" x2="72.55" y2="564.00" stroke="#aaa" stroke-width="0.4"/>
<line x1="76.60" y1="563.20" x2="76.60" y2="564.00" stroke="#aaa" stroke-width="0.4"/>
<line x1="80.65" y1="563.20" x2="80.65" y2="564.00" stroke="#aaa" stroke-width="0.4"/>
<line x1="84.70" y1="563.20" x2="84.70" y2="564.00" stroke="#aaa" stroke-width="0.4"/>
<line x1="26.40" y1="568.80" x2="26.40" y2="581.60" stroke="#666" stroke-width="0.55"/>
<line x1="26.40" y1="568.80" x2="27.30" y2="568.80" stroke="#666" stroke-width="0.5"/>
<line x1="26.40" y1="581.60" x2="27.30" y2="581.60" stroke="#666" stroke-width="0.5"/>
<line x1="23.60" y1="572.90" x2="23.60" y2="575.10" stroke="#888" stroke-width="0.5"/>
<text transform="translate(26.345,581.200) scale(0.0704,0.0087)" font-size="100" font-weight="bold" fill="#1E9640" stroke="#1E9640" stroke-width="7">T</text>
<text transform="translate(26.254,580.583) scale(0.0615,0.0140)" font-size="100" font-weight="bold" fill="#1F2A90" stroke="#1F2A90" stroke-width="7">C</text>
<text transform="translate(30.500,581.200) scale(0.0554,0.0073)" font-size="100" font-weight="bold" fill="#D3202E" stroke="#D3202E" stroke-width="7">A</text>
<text transform="translate(30.271,580.602) scale(0.0571,0.0815)" font-size="100" font-weight="bold" fill="#F8A51C" stroke="#F8A51C" stroke-width="7">G</text>
<text transform="translate(34.500,581.200) scale(0.0554,0.0058)" font-size="100" font-weight="bold" fill="#D3202E" stroke="#D3202E" stroke-width="7">A</text>
<text transform="translate(34.254,580.712) scale(0.0615,0.0730)" font-size="100" font-weight="bold" fill="#1F2A90" stroke="#1F2A90" stroke-width="7">C</text>
<text transform="translate(38.500,581.200) scale(0.0554,0.0058)" font-size="100" font-weight="bold" fill="#D3202E" stroke="#D3202E" stroke-width="7">A</text>
<text transform="translate(38.271,580.628) scale(0.0571,0.1433)" font-size="100" font-weight="bold" fill="#F8A51C" stroke="#F8A51C" stroke-width="7">G</text>
<text transform="translate(42.500,581.200) scale(0.0554,0.0044)" font-size="100" font-weight="bold" fill="#D3202E" stroke="#D3202E" stroke-width="7">A</text>
<text transform="translate(42.254,580.745) scale(0.0615,0.1292)" font-size="100" font-weight="bold" fill="#1F2A90" stroke="#1F2A90" stroke-width="7">C</text>
<text transform="translate(46.500,581.200) scale(0.0554,0.0058)" font-size="100" font-weight="bold" fill="#D3202E" stroke="#D3202E" stroke-width="7">A</text>
<text transform="translate(46.254,580.787) scale(0.0615,0.0112)" font-size="100" font-weight="bold" fill="#1F2A90" stroke="#1F2A90" stroke-width="7">C</text>
<text transform="translate(46.500,580.000) scale(0.0554,0.0189)" font-size="100" font-weight="bold" fill="#D3202E" stroke="#D3202E" stroke-width="7">A</text>
<text transform="translate(50.345,581.200) scale(0.0704,0.0291)" font-size="100" font-weight="bold" fill="#1E9640" stroke="#1E9640" stroke-width="7">T</text>
<text transform="translate(54.271,581.018) scale(0.0571,0.1517)" font-size="100" font-weight="bold" fill="#F8A51C" stroke="#F8A51C" stroke-width="7">G</text>
<text transform="translate(58.254,581.001) scale(0.0615,0.1657)" font-size="100" font-weight="bold" fill="#1F2A90" stroke="#1F2A90" stroke-width="7">C</text>
<text transform="translate(62.271,581.035) scale(0.0571,0.1376)" font-size="100" font-weight="bold" fill="#F8A51C" stroke="#F8A51C" stroke-width="7">G</text>
<text transform="translate(66.254,581.025) scale(0.0615,0.1461)" font-size="100" font-weight="bold" fill="#1F2A90" stroke="#1F2A90" stroke-width="7">C</text>
<text transform="translate(70.500,581.200) scale(0.0554,0.0116)" font-size="100" font-weight="bold" fill="#D3202E" stroke="#D3202E" stroke-width="7">A</text>
<text transform="translate(70.271,580.380) scale(0.0571,0.0169)" font-size="100" font-weight="bold" fill="#F8A51C" stroke="#F8A51C" stroke-width="7">G</text>
<text transform="translate(74.500,581.200) scale(0.0554,0.0087)" font-size="100" font-weight="bold" fill="#D3202E" stroke="#D3202E" stroke-width="7">A</text>
<text transform="translate(74.271,580.585) scale(0.0571,0.0126)" font-size="100" font-weight="bold" fill="#F8A51C" stroke="#F8A51C" stroke-width="7">G</text>
<text transform="translate(78.345,581.200) scale(0.0704,0.0785)" font-size="100" font-weight="bold" fill="#1E9640" stroke="#1E9640" stroke-width="7">T</text>
<line x1="28.50" y1="581.90" x2="28.50" y2="582.70" stroke="#aaa" stroke-width="0.4"/>
<line x1="32.50" y1="581.90" x2="32.50" y2="582.70" stroke="#aaa" stroke-width="0.4"/>
<line x1="36.50" y1="581.90" x2="36.50" y2="582.70" stroke="#aaa" stroke-width="0.4"/>
<line x1="40.50" y1="581.90" x2="40.50" y2="582.70" stroke="#aaa" stroke-width="0.4"/>
<line x1="44.50" y1="581.90" x2="44.50" y2="582.70" stroke="#aaa" stroke-width="0.4"/>
<line x1="48.50" y1="581.90" x2="48.50" y2="582.70" stroke="#aaa" stroke-width="0.4"/>
<line x1="52.50" y1="581.90" x2="52.50" y2="582.70" stroke="#aaa" stroke-width="0.4"/>
<line x1="56.50" y1="581.90" x2="56.50" y2="582.70" stroke="#aaa" stroke-width="0.4"/>
<line x1="60.50" y1="581.90" x2="60.50" y2="582.70" stroke="#aaa" stroke-width="0.4"/>
<line x1="64.50" y1="581.90" x2="64.50" y2="582.70" stroke="#aaa" stroke-width="0.4"/>
<line x1="68.50" y1="581.90" x2="68.50" y2="582.70" stroke="#aaa" stroke-width="0.4"/>
<line x1="72.50" y1="581.90" x2="72.50" y2="582.70" stroke="#aaa" stroke-width="0.4"/>
<line x1="76.50" y1="581.90" x2="76.50" y2="582.70" stroke="#aaa" stroke-width="0.4"/>
<line x1="80.50" y1="581.90" x2="80.50" y2="582.70" stroke="#aaa" stroke-width="0.4"/>
<line x1="26.40" y1="587.90" x2="26.40" y2="600.70" stroke="#666" stroke-width="0.55"/>
<line x1="26.40" y1="587.90" x2="27.30" y2="587.90" stroke="#666" stroke-width="0.5"/>
<line x1="26.40" y1="600.70" x2="27.30" y2="600.70" stroke="#666" stroke-width="0.5"/>
<line x1="23.60" y1="592.00" x2="23.60" y2="594.20" stroke="#888" stroke-width="0.5"/>
<text transform="translate(26.845,600.300) scale(0.0704,0.0233)" font-size="100" font-weight="bold" fill="#1E9640" stroke="#1E9640" stroke-width="7">T</text>
<text transform="translate(26.754,598.676) scale(0.0615,0.0197)" font-size="100" font-weight="bold" fill="#1F2A90" stroke="#1F2A90" stroke-width="7">C</text>
<text transform="translate(30.754,600.276) scale(0.0615,0.0197)" font-size="100" font-weight="bold" fill="#1F2A90" stroke="#1F2A90" stroke-width="7">C</text>
<text transform="translate(34.845,600.300) scale(0.0704,0.0058)" font-size="100" font-weight="bold" fill="#1E9640" stroke="#1E9640" stroke-width="7">T</text>
<text transform="translate(34.754,599.890) scale(0.0615,0.0084)" font-size="100" font-weight="bold" fill="#1F2A90" stroke="#1F2A90" stroke-width="7">C</text>
<text transform="translate(38.754,600.292) scale(0.0615,0.0070)" font-size="100" font-weight="bold" fill="#1F2A90" stroke="#1F2A90" stroke-width="7">C</text>
<text transform="translate(43.000,600.300) scale(0.0554,0.0058)" font-size="100" font-weight="bold" fill="#D3202E" stroke="#D3202E" stroke-width="7">A</text>
<text transform="translate(42.771,599.880) scale(0.0571,0.0169)" font-size="100" font-weight="bold" fill="#F8A51C" stroke="#F8A51C" stroke-width="7">G</text>
<text transform="translate(46.845,600.300) scale(0.0704,0.0494)" font-size="100" font-weight="bold" fill="#1E9640" stroke="#1E9640" stroke-width="7">T</text>
<text transform="translate(50.754,600.273) scale(0.0615,0.0225)" font-size="100" font-weight="bold" fill="#1F2A90" stroke="#1F2A90" stroke-width="7">C</text>
<text transform="translate(50.771,598.660) scale(0.0571,0.0337)" font-size="100" font-weight="bold" fill="#F8A51C" stroke="#F8A51C" stroke-width="7">G</text>
<text transform="translate(55.000,600.300) scale(0.0554,0.1715)" font-size="100" font-weight="bold" fill="#D3202E" stroke="#D3202E" stroke-width="7">A</text>
<text transform="translate(58.754,600.118) scale(0.0615,0.1517)" font-size="100" font-weight="bold" fill="#1F2A90" stroke="#1F2A90" stroke-width="7">C</text>
<text transform="translate(63.000,600.300) scale(0.0554,0.0058)" font-size="100" font-weight="bold" fill="#D3202E" stroke="#D3202E" stroke-width="7">A</text>
<text transform="translate(62.771,599.799) scale(0.0571,0.0843)" font-size="100" font-weight="bold" fill="#F8A51C" stroke="#F8A51C" stroke-width="7">G</text>
<text transform="translate(66.845,600.300) scale(0.0704,0.1715)" font-size="100" font-weight="bold" fill="#1E9640" stroke="#1E9640" stroke-width="7">T</text>
<text transform="translate(70.754,600.258) scale(0.0615,0.0351)" font-size="100" font-weight="bold" fill="#1F2A90" stroke="#1F2A90" stroke-width="7">C</text>
<text transform="translate(70.771,597.760) scale(0.0571,0.0337)" font-size="100" font-weight="bold" fill="#F8A51C" stroke="#F8A51C" stroke-width="7">G</text>
<text transform="translate(75.000,600.300) scale(0.0554,0.1715)" font-size="100" font-weight="bold" fill="#D3202E" stroke="#D3202E" stroke-width="7">A</text>
<text transform="translate(78.771,600.293) scale(0.0571,0.0056)" font-size="100" font-weight="bold" fill="#F8A51C" stroke="#F8A51C" stroke-width="7">G</text>
<text transform="translate(78.754,599.822) scale(0.0615,0.0646)" font-size="100" font-weight="bold" fill="#1F2A90" stroke="#1F2A90" stroke-width="7">C</text>
<line x1="29.00" y1="601.00" x2="29.00" y2="601.80" stroke="#aaa" stroke-width="0.4"/>
<line x1="33.00" y1="601.00" x2="33.00" y2="601.80" stroke="#aaa" stroke-width="0.4"/>
<line x1="37.00" y1="601.00" x2="37.00" y2="601.80" stroke="#aaa" stroke-width="0.4"/>
<line x1="41.00" y1="601.00" x2="41.00" y2="601.80" stroke="#aaa" stroke-width="0.4"/>
<line x1="45.00" y1="601.00" x2="45.00" y2="601.80" stroke="#aaa" stroke-width="0.4"/>
<line x1="49.00" y1="601.00" x2="49.00" y2="601.80" stroke="#aaa" stroke-width="0.4"/>
<line x1="53.00" y1="601.00" x2="53.00" y2="601.80" stroke="#aaa" stroke-width="0.4"/>
<line x1="57.00" y1="601.00" x2="57.00" y2="601.80" stroke="#aaa" stroke-width="0.4"/>
<line x1="61.00" y1="601.00" x2="61.00" y2="601.80" stroke="#aaa" stroke-width="0.4"/>
<line x1="65.00" y1="601.00" x2="65.00" y2="601.80" stroke="#aaa" stroke-width="0.4"/>
<line x1="69.00" y1="601.00" x2="69.00" y2="601.80" stroke="#aaa" stroke-width="0.4"/>
<line x1="73.00" y1="601.00" x2="73.00" y2="601.80" stroke="#aaa" stroke-width="0.4"/>
<line x1="77.00" y1="601.00" x2="77.00" y2="601.80" stroke="#aaa" stroke-width="0.4"/>
<line x1="81.00" y1="601.00" x2="81.00" y2="601.80" stroke="#aaa" stroke-width="0.4"/>
<text x="300.80" y="480.40" font-size="10.0" fill="#000" font-weight="bold" stroke="#000" stroke-width="0.07">E</text>
<line x1="416.40" y1="492.40" x2="416.40" y2="592.00" stroke="#9a9a9a" stroke-width="0.7"/>
<path d="M335.00,557.50 L336.00,557.87 L337.00,558.93 L338.00,558.40 L339.00,558.43 L340.00,558.73 L341.00,557.39 L342.00,557.31 L343.00,557.22 L344.00,557.22 L345.00,555.36 L346.23,554.98 L347.47,554.14 L348.70,555.19 L349.77,555.95 L350.85,555.13 L351.93,557.25 L353.00,558.29 L354.00,558.01 L355.00,557.96 L356.00,557.08 L357.00,556.59 L358.00,557.69 L359.00,557.18 L360.00,557.43 L361.00,557.61 L362.00,557.24 L363.00,558.09 L364.00,558.37 L365.00,559.39 L366.00,559.07 L367.00,559.25 L368.00,559.04 L369.00,559.36 L370.00,559.05 L371.00,558.56 L372.00,560.00 L373.00,560.52 L374.00,560.38 L375.00,560.06 L376.00,559.11 L377.00,558.61 L378.00,558.58 L379.00,558.12 L380.00,559.50 L381.00,559.21 L382.00,560.11 L383.00,559.30 L384.00,560.21 L385.00,560.22 L386.00,558.29 L387.00,558.01 L388.00,559.39 L389.00,558.84 L390.00,559.71 L391.00,558.66 L392.00,557.67 L393.00,558.59 L394.00,559.27 L395.00,558.43 L396.00,557.77 L397.00,558.11 L398.00,559.66 L399.00,559.78 L400.00,558.45 L401.00,558.27 L402.00,557.90 L403.00,557.69 L404.00,559.25 L405.00,558.45 L406.00,559.02 L407.00,558.99 L408.00,558.43 L409.00,559.43 L410.00,558.48 L411.00,559.26 L412.00,558.38 L413.00,558.74 L414.00,558.41 L415.00,558.42 L416.00,559.96 L417.00,560.13 L418.00,559.10 L419.00,560.01 L420.00,558.85 L421.00,558.80 L422.00,559.77 L423.00,559.62 L424.00,558.35 L425.00,559.84 L426.00,558.62 L427.00,558.27 L428.00,559.25 L429.00,558.59 L430.00,558.27 L431.00,557.42 L432.00,556.99 L433.00,557.76 L434.00,557.11 L435.00,557.51 L436.00,556.97 L437.00,556.80 L438.00,558.04 L439.00,557.49 L440.00,557.57 L441.00,558.30 L442.00,557.12 L443.08,556.26 L444.17,557.39 L445.25,557.35 L446.33,555.87 L447.42,554.99 L448.50,555.66 L449.56,556.58 L450.61,555.35 L451.67,556.65 L452.72,557.04 L453.78,556.64 L454.83,556.18 L455.89,555.40 L456.94,555.06 L458.00,557.06 L459.08,556.10 L460.16,556.77 L461.23,556.01 L462.31,556.97 L463.39,556.80 L464.47,556.06 L465.54,555.52 L466.62,556.52 L467.70,555.42 L468.74,555.29 L469.77,555.91 L470.81,556.71 L471.85,556.40 L472.89,555.49 L473.93,556.51 L474.96,555.23 L476.00,554.31 L477.00,554.46 L478.00,554.83 L479.00,554.04 L480.00,553.95 L481.00,554.27 L482.00,554.76 L483.00,553.88 L484.00,554.01 L485.00,555.15 L486.07,555.56 L487.13,554.85 L488.20,554.53 L489.27,554.04 L490.33,552.75 L491.40,551.92 L492.47,551.45 L493.53,553.10 L494.60,553.07 L495.90,554.69 L497.20,553.81 L498.50,555.48" fill="none" stroke="#F5B41A" stroke-width="1.7" stroke-linejoin="round"/>
<path d="M335.00,574.37 L336.00,575.34 L337.00,575.28 L338.00,576.83 L339.10,575.85 L340.20,576.57 L341.30,577.37 L342.40,578.16 L343.49,577.77 L344.57,577.41 L345.66,577.27 L346.74,577.28 L347.83,576.10 L348.91,576.12 L350.00,576.35 L351.08,576.20 L352.16,575.16 L353.23,575.29 L354.31,575.29 L355.39,574.60 L356.47,574.28 L357.54,573.55 L358.62,573.49 L359.70,573.34 L360.73,571.97 L361.76,572.20 L362.79,572.61 L363.82,572.26 L364.85,571.56 L365.88,570.41 L366.91,570.33 L367.94,569.72 L368.97,568.96 L370.00,569.11 L371.00,567.60 L372.00,568.04 L373.00,566.67 L374.00,566.98 L375.00,566.64 L376.00,565.83 L377.00,566.16 L378.00,565.68 L379.00,565.49 L380.00,565.74 L381.00,564.02 L382.00,562.51 L383.00,562.03 L384.00,562.06 L385.00,560.74 L386.00,559.75 L387.00,560.25 L388.00,559.51 L389.00,558.38 L390.00,558.32 L391.00,555.22 L392.00,553.24 L393.00,550.19 L394.00,548.04 L395.00,546.45 L396.16,544.30 L397.32,541.80 L398.48,538.34 L399.64,535.80 L400.80,532.74 L402.07,529.92 L403.33,528.07 L404.60,526.51 L405.63,525.57 L406.67,524.20 L407.70,523.34 L408.73,521.00 L409.77,519.16 L410.80,518.20 L411.90,516.04 L413.00,513.91 L414.20,511.90 L415.40,510.09 L416.43,508.75 L417.47,507.14 L418.50,506.70 L419.77,509.27 L421.03,510.55 L422.30,511.63 L423.33,513.79 L424.37,517.73 L425.40,519.28 L426.67,522.96 L427.93,525.84 L429.20,528.22 L430.23,530.96 L431.27,531.85 L432.30,533.69 L433.48,536.13 L434.65,537.46 L435.82,540.62 L437.00,541.91 L438.12,543.64 L439.25,545.46 L440.38,548.53 L441.50,550.65 L442.53,553.05 L443.57,555.28 L444.60,557.67 L445.67,558.63 L446.73,558.84 L447.80,558.41 L448.87,559.12 L449.93,559.20 L451.00,559.30 L452.07,560.53 L453.13,561.77 L454.20,561.60 L455.27,561.95 L456.33,562.48 L457.40,563.59 L458.47,563.94 L459.53,564.51 L460.60,565.25 L461.67,565.13 L462.73,566.09 L463.80,566.92 L464.88,566.21 L465.96,567.90 L467.03,568.52 L468.11,568.08 L469.19,568.93 L470.27,569.94 L471.34,571.22 L472.42,571.12 L473.50,571.84 L474.64,573.01 L475.78,573.65 L476.92,574.52 L478.06,574.33 L479.20,574.98 L480.25,574.29 L481.31,575.04 L482.36,575.54 L483.42,575.45 L484.47,575.62 L485.53,574.83 L486.58,575.84 L487.64,576.41 L488.69,576.65 L489.75,576.01 L490.80,576.30 L491.90,575.65 L493.00,576.57 L494.10,576.87 L495.20,576.15 L496.30,575.51 L497.40,576.01 L498.50,576.46" fill="none" stroke="#5E3512" stroke-width="1.7" stroke-linejoin="round"/>
<path d="M335.00,570.30 L336.00,569.79 L337.00,568.27 L338.00,570.11 L339.00,568.55 L340.00,570.25 L341.00,568.99 L342.00,569.07 L343.00,570.49 L344.00,569.08 L345.00,568.64 L346.00,569.86 L347.00,571.09 L348.00,572.06 L349.00,572.13 L350.00,573.11 L351.00,572.28 L352.00,573.55 L353.00,571.50 L354.00,571.32 L355.00,572.30 L356.00,572.07 L357.00,573.43 L358.00,573.77 L359.00,573.67 L360.00,574.72 L361.00,574.37 L362.00,573.64 L363.00,572.85 L364.00,573.53 L365.00,573.50 L366.00,570.98 L367.00,571.60 L368.00,571.73 L369.03,570.21 L370.06,569.51 L371.09,567.85 L372.11,567.96 L373.14,567.60 L374.17,567.47 L375.20,565.39 L376.33,567.03 L377.47,565.85 L378.60,564.68 L379.73,565.08 L380.87,564.10 L382.00,563.14 L383.14,561.18 L384.28,557.04 L385.42,555.42 L386.56,552.89 L387.70,552.05 L388.73,550.44 L389.77,546.57 L390.80,544.49 L391.95,542.67 L393.10,542.45 L394.25,543.01 L395.40,542.96 L396.49,540.95 L397.57,539.13 L398.66,537.48 L399.74,537.54 L400.83,537.84 L401.91,534.92 L403.00,535.20 L404.18,532.80 L405.35,532.11 L406.52,531.59 L407.70,532.41 L408.80,531.37 L409.90,530.83 L411.00,531.15 L412.00,528.53 L413.00,528.63 L414.00,525.97 L415.10,526.17 L416.20,525.14 L417.60,525.29 L419.00,526.67 L420.10,528.96 L421.20,531.05 L422.30,533.37 L423.60,534.27 L424.90,533.82 L426.20,534.15 L427.20,533.82 L428.20,532.73 L429.20,531.03 L430.47,534.50 L431.73,536.67 L433.00,539.83 L434.00,537.00 L435.00,536.77 L436.00,536.14 L437.25,536.01 L438.50,533.81 L439.50,534.32 L440.50,537.01 L441.50,536.53 L442.53,542.93 L443.57,547.83 L444.60,550.27 L445.70,551.36 L446.80,554.20 L447.90,554.78 L449.00,555.49 L450.10,558.94 L451.20,559.91 L452.30,562.35 L453.48,562.23 L454.65,564.02 L455.82,566.50 L457.00,566.38 L458.10,566.73 L459.20,568.55 L460.30,570.12 L461.40,571.10 L462.50,569.13 L463.60,569.86 L464.70,571.13 L465.80,571.06 L466.87,571.66 L467.93,570.52 L469.00,569.90 L470.07,569.93 L471.13,569.87 L472.20,571.53 L473.27,572.13 L474.33,572.64 L475.40,571.69 L476.49,570.57 L477.57,569.70 L478.66,570.76 L479.74,571.05 L480.83,570.42 L481.91,567.17 L483.00,565.39 L484.16,568.51 L485.32,568.64 L486.48,570.10 L487.64,569.80 L488.80,570.62 L489.90,571.06 L491.00,571.13 L492.10,571.84 L493.20,570.51 L494.30,572.28 L495.40,573.50 L496.50,572.12" fill="none" stroke="#3DB542" stroke-width="1.7" stroke-linejoin="round"/>
<path d="M335.00,564.79 L336.00,565.62 L337.00,565.22 L338.00,564.69 L339.00,564.56 L340.00,565.46 L341.00,564.70 L342.00,566.65 L343.00,567.24 L344.00,567.33 L345.00,567.85 L346.00,567.35 L347.00,566.60 L348.00,566.77 L349.00,566.56 L350.00,567.59 L351.00,567.49 L352.00,566.10 L353.00,567.14 L354.00,567.07 L355.00,567.09 L356.00,567.14 L357.00,566.14 L358.00,566.93 L359.00,567.12 L360.00,566.71 L361.00,566.62 L362.00,566.49 L363.00,565.49 L364.00,565.81 L365.00,564.27 L366.00,564.29 L367.00,564.51 L368.00,563.40 L369.00,563.74 L370.00,564.45 L371.00,564.58 L372.00,563.59 L373.00,564.86 L374.00,564.55 L375.00,563.56 L376.00,563.89 L377.00,563.70 L378.00,563.46 L379.00,562.94 L380.00,564.13 L381.00,562.74 L382.00,561.74 L383.00,560.89 L384.00,560.46 L385.00,557.37 L386.00,557.06 L387.00,556.59 L388.00,554.62 L389.00,553.13 L390.00,550.79 L391.00,549.35 L392.00,548.30 L393.00,546.29 L394.00,544.98 L395.00,545.62 L396.00,544.34 L397.00,543.14 L398.00,543.17 L399.00,541.57 L400.00,541.39 L401.00,540.22 L402.00,539.83 L403.00,537.54 L404.00,537.60 L405.00,537.62 L406.16,535.33 L407.32,536.13 L408.48,534.04 L409.64,533.54 L410.80,532.11 L411.90,533.46 L413.00,534.73 L414.10,534.35 L415.20,536.86 L416.30,536.99 L417.40,537.80 L418.50,538.76 L419.60,538.06 L420.70,537.48 L421.80,538.02 L422.90,537.85 L424.00,536.98 L425.10,537.58 L426.20,536.64 L427.22,536.07 L428.23,536.67 L429.25,536.63 L430.27,537.13 L431.28,538.98 L432.30,538.99 L433.32,541.19 L434.34,542.33 L435.37,541.77 L436.39,544.55 L437.41,546.14 L438.43,545.33 L439.46,547.76 L440.48,548.19 L441.50,549.18 L442.53,551.63 L443.57,551.58 L444.60,553.08 L445.63,555.44 L446.67,556.60 L447.70,557.24 L448.74,558.66 L449.79,559.05 L450.83,558.95 L451.87,558.02 L452.91,559.20 L453.96,559.48 L455.00,559.26 L456.00,559.17 L457.00,560.60 L458.00,560.46 L459.00,561.50 L460.00,562.73 L461.00,562.97 L462.00,562.92 L463.00,563.81 L464.00,563.93 L465.00,565.04 L466.00,565.03 L467.00,566.36 L468.00,566.91 L469.00,566.79 L470.00,565.76 L471.00,564.89 L472.00,566.39 L473.00,566.59 L474.00,566.21 L475.00,565.38 L476.00,564.81 L477.00,565.54 L478.00,565.44 L479.00,565.40 L480.00,565.43 L481.00,565.66 L482.00,564.32 L483.00,563.93 L484.00,565.48 L485.00,565.81 L486.00,565.77 L487.00,563.67 L488.00,562.93 L489.00,563.10 L490.00,563.47 L491.00,564.40 L492.00,563.66 L493.00,564.64 L494.00,564.04 L495.00,564.05 L496.00,565.65 L497.00,566.10" fill="none" stroke="#5C2D86" stroke-width="1.7" stroke-linejoin="round"/>
<path d="M335.00,574.34 L336.00,573.43 L337.00,573.15 L338.00,572.12 L339.00,571.87 L340.00,572.60 L341.00,573.04 L342.00,571.09 L343.00,570.41 L344.00,571.85 L345.00,571.75 L346.00,571.98 L347.00,570.49 L348.00,570.41 L349.00,569.83 L350.00,570.94 L351.00,570.06 L352.00,570.37 L353.00,571.22 L354.00,569.67 L355.00,569.59 L356.00,569.95 L357.00,570.41 L358.00,569.16 L359.00,568.45 L360.00,567.37 L361.00,568.81 L362.00,567.07 L363.00,566.29 L364.00,567.10 L365.00,567.00 L366.00,567.31 L367.00,566.24 L368.00,566.93 L369.00,565.17 L370.00,564.74 L371.00,565.49 L372.00,564.01 L373.00,563.84 L374.00,564.64 L375.00,564.60 L376.00,563.29 L377.00,562.23 L378.00,562.18 L379.00,562.89 L380.00,561.97 L381.00,559.88 L382.00,559.89 L383.00,558.72 L384.00,558.41 L385.00,557.55 L386.35,555.02 L387.70,551.21 L388.85,549.78 L390.00,546.72 L391.15,544.41 L392.30,542.55 L393.33,543.24 L394.37,542.90 L395.40,540.62 L396.55,539.43 L397.70,538.40 L398.85,537.42 L400.00,536.54 L401.00,535.75 L402.00,534.45 L403.00,534.43 L404.18,535.71 L405.35,535.76 L406.52,536.80 L407.70,536.71 L408.72,535.79 L409.73,537.14 L410.75,538.09 L411.77,537.03 L412.78,536.15 L413.80,537.29 L414.83,538.05 L415.87,538.63 L416.90,540.12 L417.93,540.07 L418.97,540.70 L420.00,539.25 L421.03,539.47 L422.07,539.93 L423.10,538.01 L424.13,537.09 L425.17,538.22 L426.20,538.78 L427.22,537.25 L428.23,538.30 L429.25,537.56 L430.27,539.03 L431.28,539.45 L432.30,538.71 L433.33,539.20 L434.37,541.38 L435.40,542.09 L436.43,543.55 L437.47,543.69 L438.50,544.17 L439.62,547.22 L440.75,548.52 L441.88,549.52 L443.00,550.99 L444.18,552.19 L445.35,553.07 L446.52,554.40 L447.70,554.04 L448.73,555.25 L449.77,555.60 L450.80,556.55 L451.83,557.10 L452.87,557.70 L453.90,558.40 L454.93,559.16 L455.97,558.94 L457.00,558.90 L458.00,559.62 L459.00,560.40 L460.00,559.97 L461.00,560.10 L462.00,559.71 L463.00,561.41 L464.00,562.94 L465.00,562.16 L466.00,561.59 L467.00,561.75 L468.00,562.64 L469.00,562.86 L470.00,564.96 L471.00,563.58 L472.00,564.00 L473.00,563.90 L474.00,565.50 L475.00,566.65 L476.00,565.75 L477.00,565.39 L478.00,566.54 L479.00,567.53 L480.00,568.97 L481.00,567.16 L482.00,566.77 L483.00,566.89 L484.00,567.08 L485.00,567.25 L486.00,568.62 L487.00,568.84 L488.00,568.01 L489.00,567.68 L490.00,567.87 L491.00,568.04 L492.00,569.89 L493.00,569.64 L494.00,570.44 L495.00,571.69 L496.00,571.52 L497.00,571.16" fill="none" stroke="#1E5AA6" stroke-width="1.7" stroke-linejoin="round"/>
<path d="M335.00,563.67 L336.00,564.56 L337.00,562.87 L338.00,563.24 L339.00,565.10 L340.00,564.12 L341.00,562.96 L342.00,562.08 L343.00,565.36 L344.00,566.12 L345.00,564.99 L346.00,565.25 L347.00,565.45 L348.00,564.74 L349.00,567.36 L350.00,567.15 L351.00,565.73 L352.00,564.57 L353.00,566.13 L354.00,566.50 L355.00,568.46 L356.00,567.99 L357.00,566.95 L358.00,564.41 L359.00,563.06 L360.00,562.74 L361.00,562.83 L362.00,565.29 L363.00,564.93 L364.00,565.38 L365.00,567.00 L366.00,564.47 L367.00,564.42 L368.00,562.76 L369.00,564.35 L370.00,561.81 L371.00,564.03 L372.00,564.84 L373.00,564.96 L374.00,562.13 L375.00,561.79 L376.00,563.11 L377.00,561.04 L378.00,561.58 L379.00,561.54 L380.00,563.19 L381.00,562.18 L382.00,562.67 L383.00,559.59 L384.00,559.54 L385.00,557.30 L386.00,557.60 L387.25,550.01 L388.50,546.89 L389.65,548.35 L390.80,552.19 L391.80,550.26 L392.80,546.82 L393.80,546.81 L394.87,547.17 L395.93,548.33 L397.00,548.88 L398.00,546.29 L399.00,543.98 L400.00,542.10 L401.15,541.95 L402.30,543.65 L403.45,542.54 L404.60,543.75 L405.63,545.19 L406.67,548.29 L407.70,549.52 L408.73,545.36 L409.77,539.14 L410.80,536.03 L412.07,536.13 L413.33,533.50 L414.60,532.95 L415.63,535.92 L416.67,537.28 L417.70,543.50 L418.85,545.01 L420.00,544.03 L421.15,544.27 L422.30,542.74 L423.45,542.15 L424.60,542.20 L425.75,541.30 L426.90,541.00 L428.05,540.98 L429.20,541.88 L430.47,539.94 L431.73,538.55 L433.00,539.58 L434.10,540.05 L435.20,543.43 L436.30,544.05 L437.40,545.76 L438.50,545.75 L439.62,548.91 L440.75,548.36 L441.88,549.48 L443.00,550.84 L444.07,551.65 L445.13,551.23 L446.20,548.25 L447.47,545.70 L448.73,544.63 L450.00,541.51 L451.00,541.23 L452.00,542.77 L453.00,544.17 L454.20,546.33 L455.40,549.72 L456.43,548.27 L457.47,550.63 L458.50,549.24 L459.67,551.19 L460.83,553.65 L462.00,556.22 L463.00,558.05 L464.00,557.94 L465.00,558.61 L466.00,559.82 L467.00,559.49 L468.00,561.59 L469.00,564.22 L470.00,566.96 L471.00,567.17 L472.00,566.99 L473.00,566.98 L474.00,564.99 L475.00,565.72 L476.00,565.11 L477.00,565.56 L478.00,563.14 L479.00,562.82 L480.00,562.70 L481.00,564.19 L482.00,564.98 L483.00,564.58 L484.00,562.84 L485.00,564.68 L486.00,565.57 L487.00,564.40 L488.00,563.12 L489.00,563.10 L490.00,561.60 L491.00,563.75 L492.00,565.82 L493.00,565.03 L494.00,565.79 L495.00,566.80 L496.00,565.00 L497.00,567.49" fill="none" stroke="#D0203E" stroke-width="1.7" stroke-linejoin="round"/>
<rect x="327.4" y="492.4" width="178.80" height="99.60" fill="none" stroke="#1a1a1a" stroke-width="0.9"/>
<line x1="324.40" y1="592.00" x2="327.40" y2="592.00" stroke="#1a1a1a" stroke-width="0.8"/>
<text x="322.00" y="594.20" font-size="6.2" fill="#111" text-anchor="end" textLength="20.4" lengthAdjust="spacingAndGlyphs" stroke="#111" stroke-width="0.07">0.0000</text>
<line x1="324.40" y1="575.40" x2="327.40" y2="575.40" stroke="#1a1a1a" stroke-width="0.8"/>
<text x="322.00" y="577.60" font-size="6.2" fill="#111" text-anchor="end" textLength="20.4" lengthAdjust="spacingAndGlyphs" stroke="#111" stroke-width="0.07">0.0010</text>
<line x1="324.40" y1="558.80" x2="327.40" y2="558.80" stroke="#1a1a1a" stroke-width="0.8"/>
<text x="322.00" y="561.00" font-size="6.2" fill="#111" text-anchor="end" textLength="20.4" lengthAdjust="spacingAndGlyphs" stroke="#111" stroke-width="0.07">0.0020</text>
<line x1="324.40" y1="542.20" x2="327.40" y2="542.20" stroke="#1a1a1a" stroke-width="0.8"/>
<text x="322.00" y="544.40" font-size="6.2" fill="#111" text-anchor="end" textLength="20.4" lengthAdjust="spacingAndGlyphs" stroke="#111" stroke-width="0.07">0.0030</text>
<line x1="324.40" y1="525.60" x2="327.40" y2="525.60" stroke="#1a1a1a" stroke-width="0.8"/>
<text x="322.00" y="527.80" font-size="6.2" fill="#111" text-anchor="end" textLength="20.4" lengthAdjust="spacingAndGlyphs" stroke="#111" stroke-width="0.07">0.0040</text>
<line x1="324.40" y1="509.00" x2="327.40" y2="509.00" stroke="#1a1a1a" stroke-width="0.8"/>
<text x="322.00" y="511.20" font-size="6.2" fill="#111" text-anchor="end" textLength="20.4" lengthAdjust="spacingAndGlyphs" stroke="#111" stroke-width="0.07">0.0050</text>
<line x1="324.40" y1="492.40" x2="327.40" y2="492.40" stroke="#1a1a1a" stroke-width="0.8"/>
<text x="322.00" y="494.60" font-size="6.2" fill="#111" text-anchor="end" textLength="20.4" lengthAdjust="spacingAndGlyphs" stroke="#111" stroke-width="0.07">0.0060</text>
<line x1="327.02" y1="592.00" x2="327.02" y2="594.50" stroke="#1a1a1a" stroke-width="0.8"/>
<line x1="327.02" y1="492.40" x2="327.02" y2="494.90" stroke="#1a1a1a" stroke-width="0.8"/>
<text x="327.02" y="602.00" font-size="6.4" fill="#111" text-anchor="middle" stroke="#111" stroke-width="0.07">−250</text>
<line x1="344.90" y1="592.00" x2="344.90" y2="594.50" stroke="#1a1a1a" stroke-width="0.8"/>
<line x1="344.90" y1="492.40" x2="344.90" y2="494.90" stroke="#1a1a1a" stroke-width="0.8"/>
<text x="344.90" y="602.00" font-size="6.4" fill="#111" text-anchor="middle" stroke="#111" stroke-width="0.07">−200</text>
<line x1="362.77" y1="592.00" x2="362.77" y2="594.50" stroke="#1a1a1a" stroke-width="0.8"/>
<line x1="362.77" y1="492.40" x2="362.77" y2="494.90" stroke="#1a1a1a" stroke-width="0.8"/>
<text x="362.77" y="602.00" font-size="6.4" fill="#111" text-anchor="middle" stroke="#111" stroke-width="0.07">−150</text>
<line x1="380.65" y1="592.00" x2="380.65" y2="594.50" stroke="#1a1a1a" stroke-width="0.8"/>
<line x1="380.65" y1="492.40" x2="380.65" y2="494.90" stroke="#1a1a1a" stroke-width="0.8"/>
<text x="380.65" y="602.00" font-size="6.4" fill="#111" text-anchor="middle" stroke="#111" stroke-width="0.07">−100</text>
<line x1="398.52" y1="592.00" x2="398.52" y2="594.50" stroke="#1a1a1a" stroke-width="0.8"/>
<line x1="398.52" y1="492.40" x2="398.52" y2="494.90" stroke="#1a1a1a" stroke-width="0.8"/>
<text x="398.52" y="602.00" font-size="6.4" fill="#111" text-anchor="middle" stroke="#111" stroke-width="0.07">−50</text>
<line x1="416.40" y1="592.00" x2="416.40" y2="594.50" stroke="#1a1a1a" stroke-width="0.8"/>
<line x1="416.40" y1="492.40" x2="416.40" y2="494.90" stroke="#1a1a1a" stroke-width="0.8"/>
<text x="416.40" y="602.00" font-size="6.4" fill="#111" text-anchor="middle" stroke="#111" stroke-width="0.07">0</text>
<line x1="434.27" y1="592.00" x2="434.27" y2="594.50" stroke="#1a1a1a" stroke-width="0.8"/>
<line x1="434.27" y1="492.40" x2="434.27" y2="494.90" stroke="#1a1a1a" stroke-width="0.8"/>
<text x="434.27" y="602.00" font-size="6.4" fill="#111" text-anchor="middle" stroke="#111" stroke-width="0.07">50</text>
<line x1="452.15" y1="592.00" x2="452.15" y2="594.50" stroke="#1a1a1a" stroke-width="0.8"/>
<line x1="452.15" y1="492.40" x2="452.15" y2="494.90" stroke="#1a1a1a" stroke-width="0.8"/>
<text x="452.15" y="602.00" font-size="6.4" fill="#111" text-anchor="middle" stroke="#111" stroke-width="0.07">100</text>
<line x1="470.02" y1="592.00" x2="470.02" y2="594.50" stroke="#1a1a1a" stroke-width="0.8"/>
<line x1="470.02" y1="492.40" x2="470.02" y2="494.90" stroke="#1a1a1a" stroke-width="0.8"/>
<text x="470.02" y="602.00" font-size="6.4" fill="#111" text-anchor="middle" stroke="#111" stroke-width="0.07">150</text>
<line x1="487.90" y1="592.00" x2="487.90" y2="594.50" stroke="#1a1a1a" stroke-width="0.8"/>
<line x1="487.90" y1="492.40" x2="487.90" y2="494.90" stroke="#1a1a1a" stroke-width="0.8"/>
<text x="487.90" y="602.00" font-size="6.4" fill="#111" text-anchor="middle" stroke="#111" stroke-width="0.07">200</text>
<line x1="505.77" y1="592.00" x2="505.77" y2="594.50" stroke="#1a1a1a" stroke-width="0.8"/>
<line x1="505.77" y1="492.40" x2="505.77" y2="494.90" stroke="#1a1a1a" stroke-width="0.8"/>
<text x="505.77" y="602.00" font-size="6.4" fill="#111" text-anchor="middle" stroke="#111" stroke-width="0.07">250</text>
<text transform="translate(295.3,541.4) rotate(-90)" font-size="8.4" text-anchor="middle" fill="#111" textLength="29.8" lengthAdjust="spacingAndGlyphs" stroke="#111" stroke-width="0.15">Probability</text>
<text x="416.80" y="610.70" font-size="7.6" fill="#111" text-anchor="middle" textLength="91.6" lengthAdjust="spacingAndGlyphs" stroke="#111" stroke-width="0.15">Position of best site in sequence</text>
<rect x="442.3" y="495.0" width="61.0" height="42.0" fill="#fff" stroke="#1a1a1a" stroke-width="0.8"/>
<rect x="445.00" y="498.00" width="4.40" height="4.40" fill="#5E3512"/>
<text x="450.8" y="502.30" font-size="5.9" fill="#111">MEME 1 p=1.2e<tspan font-size="4.4" dy="-2.4">-601</tspan></text>
<rect x="445.00" y="504.35" width="4.40" height="4.40" fill="#1E5AA6"/>
<text x="450.8" y="508.65" font-size="5.9" fill="#111">MEME 5 p=9.1e<tspan font-size="4.4" dy="-2.4">-126</tspan></text>
<rect x="445.00" y="510.70" width="4.40" height="4.40" fill="#5C2D86"/>
<text x="450.8" y="515.00" font-size="5.9" fill="#111">MEME 2 p=8.1e<tspan font-size="4.4" dy="-2.4">-88</tspan></text>
<rect x="445.00" y="517.05" width="4.40" height="4.40" fill="#3DB542"/>
<text x="450.8" y="521.35" font-size="5.9" fill="#111">MEME 6 p=9.5e<tspan font-size="4.4" dy="-2.4">-80</tspan></text>
<rect x="445.00" y="523.40" width="4.40" height="4.40" fill="#D0203E"/>
<text x="450.8" y="527.70" font-size="5.9" fill="#111">MEME 3 p=6.9e<tspan font-size="4.4" dy="-2.4">-19</tspan></text>
<rect x="445.00" y="529.75" width="4.40" height="4.40" fill="#F5B41A"/>
<text x="450.80" y="534.05" font-size="5.9" fill="#111" stroke="#111" stroke-width="0.07">MEME 4 p=1.0</text>
<rect x="1.25" y="0.5" width="517.2" height="617.2" fill="none" stroke="#1c1c1c" stroke-width="1.5"/>
</svg></body></html>
